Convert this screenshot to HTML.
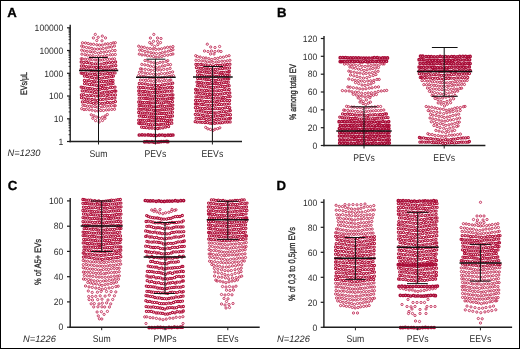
<!DOCTYPE html>
<html><head><meta charset="utf-8"><style>
html,body{margin:0;padding:0;background:#fff;}
svg{display:block;}
text{font-family:"Liberation Sans",sans-serif;fill:#2b2b2b;-webkit-font-smoothing:antialiased;text-rendering:geometricPrecision;}
svg{will-change:transform;}
circle{r:1.12px;fill:none;stroke:#b3103c;stroke-width:1.0px;}
circle.l0{stroke:#c2345e;stroke-width:0.95px;}
circle.l1{stroke:#be264f;stroke-width:0.92px;}
circle.l2{stroke:#b0103a;stroke-width:1.05px;}
circle.l3{stroke:#a80c37;stroke-width:1.4px;r:1.15px;}
</style></head><body>
<svg width="520" height="349" viewBox="0 0 520 349">
<rect x="0.5" y="0.5" width="519" height="348" fill="#fff" stroke="#000" stroke-width="1"/>
<g><circle cx="95.3" cy="34.4" r="1.1" class="l0"/><circle cx="93.4" cy="37.9" r="1.1" class="l0"/><circle cx="98.2" cy="37.3" r="1.1" class="l0"/><circle cx="102.3" cy="36.1" r="1.1" class="l0"/><circle cx="105.5" cy="37.9" r="1.1" class="l0"/><circle cx="96.8" cy="40.5" r="1.1" class="l0"/><circle cx="102.0" cy="40.8" r="1.1" class="l0"/><circle cx="99.5" cy="45.1" r="1.1" class="l1"/><circle cx="102.3" cy="45.1" r="1.1" class="l1"/><circle cx="96.8" cy="44.8" r="1.1" class="l1"/><circle cx="105.2" cy="44.1" r="1.1" class="l1"/><circle cx="93.6" cy="44.3" r="1.1" class="l1"/><circle cx="107.7" cy="43.8" r="1.1" class="l1"/><circle cx="90.8" cy="44.2" r="1.1" class="l1"/><circle cx="110.7" cy="43.6" r="1.1" class="l1"/><circle cx="88.2" cy="43.5" r="1.1" class="l1"/><circle cx="113.2" cy="42.9" r="1.1" class="l1"/><circle cx="85.5" cy="43.0" r="1.1" class="l1"/><circle cx="115.3" cy="42.7" r="1.1" class="l1"/><circle cx="82.5" cy="42.8" r="1.1" class="l1"/><circle cx="97.6" cy="49.1" r="1.1" class="l1"/><circle cx="100.4" cy="49.0" r="1.1" class="l1"/><circle cx="94.6" cy="49.1" r="1.1" class="l1"/><circle cx="103.2" cy="48.5" r="1.1" class="l1"/><circle cx="91.9" cy="48.4" r="1.1" class="l1"/><circle cx="106.2" cy="48.1" r="1.1" class="l1"/><circle cx="89.2" cy="47.8" r="1.1" class="l1"/><circle cx="108.9" cy="47.1" r="1.1" class="l1"/><circle cx="86.5" cy="47.4" r="1.1" class="l1"/><circle cx="111.5" cy="47.0" r="1.1" class="l1"/><circle cx="83.6" cy="46.8" r="1.1" class="l1"/><circle cx="114.4" cy="46.1" r="1.1" class="l1"/><circle cx="81.7" cy="46.1" r="1.1" class="l1"/><circle cx="98.5" cy="53.3" r="1.1" class="l1"/><circle cx="100.9" cy="52.4" r="1.1" class="l1"/><circle cx="95.3" cy="52.5" r="1.1" class="l1"/><circle cx="103.9" cy="52.2" r="1.1" class="l1"/><circle cx="92.4" cy="52.0" r="1.1" class="l1"/><circle cx="106.6" cy="51.7" r="1.1" class="l1"/><circle cx="90.1" cy="51.7" r="1.1" class="l1"/><circle cx="109.5" cy="51.3" r="1.1" class="l1"/><circle cx="87.1" cy="51.3" r="1.1" class="l1"/><circle cx="112.5" cy="50.5" r="1.1" class="l1"/><circle cx="84.4" cy="50.9" r="1.1" class="l1"/><circle cx="115.1" cy="50.5" r="1.1" class="l1"/><circle cx="81.7" cy="50.2" r="1.1" class="l1"/><circle cx="98.7" cy="56.7" r="1.1" class="l1"/><circle cx="101.4" cy="56.3" r="1.1" class="l1"/><circle cx="96.3" cy="56.6" r="1.1" class="l1"/><circle cx="104.4" cy="55.9" r="1.1" class="l1"/><circle cx="93.0" cy="55.7" r="1.1" class="l1"/><circle cx="107.1" cy="55.5" r="1.1" class="l1"/><circle cx="90.2" cy="55.7" r="1.1" class="l1"/><circle cx="110.3" cy="54.8" r="1.1" class="l1"/><circle cx="87.4" cy="55.1" r="1.1" class="l1"/><circle cx="112.6" cy="54.7" r="1.1" class="l1"/><circle cx="85.0" cy="54.7" r="1.1" class="l1"/><circle cx="115.3" cy="54.5" r="1.1" class="l1"/><circle cx="81.9" cy="54.2" r="1.1" class="l1"/><circle cx="97.2" cy="60.1" r="1.1" class="l1"/><circle cx="100.0" cy="60.1" r="1.1" class="l1"/><circle cx="95.1" cy="59.9" r="1.1" class="l1"/><circle cx="102.5" cy="60.0" r="1.1" class="l1"/><circle cx="92.3" cy="59.7" r="1.1" class="l1"/><circle cx="104.6" cy="59.3" r="1.1" class="l1"/><circle cx="90.0" cy="59.3" r="1.1" class="l1"/><circle cx="107.4" cy="59.5" r="1.1" class="l1"/><circle cx="87.5" cy="59.3" r="1.1" class="l1"/><circle cx="109.5" cy="59.2" r="1.1" class="l1"/><circle cx="85.2" cy="59.2" r="1.1" class="l1"/><circle cx="112.3" cy="59.0" r="1.1" class="l1"/><circle cx="82.4" cy="58.8" r="1.1" class="l1"/><circle cx="114.5" cy="58.8" r="1.1" class="l1"/><circle cx="81.2" cy="58.8" r="1.1" class="l1"/><circle cx="97.8" cy="63.9" r="1.1" class="l2"/><circle cx="101.0" cy="64.1" r="1.1" class="l2"/><circle cx="95.4" cy="63.8" r="1.1" class="l2"/><circle cx="104.0" cy="63.4" r="1.1" class="l2"/><circle cx="92.1" cy="63.7" r="1.1" class="l2"/><circle cx="106.6" cy="63.0" r="1.1" class="l2"/><circle cx="89.4" cy="62.9" r="1.1" class="l2"/><circle cx="109.6" cy="62.6" r="1.1" class="l2"/><circle cx="86.7" cy="62.5" r="1.1" class="l2"/><circle cx="112.5" cy="62.3" r="1.1" class="l2"/><circle cx="83.8" cy="62.4" r="1.1" class="l2"/><circle cx="115.6" cy="62.0" r="1.1" class="l2"/><circle cx="81.2" cy="62.0" r="1.1" class="l2"/><circle cx="98.8" cy="67.5" r="1.1" class="l2"/><circle cx="101.2" cy="67.4" r="1.1" class="l2"/><circle cx="96.4" cy="67.5" r="1.1" class="l2"/><circle cx="103.7" cy="67.1" r="1.1" class="l2"/><circle cx="93.7" cy="67.1" r="1.1" class="l2"/><circle cx="106.1" cy="66.9" r="1.1" class="l2"/><circle cx="91.2" cy="66.8" r="1.1" class="l2"/><circle cx="108.7" cy="66.8" r="1.1" class="l2"/><circle cx="89.0" cy="66.8" r="1.1" class="l2"/><circle cx="111.1" cy="66.2" r="1.1" class="l2"/><circle cx="86.4" cy="66.6" r="1.1" class="l2"/><circle cx="113.3" cy="65.8" r="1.1" class="l2"/><circle cx="83.6" cy="66.0" r="1.1" class="l2"/><circle cx="115.8" cy="65.6" r="1.1" class="l2"/><circle cx="81.4" cy="65.9" r="1.1" class="l2"/><circle cx="98.4" cy="71.1" r="1.1" class="l2"/><circle cx="100.8" cy="71.1" r="1.1" class="l2"/><circle cx="96.0" cy="71.0" r="1.1" class="l2"/><circle cx="103.4" cy="70.4" r="1.1" class="l2"/><circle cx="93.6" cy="70.8" r="1.1" class="l2"/><circle cx="106.2" cy="70.2" r="1.1" class="l2"/><circle cx="91.3" cy="70.6" r="1.1" class="l2"/><circle cx="108.3" cy="69.9" r="1.1" class="l2"/><circle cx="88.8" cy="69.9" r="1.1" class="l2"/><circle cx="110.7" cy="69.8" r="1.1" class="l2"/><circle cx="86.4" cy="69.8" r="1.1" class="l2"/><circle cx="113.3" cy="69.8" r="1.1" class="l2"/><circle cx="83.9" cy="69.4" r="1.1" class="l2"/><circle cx="115.8" cy="69.4" r="1.1" class="l2"/><circle cx="81.2" cy="69.1" r="1.1" class="l2"/><circle cx="97.4" cy="74.8" r="1.1" class="l2"/><circle cx="99.8" cy="74.4" r="1.1" class="l2"/><circle cx="95.0" cy="74.5" r="1.1" class="l2"/><circle cx="102.7" cy="74.2" r="1.1" class="l2"/><circle cx="92.6" cy="74.2" r="1.1" class="l2"/><circle cx="104.9" cy="73.9" r="1.1" class="l2"/><circle cx="90.0" cy="73.8" r="1.1" class="l2"/><circle cx="107.6" cy="73.5" r="1.1" class="l2"/><circle cx="87.5" cy="73.8" r="1.1" class="l2"/><circle cx="110.2" cy="73.4" r="1.1" class="l2"/><circle cx="85.3" cy="73.2" r="1.1" class="l2"/><circle cx="112.4" cy="73.1" r="1.1" class="l2"/><circle cx="82.7" cy="73.3" r="1.1" class="l2"/><circle cx="115.0" cy="72.9" r="1.1" class="l2"/><circle cx="81.2" cy="73.1" r="1.1" class="l2"/><circle cx="99.3" cy="78.5" r="1.1" class="l2"/><circle cx="101.9" cy="78.1" r="1.1" class="l2"/><circle cx="97.0" cy="78.0" r="1.1" class="l2"/><circle cx="104.6" cy="77.7" r="1.1" class="l2"/><circle cx="94.5" cy="78.2" r="1.1" class="l2"/><circle cx="107.1" cy="77.3" r="1.1" class="l2"/><circle cx="92.0" cy="77.4" r="1.1" class="l2"/><circle cx="109.3" cy="76.8" r="1.1" class="l2"/><circle cx="89.6" cy="77.1" r="1.1" class="l2"/><circle cx="111.8" cy="76.6" r="1.1" class="l2"/><circle cx="87.0" cy="76.5" r="1.1" class="l2"/><circle cx="113.4" cy="76.1" r="1.1" class="l2"/><circle cx="84.4" cy="76.1" r="1.1" class="l2"/><circle cx="99.1" cy="82.1" r="1.1" class="l2"/><circle cx="101.4" cy="81.7" r="1.1" class="l2"/><circle cx="96.3" cy="81.8" r="1.1" class="l2"/><circle cx="103.7" cy="81.4" r="1.1" class="l2"/><circle cx="94.2" cy="81.6" r="1.1" class="l2"/><circle cx="106.2" cy="81.3" r="1.1" class="l2"/><circle cx="91.7" cy="81.3" r="1.1" class="l2"/><circle cx="108.4" cy="80.9" r="1.1" class="l2"/><circle cx="89.0" cy="80.6" r="1.1" class="l2"/><circle cx="110.8" cy="80.5" r="1.1" class="l2"/><circle cx="86.8" cy="80.8" r="1.1" class="l2"/><circle cx="113.0" cy="80.4" r="1.1" class="l2"/><circle cx="84.4" cy="80.4" r="1.1" class="l2"/><circle cx="99.1" cy="86.0" r="1.1" class="l2"/><circle cx="101.6" cy="85.5" r="1.1" class="l2"/><circle cx="96.8" cy="85.7" r="1.1" class="l2"/><circle cx="103.8" cy="85.2" r="1.1" class="l2"/><circle cx="94.2" cy="84.9" r="1.1" class="l2"/><circle cx="106.3" cy="84.8" r="1.1" class="l2"/><circle cx="91.6" cy="84.7" r="1.1" class="l2"/><circle cx="108.7" cy="84.0" r="1.1" class="l2"/><circle cx="89.6" cy="84.4" r="1.1" class="l2"/><circle cx="111.1" cy="83.9" r="1.1" class="l2"/><circle cx="87.0" cy="83.9" r="1.1" class="l2"/><circle cx="113.0" cy="83.4" r="1.1" class="l2"/><circle cx="84.5" cy="83.6" r="1.1" class="l2"/><circle cx="97.8" cy="89.5" r="1.1" class="l2"/><circle cx="100.0" cy="89.3" r="1.1" class="l2"/><circle cx="95.1" cy="89.4" r="1.1" class="l2"/><circle cx="102.4" cy="88.5" r="1.1" class="l2"/><circle cx="92.6" cy="88.8" r="1.1" class="l2"/><circle cx="104.9" cy="88.4" r="1.1" class="l2"/><circle cx="90.1" cy="88.4" r="1.1" class="l2"/><circle cx="107.3" cy="88.3" r="1.1" class="l2"/><circle cx="87.9" cy="88.3" r="1.1" class="l2"/><circle cx="110.3" cy="87.6" r="1.1" class="l2"/><circle cx="85.4" cy="87.9" r="1.1" class="l2"/><circle cx="112.5" cy="87.3" r="1.1" class="l2"/><circle cx="83.0" cy="87.4" r="1.1" class="l2"/><circle cx="115.0" cy="87.1" r="1.1" class="l2"/><circle cx="81.2" cy="87.1" r="1.1" class="l2"/><circle cx="99.4" cy="93.1" r="1.1" class="l2"/><circle cx="102.1" cy="92.8" r="1.1" class="l2"/><circle cx="97.2" cy="92.8" r="1.1" class="l2"/><circle cx="104.3" cy="92.2" r="1.1" class="l2"/><circle cx="94.5" cy="92.6" r="1.1" class="l2"/><circle cx="106.9" cy="92.0" r="1.1" class="l2"/><circle cx="92.3" cy="91.9" r="1.1" class="l2"/><circle cx="109.4" cy="92.0" r="1.1" class="l2"/><circle cx="89.7" cy="91.8" r="1.1" class="l2"/><circle cx="111.9" cy="91.5" r="1.1" class="l2"/><circle cx="87.1" cy="91.2" r="1.1" class="l2"/><circle cx="114.6" cy="91.0" r="1.1" class="l2"/><circle cx="84.7" cy="91.1" r="1.1" class="l2"/><circle cx="115.8" cy="91.1" r="1.1" class="l2"/><circle cx="82.2" cy="90.8" r="1.1" class="l2"/><circle cx="98.3" cy="96.2" r="1.1" class="l2"/><circle cx="100.9" cy="95.8" r="1.1" class="l2"/><circle cx="95.4" cy="96.1" r="1.1" class="l2"/><circle cx="103.7" cy="95.6" r="1.1" class="l2"/><circle cx="92.3" cy="95.6" r="1.1" class="l2"/><circle cx="106.9" cy="95.5" r="1.1" class="l2"/><circle cx="89.7" cy="95.7" r="1.1" class="l2"/><circle cx="109.3" cy="94.9" r="1.1" class="l2"/><circle cx="86.8" cy="95.4" r="1.1" class="l2"/><circle cx="112.4" cy="94.9" r="1.1" class="l2"/><circle cx="83.7" cy="94.7" r="1.1" class="l2"/><circle cx="115.4" cy="94.9" r="1.1" class="l2"/><circle cx="81.4" cy="94.9" r="1.1" class="l2"/><circle cx="97.7" cy="100.4" r="1.1" class="l2"/><circle cx="100.5" cy="99.7" r="1.1" class="l2"/><circle cx="95.0" cy="100.0" r="1.1" class="l2"/><circle cx="103.2" cy="99.3" r="1.1" class="l2"/><circle cx="92.1" cy="99.5" r="1.1" class="l2"/><circle cx="106.1" cy="99.0" r="1.1" class="l2"/><circle cx="89.0" cy="99.2" r="1.1" class="l2"/><circle cx="109.1" cy="98.6" r="1.1" class="l2"/><circle cx="86.5" cy="99.0" r="1.1" class="l2"/><circle cx="111.9" cy="98.5" r="1.1" class="l2"/><circle cx="83.4" cy="98.1" r="1.1" class="l2"/><circle cx="114.9" cy="98.1" r="1.1" class="l2"/><circle cx="81.5" cy="97.7" r="1.1" class="l2"/><circle cx="99.4" cy="103.6" r="1.1" class="l2"/><circle cx="102.2" cy="103.3" r="1.1" class="l2"/><circle cx="96.2" cy="103.2" r="1.1" class="l2"/><circle cx="104.7" cy="103.2" r="1.1" class="l2"/><circle cx="93.5" cy="103.3" r="1.1" class="l2"/><circle cx="107.5" cy="102.5" r="1.1" class="l2"/><circle cx="90.8" cy="102.7" r="1.1" class="l2"/><circle cx="110.3" cy="102.6" r="1.1" class="l2"/><circle cx="87.8" cy="102.3" r="1.1" class="l2"/><circle cx="113.1" cy="102.3" r="1.1" class="l2"/><circle cx="84.9" cy="101.7" r="1.1" class="l2"/><circle cx="115.4" cy="101.6" r="1.1" class="l2"/><circle cx="82.4" cy="101.9" r="1.1" class="l2"/><circle cx="99.5" cy="107.4" r="1.1" class="l1"/><circle cx="102.2" cy="106.8" r="1.1" class="l1"/><circle cx="97.2" cy="107.1" r="1.1" class="l1"/><circle cx="104.4" cy="106.4" r="1.1" class="l1"/><circle cx="95.0" cy="106.6" r="1.1" class="l1"/><circle cx="106.8" cy="106.2" r="1.1" class="l1"/><circle cx="92.1" cy="106.7" r="1.1" class="l1"/><circle cx="109.4" cy="106.1" r="1.1" class="l1"/><circle cx="89.7" cy="106.3" r="1.1" class="l1"/><circle cx="111.4" cy="105.7" r="1.1" class="l1"/><circle cx="87.4" cy="106.2" r="1.1" class="l1"/><circle cx="114.2" cy="105.8" r="1.1" class="l1"/><circle cx="85.0" cy="105.6" r="1.1" class="l1"/><circle cx="115.3" cy="105.7" r="1.1" class="l1"/><circle cx="82.9" cy="105.3" r="1.1" class="l1"/><circle cx="98.0" cy="111.0" r="1.1" class="l1"/><circle cx="100.8" cy="110.5" r="1.1" class="l1"/><circle cx="95.2" cy="110.8" r="1.1" class="l1"/><circle cx="103.5" cy="110.5" r="1.1" class="l1"/><circle cx="92.1" cy="110.2" r="1.1" class="l1"/><circle cx="106.4" cy="109.9" r="1.1" class="l1"/><circle cx="89.2" cy="109.7" r="1.1" class="l1"/><circle cx="108.9" cy="109.8" r="1.1" class="l1"/><circle cx="86.3" cy="109.4" r="1.1" class="l1"/><circle cx="111.8" cy="109.4" r="1.1" class="l1"/><circle cx="84.0" cy="109.6" r="1.1" class="l1"/><circle cx="114.5" cy="109.3" r="1.1" class="l1"/><circle cx="81.7" cy="108.7" r="1.1" class="l1"/><circle cx="99.5" cy="118.4" r="1.1" class="l1"/><circle cx="102.4" cy="117.3" r="1.1" class="l1"/><circle cx="96.8" cy="117.1" r="1.1" class="l1"/><circle cx="105.1" cy="116.0" r="1.1" class="l1"/><circle cx="94.0" cy="115.8" r="1.1" class="l1"/><circle cx="107.3" cy="114.5" r="1.1" class="l1"/><circle cx="91.3" cy="114.8" r="1.1" class="l1"/><circle cx="99.1" cy="122.0" r="1.1" class="l1"/><circle cx="102.5" cy="120.5" r="1.1" class="l1"/><circle cx="95.6" cy="120.6" r="1.1" class="l1"/><circle cx="105.0" cy="118.3" r="1.1" class="l1"/><circle cx="92.8" cy="118.3" r="1.1" class="l1"/><circle cx="153.8" cy="34.4" r="1.1" class="l0"/><circle cx="150.4" cy="38.0" r="1.1" class="l0"/><circle cx="157.5" cy="38.0" r="1.1" class="l0"/><circle cx="161.0" cy="38.5" r="1.1" class="l0"/><circle cx="153.5" cy="41.3" r="1.1" class="l0"/><circle cx="157.5" cy="41.3" r="1.1" class="l0"/><circle cx="154.6" cy="46.5" r="1.1" class="l1"/><circle cx="157.8" cy="44.6" r="1.1" class="l1"/><circle cx="151.8" cy="44.3" r="1.1" class="l1"/><circle cx="160.5" cy="42.6" r="1.1" class="l1"/><circle cx="149.7" cy="42.6" r="1.1" class="l1"/><circle cx="155.8" cy="49.4" r="1.1" class="l1"/><circle cx="158.8" cy="49.2" r="1.1" class="l1"/><circle cx="153.0" cy="49.0" r="1.1" class="l1"/><circle cx="161.6" cy="48.8" r="1.1" class="l1"/><circle cx="150.2" cy="48.6" r="1.1" class="l1"/><circle cx="164.7" cy="47.9" r="1.1" class="l1"/><circle cx="147.3" cy="48.3" r="1.1" class="l1"/><circle cx="167.5" cy="47.3" r="1.1" class="l1"/><circle cx="144.3" cy="47.3" r="1.1" class="l1"/><circle cx="170.2" cy="47.2" r="1.1" class="l1"/><circle cx="141.6" cy="47.1" r="1.1" class="l1"/><circle cx="172.9" cy="46.6" r="1.1" class="l1"/><circle cx="138.7" cy="46.2" r="1.1" class="l1"/><circle cx="156.5" cy="53.5" r="1.1" class="l1"/><circle cx="159.8" cy="53.4" r="1.1" class="l1"/><circle cx="153.6" cy="53.1" r="1.1" class="l1"/><circle cx="162.3" cy="52.7" r="1.1" class="l1"/><circle cx="151.0" cy="52.7" r="1.1" class="l1"/><circle cx="165.1" cy="52.0" r="1.1" class="l1"/><circle cx="148.0" cy="52.0" r="1.1" class="l1"/><circle cx="168.3" cy="51.2" r="1.1" class="l1"/><circle cx="145.1" cy="51.4" r="1.1" class="l1"/><circle cx="170.9" cy="50.4" r="1.1" class="l1"/><circle cx="142.3" cy="50.6" r="1.1" class="l1"/><circle cx="172.9" cy="49.7" r="1.1" class="l1"/><circle cx="139.7" cy="50.1" r="1.1" class="l1"/><circle cx="156.0" cy="57.1" r="1.1" class="l1"/><circle cx="159.1" cy="56.8" r="1.1" class="l1"/><circle cx="153.5" cy="56.5" r="1.1" class="l1"/><circle cx="161.9" cy="56.4" r="1.1" class="l1"/><circle cx="150.5" cy="56.0" r="1.1" class="l1"/><circle cx="164.6" cy="55.5" r="1.1" class="l1"/><circle cx="147.5" cy="55.7" r="1.1" class="l1"/><circle cx="167.7" cy="55.2" r="1.1" class="l1"/><circle cx="144.9" cy="54.9" r="1.1" class="l1"/><circle cx="170.7" cy="54.5" r="1.1" class="l1"/><circle cx="142.0" cy="54.9" r="1.1" class="l1"/><circle cx="172.9" cy="54.0" r="1.1" class="l1"/><circle cx="139.3" cy="54.1" r="1.1" class="l1"/><circle cx="157.3" cy="63.4" r="1.1" class="l1"/><circle cx="160.0" cy="62.4" r="1.1" class="l1"/><circle cx="153.9" cy="62.8" r="1.1" class="l1"/><circle cx="162.9" cy="62.2" r="1.1" class="l1"/><circle cx="151.0" cy="62.2" r="1.1" class="l1"/><circle cx="166.2" cy="61.4" r="1.1" class="l1"/><circle cx="148.0" cy="61.2" r="1.1" class="l1"/><circle cx="167.8" cy="60.7" r="1.1" class="l1"/><circle cx="145.0" cy="60.5" r="1.1" class="l1"/><circle cx="156.1" cy="67.7" r="1.1" class="l1"/><circle cx="159.2" cy="67.1" r="1.1" class="l1"/><circle cx="153.6" cy="66.7" r="1.1" class="l1"/><circle cx="162.3" cy="66.0" r="1.1" class="l1"/><circle cx="150.5" cy="66.2" r="1.1" class="l1"/><circle cx="164.9" cy="65.7" r="1.1" class="l1"/><circle cx="147.8" cy="65.3" r="1.1" class="l1"/><circle cx="168.0" cy="64.6" r="1.1" class="l1"/><circle cx="144.8" cy="64.8" r="1.1" class="l1"/><circle cx="170.5" cy="64.6" r="1.1" class="l1"/><circle cx="141.8" cy="64.4" r="1.1" class="l1"/><circle cx="154.4" cy="70.4" r="1.1" class="l1"/><circle cx="157.7" cy="70.1" r="1.1" class="l1"/><circle cx="151.2" cy="70.3" r="1.1" class="l1"/><circle cx="160.7" cy="70.0" r="1.1" class="l1"/><circle cx="148.5" cy="69.7" r="1.1" class="l1"/><circle cx="163.7" cy="69.4" r="1.1" class="l1"/><circle cx="145.2" cy="69.3" r="1.1" class="l1"/><circle cx="167.1" cy="69.3" r="1.1" class="l1"/><circle cx="141.9" cy="69.1" r="1.1" class="l1"/><circle cx="170.1" cy="68.4" r="1.1" class="l1"/><circle cx="140.5" cy="68.8" r="1.1" class="l1"/><circle cx="155.9" cy="74.5" r="1.1" class="l1"/><circle cx="158.9" cy="74.3" r="1.1" class="l1"/><circle cx="153.5" cy="74.3" r="1.1" class="l1"/><circle cx="161.5" cy="73.6" r="1.1" class="l1"/><circle cx="150.3" cy="73.7" r="1.1" class="l1"/><circle cx="164.6" cy="73.6" r="1.1" class="l1"/><circle cx="147.5" cy="73.5" r="1.1" class="l1"/><circle cx="167.3" cy="73.2" r="1.1" class="l1"/><circle cx="145.1" cy="73.0" r="1.1" class="l1"/><circle cx="169.8" cy="72.5" r="1.1" class="l1"/><circle cx="142.1" cy="72.3" r="1.1" class="l1"/><circle cx="172.6" cy="71.9" r="1.1" class="l1"/><circle cx="139.5" cy="72.3" r="1.1" class="l1"/><circle cx="156.3" cy="78.5" r="1.1" class="l1"/><circle cx="158.9" cy="78.2" r="1.1" class="l1"/><circle cx="154.1" cy="77.9" r="1.1" class="l1"/><circle cx="161.6" cy="77.7" r="1.1" class="l1"/><circle cx="151.6" cy="77.7" r="1.1" class="l1"/><circle cx="164.2" cy="77.3" r="1.1" class="l1"/><circle cx="149.1" cy="77.4" r="1.1" class="l1"/><circle cx="166.6" cy="76.9" r="1.1" class="l1"/><circle cx="146.3" cy="77.0" r="1.1" class="l1"/><circle cx="169.1" cy="76.4" r="1.1" class="l1"/><circle cx="144.1" cy="76.3" r="1.1" class="l1"/><circle cx="171.3" cy="76.0" r="1.1" class="l1"/><circle cx="141.5" cy="76.0" r="1.1" class="l1"/><circle cx="173.4" cy="75.7" r="1.1" class="l1"/><circle cx="138.6" cy="75.5" r="1.1" class="l1"/><circle cx="156.1" cy="81.5" r="1.1" class="l1"/><circle cx="159.1" cy="81.1" r="1.1" class="l1"/><circle cx="153.7" cy="81.5" r="1.1" class="l1"/><circle cx="161.6" cy="81.3" r="1.1" class="l1"/><circle cx="150.9" cy="81.0" r="1.1" class="l1"/><circle cx="164.2" cy="80.6" r="1.1" class="l1"/><circle cx="148.4" cy="80.6" r="1.1" class="l1"/><circle cx="166.5" cy="80.5" r="1.1" class="l1"/><circle cx="145.8" cy="80.4" r="1.1" class="l1"/><circle cx="169.3" cy="80.4" r="1.1" class="l1"/><circle cx="143.5" cy="80.1" r="1.1" class="l1"/><circle cx="170.8" cy="80.0" r="1.1" class="l1"/><circle cx="140.4" cy="80.0" r="1.1" class="l1"/><circle cx="156.5" cy="85.5" r="1.1" class="l2"/><circle cx="159.4" cy="85.4" r="1.1" class="l2"/><circle cx="153.6" cy="85.2" r="1.1" class="l2"/><circle cx="162.3" cy="84.8" r="1.1" class="l2"/><circle cx="151.0" cy="84.8" r="1.1" class="l2"/><circle cx="164.8" cy="84.4" r="1.1" class="l2"/><circle cx="148.0" cy="84.6" r="1.1" class="l2"/><circle cx="167.8" cy="83.8" r="1.1" class="l2"/><circle cx="145.3" cy="83.8" r="1.1" class="l2"/><circle cx="170.7" cy="83.8" r="1.1" class="l2"/><circle cx="142.2" cy="83.7" r="1.1" class="l2"/><circle cx="172.7" cy="83.2" r="1.1" class="l2"/><circle cx="139.3" cy="83.4" r="1.1" class="l2"/><circle cx="155.5" cy="89.2" r="1.1" class="l2"/><circle cx="157.7" cy="88.9" r="1.1" class="l2"/><circle cx="153.1" cy="88.7" r="1.1" class="l2"/><circle cx="160.1" cy="88.5" r="1.1" class="l2"/><circle cx="150.7" cy="88.4" r="1.1" class="l2"/><circle cx="162.6" cy="88.1" r="1.1" class="l2"/><circle cx="148.1" cy="88.1" r="1.1" class="l2"/><circle cx="165.0" cy="88.2" r="1.1" class="l2"/><circle cx="145.4" cy="87.8" r="1.1" class="l2"/><circle cx="167.6" cy="87.6" r="1.1" class="l2"/><circle cx="143.0" cy="87.5" r="1.1" class="l2"/><circle cx="170.3" cy="87.3" r="1.1" class="l2"/><circle cx="140.5" cy="87.6" r="1.1" class="l2"/><circle cx="172.3" cy="87.5" r="1.1" class="l2"/><circle cx="138.7" cy="87.2" r="1.1" class="l2"/><circle cx="155.0" cy="92.4" r="1.1" class="l2"/><circle cx="157.3" cy="92.5" r="1.1" class="l2"/><circle cx="152.6" cy="92.3" r="1.1" class="l2"/><circle cx="159.7" cy="92.0" r="1.1" class="l2"/><circle cx="150.2" cy="92.2" r="1.1" class="l2"/><circle cx="162.4" cy="92.0" r="1.1" class="l2"/><circle cx="147.7" cy="92.0" r="1.1" class="l2"/><circle cx="164.7" cy="91.7" r="1.1" class="l2"/><circle cx="145.2" cy="91.5" r="1.1" class="l2"/><circle cx="167.1" cy="91.1" r="1.1" class="l2"/><circle cx="142.8" cy="91.5" r="1.1" class="l2"/><circle cx="169.5" cy="91.2" r="1.1" class="l2"/><circle cx="140.2" cy="91.1" r="1.1" class="l2"/><circle cx="172.0" cy="91.0" r="1.1" class="l2"/><circle cx="138.7" cy="91.0" r="1.1" class="l2"/><circle cx="156.5" cy="96.1" r="1.1" class="l2"/><circle cx="158.7" cy="95.8" r="1.1" class="l2"/><circle cx="153.7" cy="96.1" r="1.1" class="l2"/><circle cx="161.2" cy="95.7" r="1.1" class="l2"/><circle cx="151.2" cy="95.8" r="1.1" class="l2"/><circle cx="163.6" cy="95.7" r="1.1" class="l2"/><circle cx="148.9" cy="95.1" r="1.1" class="l2"/><circle cx="165.9" cy="95.1" r="1.1" class="l2"/><circle cx="146.5" cy="95.1" r="1.1" class="l2"/><circle cx="168.5" cy="95.1" r="1.1" class="l2"/><circle cx="143.9" cy="94.8" r="1.1" class="l2"/><circle cx="171.3" cy="94.9" r="1.1" class="l2"/><circle cx="141.5" cy="94.8" r="1.1" class="l2"/><circle cx="172.9" cy="94.8" r="1.1" class="l2"/><circle cx="139.0" cy="94.4" r="1.1" class="l2"/><circle cx="156.4" cy="99.5" r="1.1" class="l2"/><circle cx="158.5" cy="99.3" r="1.1" class="l2"/><circle cx="154.5" cy="99.1" r="1.1" class="l2"/><circle cx="160.7" cy="99.1" r="1.1" class="l2"/><circle cx="152.2" cy="99.1" r="1.1" class="l2"/><circle cx="163.0" cy="99.0" r="1.1" class="l2"/><circle cx="150.0" cy="99.2" r="1.1" class="l2"/><circle cx="165.3" cy="99.2" r="1.1" class="l2"/><circle cx="148.1" cy="98.6" r="1.1" class="l2"/><circle cx="167.4" cy="99.0" r="1.1" class="l2"/><circle cx="146.0" cy="98.5" r="1.1" class="l2"/><circle cx="169.2" cy="98.7" r="1.1" class="l2"/><circle cx="143.9" cy="98.3" r="1.1" class="l2"/><circle cx="171.4" cy="98.5" r="1.1" class="l2"/><circle cx="141.4" cy="98.2" r="1.1" class="l2"/><circle cx="172.9" cy="98.1" r="1.1" class="l2"/><circle cx="139.2" cy="98.2" r="1.1" class="l2"/><circle cx="155.2" cy="102.9" r="1.1" class="l2"/><circle cx="157.4" cy="102.7" r="1.1" class="l2"/><circle cx="153.1" cy="102.8" r="1.1" class="l2"/><circle cx="159.5" cy="102.8" r="1.1" class="l2"/><circle cx="150.7" cy="103.0" r="1.1" class="l2"/><circle cx="161.6" cy="102.9" r="1.1" class="l2"/><circle cx="148.9" cy="102.7" r="1.1" class="l2"/><circle cx="163.7" cy="102.7" r="1.1" class="l2"/><circle cx="146.9" cy="102.5" r="1.1" class="l2"/><circle cx="166.0" cy="102.1" r="1.1" class="l2"/><circle cx="144.3" cy="102.4" r="1.1" class="l2"/><circle cx="168.2" cy="102.3" r="1.1" class="l2"/><circle cx="142.3" cy="102.4" r="1.1" class="l2"/><circle cx="170.2" cy="102.3" r="1.1" class="l2"/><circle cx="140.5" cy="102.0" r="1.1" class="l2"/><circle cx="172.5" cy="101.6" r="1.1" class="l2"/><circle cx="138.7" cy="102.0" r="1.1" class="l2"/><circle cx="155.9" cy="106.8" r="1.1" class="l2"/><circle cx="158.2" cy="106.6" r="1.1" class="l2"/><circle cx="154.0" cy="106.8" r="1.1" class="l2"/><circle cx="160.4" cy="106.2" r="1.1" class="l2"/><circle cx="151.8" cy="106.7" r="1.1" class="l2"/><circle cx="162.3" cy="106.0" r="1.1" class="l2"/><circle cx="149.5" cy="106.0" r="1.1" class="l2"/><circle cx="164.6" cy="106.4" r="1.1" class="l2"/><circle cx="147.7" cy="106.2" r="1.1" class="l2"/><circle cx="166.8" cy="106.1" r="1.1" class="l2"/><circle cx="145.4" cy="106.0" r="1.1" class="l2"/><circle cx="168.9" cy="105.8" r="1.1" class="l2"/><circle cx="143.1" cy="105.8" r="1.1" class="l2"/><circle cx="170.9" cy="105.6" r="1.1" class="l2"/><circle cx="140.9" cy="105.6" r="1.1" class="l2"/><circle cx="172.8" cy="105.1" r="1.1" class="l2"/><circle cx="139.2" cy="105.4" r="1.1" class="l2"/><circle cx="155.6" cy="110.5" r="1.1" class="l2"/><circle cx="158.0" cy="110.3" r="1.1" class="l2"/><circle cx="153.9" cy="110.6" r="1.1" class="l2"/><circle cx="160.0" cy="110.1" r="1.1" class="l2"/><circle cx="151.6" cy="109.9" r="1.1" class="l2"/><circle cx="162.0" cy="109.7" r="1.1" class="l2"/><circle cx="149.2" cy="109.6" r="1.1" class="l2"/><circle cx="164.2" cy="109.8" r="1.1" class="l2"/><circle cx="147.1" cy="110.0" r="1.1" class="l2"/><circle cx="166.3" cy="109.7" r="1.1" class="l2"/><circle cx="145.3" cy="109.2" r="1.1" class="l2"/><circle cx="168.7" cy="109.1" r="1.1" class="l2"/><circle cx="142.8" cy="109.1" r="1.1" class="l2"/><circle cx="170.8" cy="109.2" r="1.1" class="l2"/><circle cx="141.1" cy="109.3" r="1.1" class="l2"/><circle cx="172.7" cy="108.6" r="1.1" class="l2"/><circle cx="138.8" cy="109.0" r="1.1" class="l2"/><circle cx="155.6" cy="113.9" r="1.1" class="l2"/><circle cx="157.7" cy="113.8" r="1.1" class="l2"/><circle cx="153.3" cy="114.0" r="1.1" class="l2"/><circle cx="159.9" cy="113.6" r="1.1" class="l2"/><circle cx="151.4" cy="114.0" r="1.1" class="l2"/><circle cx="161.8" cy="113.5" r="1.1" class="l2"/><circle cx="149.4" cy="113.2" r="1.1" class="l2"/><circle cx="164.2" cy="113.4" r="1.1" class="l2"/><circle cx="147.1" cy="113.2" r="1.1" class="l2"/><circle cx="166.3" cy="113.4" r="1.1" class="l2"/><circle cx="144.8" cy="113.2" r="1.1" class="l2"/><circle cx="168.4" cy="112.9" r="1.1" class="l2"/><circle cx="142.9" cy="112.8" r="1.1" class="l2"/><circle cx="170.6" cy="112.8" r="1.1" class="l2"/><circle cx="140.5" cy="112.9" r="1.1" class="l2"/><circle cx="172.4" cy="112.2" r="1.1" class="l2"/><circle cx="138.7" cy="112.5" r="1.1" class="l2"/><circle cx="156.2" cy="117.6" r="1.1" class="l2"/><circle cx="158.2" cy="117.7" r="1.1" class="l2"/><circle cx="153.9" cy="117.4" r="1.1" class="l2"/><circle cx="160.5" cy="117.5" r="1.1" class="l2"/><circle cx="151.7" cy="117.3" r="1.1" class="l2"/><circle cx="162.6" cy="117.3" r="1.1" class="l2"/><circle cx="149.8" cy="117.0" r="1.1" class="l2"/><circle cx="164.8" cy="117.1" r="1.1" class="l2"/><circle cx="147.6" cy="116.9" r="1.1" class="l2"/><circle cx="166.6" cy="116.7" r="1.1" class="l2"/><circle cx="145.4" cy="116.5" r="1.1" class="l2"/><circle cx="168.8" cy="116.6" r="1.1" class="l2"/><circle cx="143.4" cy="116.5" r="1.1" class="l2"/><circle cx="170.8" cy="116.3" r="1.1" class="l2"/><circle cx="141.5" cy="116.0" r="1.1" class="l2"/><circle cx="172.5" cy="115.9" r="1.1" class="l2"/><circle cx="139.3" cy="116.1" r="1.1" class="l2"/><circle cx="154.9" cy="120.9" r="1.1" class="l2"/><circle cx="156.9" cy="120.7" r="1.1" class="l2"/><circle cx="153.1" cy="120.9" r="1.1" class="l2"/><circle cx="159.5" cy="120.8" r="1.1" class="l2"/><circle cx="150.6" cy="121.0" r="1.1" class="l2"/><circle cx="161.3" cy="120.7" r="1.1" class="l2"/><circle cx="148.9" cy="120.4" r="1.1" class="l2"/><circle cx="163.5" cy="120.4" r="1.1" class="l2"/><circle cx="146.8" cy="120.6" r="1.1" class="l2"/><circle cx="165.5" cy="120.5" r="1.1" class="l2"/><circle cx="144.3" cy="120.3" r="1.1" class="l2"/><circle cx="168.0" cy="120.5" r="1.1" class="l2"/><circle cx="142.1" cy="120.1" r="1.1" class="l2"/><circle cx="169.7" cy="119.9" r="1.1" class="l2"/><circle cx="140.4" cy="120.3" r="1.1" class="l2"/><circle cx="171.7" cy="120.1" r="1.1" class="l2"/><circle cx="138.7" cy="120.1" r="1.1" class="l2"/><circle cx="154.9" cy="124.6" r="1.1" class="l2"/><circle cx="156.6" cy="124.5" r="1.1" class="l2"/><circle cx="152.5" cy="124.9" r="1.1" class="l2"/><circle cx="159.2" cy="124.8" r="1.1" class="l2"/><circle cx="150.4" cy="124.7" r="1.1" class="l2"/><circle cx="160.9" cy="124.3" r="1.1" class="l2"/><circle cx="148.6" cy="124.6" r="1.1" class="l2"/><circle cx="163.2" cy="124.2" r="1.1" class="l2"/><circle cx="146.5" cy="124.0" r="1.1" class="l2"/><circle cx="165.4" cy="123.9" r="1.1" class="l2"/><circle cx="144.1" cy="123.7" r="1.1" class="l2"/><circle cx="167.5" cy="123.4" r="1.1" class="l2"/><circle cx="141.9" cy="123.7" r="1.1" class="l2"/><circle cx="169.4" cy="123.7" r="1.1" class="l2"/><circle cx="139.8" cy="123.5" r="1.1" class="l2"/><circle cx="171.8" cy="123.2" r="1.1" class="l2"/><circle cx="138.7" cy="123.2" r="1.1" class="l2"/><circle cx="155.1" cy="128.5" r="1.1" class="l2"/><circle cx="157.8" cy="128.5" r="1.1" class="l2"/><circle cx="152.0" cy="128.0" r="1.1" class="l2"/><circle cx="160.1" cy="128.1" r="1.1" class="l2"/><circle cx="149.2" cy="128.0" r="1.1" class="l2"/><circle cx="162.9" cy="127.8" r="1.1" class="l2"/><circle cx="146.4" cy="127.7" r="1.1" class="l2"/><circle cx="165.7" cy="127.0" r="1.1" class="l2"/><circle cx="143.8" cy="127.4" r="1.1" class="l2"/><circle cx="168.6" cy="126.6" r="1.1" class="l2"/><circle cx="141.6" cy="127.1" r="1.1" class="l2"/><circle cx="156.3" cy="135.5" r="1.1" class="l3"/><circle cx="159.4" cy="135.1" r="1.1" class="l3"/><circle cx="153.7" cy="135.3" r="1.1" class="l3"/><circle cx="162.3" cy="135.0" r="1.1" class="l3"/><circle cx="150.9" cy="135.2" r="1.1" class="l3"/><circle cx="165.0" cy="135.4" r="1.1" class="l3"/><circle cx="148.1" cy="134.9" r="1.1" class="l3"/><circle cx="168.0" cy="135.1" r="1.1" class="l3"/><circle cx="144.9" cy="135.0" r="1.1" class="l3"/><circle cx="170.6" cy="135.2" r="1.1" class="l3"/><circle cx="142.1" cy="134.8" r="1.1" class="l3"/><circle cx="172.9" cy="135.0" r="1.1" class="l3"/><circle cx="139.3" cy="135.0" r="1.1" class="l3"/><circle cx="156.7" cy="142.0" r="1.1" class="l3"/><circle cx="158.9" cy="141.9" r="1.1" class="l3"/><circle cx="154.1" cy="142.2" r="1.1" class="l3"/><circle cx="161.3" cy="141.6" r="1.1" class="l3"/><circle cx="151.9" cy="141.7" r="1.1" class="l3"/><circle cx="163.8" cy="141.5" r="1.1" class="l3"/><circle cx="149.2" cy="141.9" r="1.1" class="l3"/><circle cx="166.5" cy="141.4" r="1.1" class="l3"/><circle cx="146.9" cy="141.7" r="1.1" class="l3"/><circle cx="167.8" cy="141.7" r="1.1" class="l3"/><circle cx="144.6" cy="141.8" r="1.1" class="l3"/><circle cx="207.3" cy="44.2" r="1.1" class="l0"/><circle cx="210.7" cy="47.0" r="1.1" class="l0"/><circle cx="215.0" cy="47.5" r="1.1" class="l0"/><circle cx="219.6" cy="46.5" r="1.1" class="l0"/><circle cx="204.5" cy="51.0" r="1.1" class="l0"/><circle cx="208.0" cy="51.5" r="1.1" class="l0"/><circle cx="211.5" cy="51.0" r="1.1" class="l0"/><circle cx="215.0" cy="51.5" r="1.1" class="l0"/><circle cx="218.5" cy="51.0" r="1.1" class="l0"/><circle cx="221.0" cy="51.5" r="1.1" class="l0"/><circle cx="210.5" cy="54.0" r="1.1" class="l0"/><circle cx="214.0" cy="54.0" r="1.1" class="l0"/><circle cx="211.8" cy="59.5" r="1.1" class="l1"/><circle cx="214.9" cy="58.6" r="1.1" class="l1"/><circle cx="208.9" cy="58.7" r="1.1" class="l1"/><circle cx="217.7" cy="58.4" r="1.1" class="l1"/><circle cx="206.0" cy="58.0" r="1.1" class="l1"/><circle cx="220.4" cy="57.4" r="1.1" class="l1"/><circle cx="203.4" cy="57.8" r="1.1" class="l1"/><circle cx="223.4" cy="57.2" r="1.1" class="l1"/><circle cx="200.2" cy="57.1" r="1.1" class="l1"/><circle cx="226.4" cy="56.3" r="1.1" class="l1"/><circle cx="197.4" cy="56.6" r="1.1" class="l1"/><circle cx="229.1" cy="55.7" r="1.1" class="l1"/><circle cx="195.7" cy="55.7" r="1.1" class="l1"/><circle cx="213.1" cy="62.4" r="1.1" class="l1"/><circle cx="216.3" cy="62.0" r="1.1" class="l1"/><circle cx="210.2" cy="62.0" r="1.1" class="l1"/><circle cx="218.9" cy="61.7" r="1.1" class="l1"/><circle cx="207.4" cy="61.9" r="1.1" class="l1"/><circle cx="221.9" cy="61.2" r="1.1" class="l1"/><circle cx="204.7" cy="61.1" r="1.1" class="l1"/><circle cx="224.6" cy="61.3" r="1.1" class="l1"/><circle cx="201.8" cy="60.9" r="1.1" class="l1"/><circle cx="227.3" cy="60.8" r="1.1" class="l1"/><circle cx="198.7" cy="60.5" r="1.1" class="l1"/><circle cx="229.9" cy="60.3" r="1.1" class="l1"/><circle cx="195.9" cy="60.3" r="1.1" class="l1"/><circle cx="212.6" cy="66.1" r="1.1" class="l2"/><circle cx="215.5" cy="65.7" r="1.1" class="l2"/><circle cx="210.4" cy="65.6" r="1.1" class="l2"/><circle cx="217.6" cy="65.5" r="1.1" class="l2"/><circle cx="207.9" cy="65.8" r="1.1" class="l2"/><circle cx="220.0" cy="65.4" r="1.1" class="l2"/><circle cx="205.7" cy="64.9" r="1.1" class="l2"/><circle cx="222.4" cy="64.9" r="1.1" class="l2"/><circle cx="203.1" cy="64.8" r="1.1" class="l2"/><circle cx="224.8" cy="64.8" r="1.1" class="l2"/><circle cx="200.9" cy="64.5" r="1.1" class="l2"/><circle cx="227.3" cy="64.5" r="1.1" class="l2"/><circle cx="198.1" cy="64.3" r="1.1" class="l2"/><circle cx="229.9" cy="64.2" r="1.1" class="l2"/><circle cx="195.9" cy="64.3" r="1.1" class="l2"/><circle cx="213.2" cy="69.8" r="1.1" class="l2"/><circle cx="215.3" cy="69.4" r="1.1" class="l2"/><circle cx="210.6" cy="69.3" r="1.1" class="l2"/><circle cx="217.7" cy="69.2" r="1.1" class="l2"/><circle cx="208.2" cy="69.0" r="1.1" class="l2"/><circle cx="220.1" cy="68.7" r="1.1" class="l2"/><circle cx="206.0" cy="69.0" r="1.1" class="l2"/><circle cx="222.6" cy="68.5" r="1.1" class="l2"/><circle cx="203.3" cy="68.3" r="1.1" class="l2"/><circle cx="225.0" cy="68.0" r="1.1" class="l2"/><circle cx="200.8" cy="68.3" r="1.1" class="l2"/><circle cx="227.3" cy="68.2" r="1.1" class="l2"/><circle cx="198.8" cy="68.1" r="1.1" class="l2"/><circle cx="229.6" cy="67.9" r="1.1" class="l2"/><circle cx="196.4" cy="67.6" r="1.1" class="l2"/><circle cx="213.7" cy="73.0" r="1.1" class="l2"/><circle cx="216.2" cy="72.7" r="1.1" class="l2"/><circle cx="211.6" cy="72.8" r="1.1" class="l2"/><circle cx="218.8" cy="72.8" r="1.1" class="l2"/><circle cx="209.1" cy="72.6" r="1.1" class="l2"/><circle cx="221.2" cy="72.4" r="1.1" class="l2"/><circle cx="206.8" cy="72.3" r="1.1" class="l2"/><circle cx="223.1" cy="72.3" r="1.1" class="l2"/><circle cx="204.7" cy="72.0" r="1.1" class="l2"/><circle cx="225.7" cy="72.1" r="1.1" class="l2"/><circle cx="202.3" cy="71.7" r="1.1" class="l2"/><circle cx="228.2" cy="71.8" r="1.1" class="l2"/><circle cx="199.9" cy="72.0" r="1.1" class="l2"/><circle cx="229.3" cy="71.4" r="1.1" class="l2"/><circle cx="197.4" cy="71.3" r="1.1" class="l2"/><circle cx="213.5" cy="76.7" r="1.1" class="l2"/><circle cx="216.0" cy="76.4" r="1.1" class="l2"/><circle cx="211.4" cy="76.2" r="1.1" class="l2"/><circle cx="218.5" cy="76.2" r="1.1" class="l2"/><circle cx="209.0" cy="76.2" r="1.1" class="l2"/><circle cx="220.4" cy="75.7" r="1.1" class="l2"/><circle cx="206.5" cy="76.1" r="1.1" class="l2"/><circle cx="222.7" cy="75.5" r="1.1" class="l2"/><circle cx="204.5" cy="75.8" r="1.1" class="l2"/><circle cx="225.4" cy="75.6" r="1.1" class="l2"/><circle cx="201.8" cy="75.3" r="1.1" class="l2"/><circle cx="227.4" cy="75.5" r="1.1" class="l2"/><circle cx="199.7" cy="75.4" r="1.1" class="l2"/><circle cx="229.1" cy="74.9" r="1.1" class="l2"/><circle cx="197.6" cy="74.9" r="1.1" class="l2"/><circle cx="213.8" cy="80.2" r="1.1" class="l2"/><circle cx="216.0" cy="80.3" r="1.1" class="l2"/><circle cx="211.4" cy="80.3" r="1.1" class="l2"/><circle cx="218.4" cy="79.7" r="1.1" class="l2"/><circle cx="209.1" cy="79.6" r="1.1" class="l2"/><circle cx="220.6" cy="79.8" r="1.1" class="l2"/><circle cx="206.8" cy="79.7" r="1.1" class="l2"/><circle cx="222.8" cy="79.1" r="1.1" class="l2"/><circle cx="204.9" cy="79.1" r="1.1" class="l2"/><circle cx="225.2" cy="79.0" r="1.1" class="l2"/><circle cx="202.4" cy="78.9" r="1.1" class="l2"/><circle cx="227.4" cy="78.8" r="1.1" class="l2"/><circle cx="199.9" cy="78.6" r="1.1" class="l2"/><circle cx="228.8" cy="78.8" r="1.1" class="l2"/><circle cx="197.7" cy="78.5" r="1.1" class="l2"/><circle cx="212.7" cy="83.8" r="1.1" class="l2"/><circle cx="215.0" cy="83.4" r="1.1" class="l2"/><circle cx="210.1" cy="83.6" r="1.1" class="l2"/><circle cx="216.9" cy="83.4" r="1.1" class="l2"/><circle cx="207.9" cy="83.5" r="1.1" class="l2"/><circle cx="219.4" cy="83.4" r="1.1" class="l2"/><circle cx="205.6" cy="83.1" r="1.1" class="l2"/><circle cx="221.5" cy="83.0" r="1.1" class="l2"/><circle cx="203.2" cy="83.2" r="1.1" class="l2"/><circle cx="223.9" cy="82.7" r="1.1" class="l2"/><circle cx="201.3" cy="82.6" r="1.1" class="l2"/><circle cx="226.2" cy="82.4" r="1.1" class="l2"/><circle cx="198.8" cy="82.5" r="1.1" class="l2"/><circle cx="228.2" cy="82.2" r="1.1" class="l2"/><circle cx="197.0" cy="82.1" r="1.1" class="l2"/><circle cx="213.3" cy="87.7" r="1.1" class="l2"/><circle cx="215.6" cy="87.1" r="1.1" class="l2"/><circle cx="211.2" cy="87.4" r="1.1" class="l2"/><circle cx="218.1" cy="86.9" r="1.1" class="l2"/><circle cx="208.9" cy="87.1" r="1.1" class="l2"/><circle cx="220.6" cy="86.6" r="1.1" class="l2"/><circle cx="206.5" cy="86.7" r="1.1" class="l2"/><circle cx="222.6" cy="86.3" r="1.1" class="l2"/><circle cx="204.3" cy="86.8" r="1.1" class="l2"/><circle cx="224.9" cy="86.4" r="1.1" class="l2"/><circle cx="201.7" cy="86.0" r="1.1" class="l2"/><circle cx="227.4" cy="85.9" r="1.1" class="l2"/><circle cx="199.3" cy="86.0" r="1.1" class="l2"/><circle cx="229.1" cy="85.7" r="1.1" class="l2"/><circle cx="197.3" cy="85.6" r="1.1" class="l2"/><circle cx="212.1" cy="90.9" r="1.1" class="l2"/><circle cx="214.1" cy="91.0" r="1.1" class="l2"/><circle cx="209.3" cy="91.0" r="1.1" class="l2"/><circle cx="216.9" cy="90.8" r="1.1" class="l2"/><circle cx="206.7" cy="90.5" r="1.1" class="l2"/><circle cx="219.2" cy="90.6" r="1.1" class="l2"/><circle cx="204.6" cy="90.6" r="1.1" class="l2"/><circle cx="221.8" cy="90.3" r="1.1" class="l2"/><circle cx="202.0" cy="90.2" r="1.1" class="l2"/><circle cx="224.2" cy="89.6" r="1.1" class="l2"/><circle cx="199.6" cy="89.9" r="1.1" class="l2"/><circle cx="226.4" cy="89.9" r="1.1" class="l2"/><circle cx="196.9" cy="89.8" r="1.1" class="l2"/><circle cx="229.2" cy="89.5" r="1.1" class="l2"/><circle cx="195.6" cy="89.3" r="1.1" class="l2"/><circle cx="212.6" cy="94.6" r="1.1" class="l2"/><circle cx="214.9" cy="94.7" r="1.1" class="l2"/><circle cx="210.1" cy="94.5" r="1.1" class="l2"/><circle cx="217.6" cy="94.4" r="1.1" class="l2"/><circle cx="207.6" cy="94.4" r="1.1" class="l2"/><circle cx="220.1" cy="94.1" r="1.1" class="l2"/><circle cx="205.4" cy="94.0" r="1.1" class="l2"/><circle cx="222.3" cy="93.9" r="1.1" class="l2"/><circle cx="202.8" cy="93.6" r="1.1" class="l2"/><circle cx="224.7" cy="93.3" r="1.1" class="l2"/><circle cx="200.2" cy="93.3" r="1.1" class="l2"/><circle cx="227.4" cy="93.3" r="1.1" class="l2"/><circle cx="197.8" cy="93.0" r="1.1" class="l2"/><circle cx="229.8" cy="93.0" r="1.1" class="l2"/><circle cx="195.6" cy="92.8" r="1.1" class="l2"/><circle cx="213.0" cy="98.4" r="1.1" class="l2"/><circle cx="215.4" cy="97.9" r="1.1" class="l2"/><circle cx="210.8" cy="97.8" r="1.1" class="l2"/><circle cx="218.0" cy="98.0" r="1.1" class="l2"/><circle cx="208.3" cy="97.6" r="1.1" class="l2"/><circle cx="220.7" cy="97.8" r="1.1" class="l2"/><circle cx="205.9" cy="97.4" r="1.1" class="l2"/><circle cx="223.1" cy="97.5" r="1.1" class="l2"/><circle cx="203.1" cy="97.2" r="1.1" class="l2"/><circle cx="225.4" cy="97.3" r="1.1" class="l2"/><circle cx="200.8" cy="97.0" r="1.1" class="l2"/><circle cx="228.1" cy="96.7" r="1.1" class="l2"/><circle cx="198.1" cy="96.7" r="1.1" class="l2"/><circle cx="230.1" cy="96.6" r="1.1" class="l2"/><circle cx="196.0" cy="96.8" r="1.1" class="l2"/><circle cx="212.2" cy="101.6" r="1.1" class="l2"/><circle cx="214.7" cy="101.8" r="1.1" class="l2"/><circle cx="209.5" cy="101.6" r="1.1" class="l2"/><circle cx="217.0" cy="101.5" r="1.1" class="l2"/><circle cx="207.0" cy="101.3" r="1.1" class="l2"/><circle cx="219.6" cy="101.1" r="1.1" class="l2"/><circle cx="204.8" cy="101.4" r="1.1" class="l2"/><circle cx="221.8" cy="100.7" r="1.1" class="l2"/><circle cx="202.2" cy="100.9" r="1.1" class="l2"/><circle cx="224.3" cy="100.6" r="1.1" class="l2"/><circle cx="199.6" cy="100.5" r="1.1" class="l2"/><circle cx="227.1" cy="100.5" r="1.1" class="l2"/><circle cx="197.4" cy="100.7" r="1.1" class="l2"/><circle cx="229.6" cy="100.5" r="1.1" class="l2"/><circle cx="195.5" cy="100.3" r="1.1" class="l2"/><circle cx="211.8" cy="105.4" r="1.1" class="l2"/><circle cx="214.3" cy="105.2" r="1.1" class="l2"/><circle cx="209.3" cy="105.2" r="1.1" class="l2"/><circle cx="216.6" cy="104.8" r="1.1" class="l2"/><circle cx="206.9" cy="105.2" r="1.1" class="l2"/><circle cx="219.4" cy="104.5" r="1.1" class="l2"/><circle cx="204.1" cy="104.6" r="1.1" class="l2"/><circle cx="221.6" cy="104.6" r="1.1" class="l2"/><circle cx="201.9" cy="104.5" r="1.1" class="l2"/><circle cx="224.2" cy="104.2" r="1.1" class="l2"/><circle cx="199.4" cy="104.1" r="1.1" class="l2"/><circle cx="226.5" cy="104.1" r="1.1" class="l2"/><circle cx="196.7" cy="104.0" r="1.1" class="l2"/><circle cx="229.3" cy="103.8" r="1.1" class="l2"/><circle cx="195.4" cy="103.9" r="1.1" class="l2"/><circle cx="212.4" cy="109.1" r="1.1" class="l2"/><circle cx="215.1" cy="108.7" r="1.1" class="l2"/><circle cx="210.2" cy="108.8" r="1.1" class="l2"/><circle cx="217.7" cy="108.7" r="1.1" class="l2"/><circle cx="207.7" cy="108.6" r="1.1" class="l2"/><circle cx="219.8" cy="108.6" r="1.1" class="l2"/><circle cx="205.0" cy="108.5" r="1.1" class="l2"/><circle cx="222.6" cy="108.3" r="1.1" class="l2"/><circle cx="202.4" cy="108.3" r="1.1" class="l2"/><circle cx="225.1" cy="107.8" r="1.1" class="l2"/><circle cx="200.2" cy="108.2" r="1.1" class="l2"/><circle cx="227.5" cy="107.4" r="1.1" class="l2"/><circle cx="197.6" cy="107.4" r="1.1" class="l2"/><circle cx="229.7" cy="107.6" r="1.1" class="l2"/><circle cx="195.4" cy="107.7" r="1.1" class="l2"/><circle cx="213.9" cy="113.0" r="1.1" class="l2"/><circle cx="216.0" cy="112.9" r="1.1" class="l2"/><circle cx="211.1" cy="112.5" r="1.1" class="l2"/><circle cx="218.9" cy="112.3" r="1.1" class="l2"/><circle cx="208.5" cy="112.5" r="1.1" class="l2"/><circle cx="221.4" cy="111.8" r="1.1" class="l2"/><circle cx="206.2" cy="112.1" r="1.1" class="l2"/><circle cx="223.6" cy="111.7" r="1.1" class="l2"/><circle cx="203.7" cy="111.9" r="1.1" class="l2"/><circle cx="226.3" cy="111.6" r="1.1" class="l2"/><circle cx="201.2" cy="111.1" r="1.1" class="l2"/><circle cx="229.0" cy="110.9" r="1.1" class="l2"/><circle cx="198.6" cy="111.1" r="1.1" class="l2"/><circle cx="230.3" cy="110.6" r="1.1" class="l2"/><circle cx="196.3" cy="110.8" r="1.1" class="l2"/><circle cx="213.3" cy="116.8" r="1.1" class="l2"/><circle cx="215.5" cy="115.9" r="1.1" class="l2"/><circle cx="210.7" cy="116.4" r="1.1" class="l2"/><circle cx="218.1" cy="116.1" r="1.1" class="l2"/><circle cx="207.9" cy="116.0" r="1.1" class="l2"/><circle cx="220.7" cy="115.5" r="1.1" class="l2"/><circle cx="205.7" cy="115.8" r="1.1" class="l2"/><circle cx="222.9" cy="115.4" r="1.1" class="l2"/><circle cx="203.1" cy="115.5" r="1.1" class="l2"/><circle cx="225.6" cy="115.0" r="1.1" class="l2"/><circle cx="200.5" cy="114.9" r="1.1" class="l2"/><circle cx="227.8" cy="114.6" r="1.1" class="l2"/><circle cx="197.9" cy="114.6" r="1.1" class="l2"/><circle cx="230.4" cy="114.7" r="1.1" class="l2"/><circle cx="195.3" cy="114.3" r="1.1" class="l2"/><circle cx="214.0" cy="120.3" r="1.1" class="l2"/><circle cx="216.3" cy="119.5" r="1.1" class="l2"/><circle cx="211.7" cy="119.8" r="1.1" class="l2"/><circle cx="219.1" cy="119.4" r="1.1" class="l2"/><circle cx="209.1" cy="119.4" r="1.1" class="l2"/><circle cx="221.5" cy="118.9" r="1.1" class="l2"/><circle cx="206.3" cy="119.4" r="1.1" class="l2"/><circle cx="223.8" cy="118.8" r="1.1" class="l2"/><circle cx="203.8" cy="118.7" r="1.1" class="l2"/><circle cx="226.4" cy="118.8" r="1.1" class="l2"/><circle cx="201.2" cy="118.6" r="1.1" class="l2"/><circle cx="229.2" cy="118.4" r="1.1" class="l2"/><circle cx="198.7" cy="118.5" r="1.1" class="l2"/><circle cx="230.4" cy="118.2" r="1.1" class="l2"/><circle cx="196.1" cy="118.2" r="1.1" class="l2"/><circle cx="212.2" cy="123.4" r="1.1" class="l2"/><circle cx="214.9" cy="123.3" r="1.1" class="l2"/><circle cx="210.0" cy="123.2" r="1.1" class="l2"/><circle cx="217.5" cy="122.9" r="1.1" class="l2"/><circle cx="207.6" cy="122.7" r="1.1" class="l2"/><circle cx="220.2" cy="122.8" r="1.1" class="l2"/><circle cx="204.9" cy="122.5" r="1.1" class="l2"/><circle cx="222.4" cy="122.7" r="1.1" class="l2"/><circle cx="202.2" cy="122.3" r="1.1" class="l2"/><circle cx="225.2" cy="122.1" r="1.1" class="l2"/><circle cx="200.0" cy="122.1" r="1.1" class="l2"/><circle cx="227.6" cy="122.0" r="1.1" class="l2"/><circle cx="197.3" cy="122.1" r="1.1" class="l2"/><circle cx="230.1" cy="121.9" r="1.1" class="l2"/><circle cx="195.2" cy="121.7" r="1.1" class="l2"/><circle cx="213.0" cy="130.4" r="1.1" class="l1"/><circle cx="215.0" cy="129.2" r="1.1" class="l1"/><circle cx="210.4" cy="129.4" r="1.1" class="l1"/><circle cx="217.6" cy="128.7" r="1.1" class="l1"/><circle cx="207.8" cy="128.8" r="1.1" class="l1"/><circle cx="219.8" cy="127.8" r="1.1" class="l1"/><circle cx="205.7" cy="127.4" r="1.1" class="l1"/><circle cx="363.7" cy="58.2" r="1.1" class="l3"/><circle cx="366.3" cy="58.1" r="1.1" class="l3"/><circle cx="361.2" cy="58.0" r="1.1" class="l3"/><circle cx="369.0" cy="58.1" r="1.1" class="l3"/><circle cx="358.6" cy="57.9" r="1.1" class="l3"/><circle cx="372.0" cy="58.1" r="1.1" class="l3"/><circle cx="355.8" cy="57.9" r="1.1" class="l3"/><circle cx="374.3" cy="57.7" r="1.1" class="l3"/><circle cx="353.2" cy="57.8" r="1.1" class="l3"/><circle cx="377.2" cy="57.6" r="1.1" class="l3"/><circle cx="350.6" cy="57.9" r="1.1" class="l3"/><circle cx="379.6" cy="58.0" r="1.1" class="l3"/><circle cx="347.9" cy="57.8" r="1.1" class="l3"/><circle cx="382.6" cy="57.9" r="1.1" class="l3"/><circle cx="345.5" cy="57.6" r="1.1" class="l3"/><circle cx="384.9" cy="57.9" r="1.1" class="l3"/><circle cx="342.8" cy="57.6" r="1.1" class="l3"/><circle cx="387.5" cy="57.9" r="1.1" class="l3"/><circle cx="340.2" cy="57.7" r="1.1" class="l3"/><circle cx="362.5" cy="61.8" r="1.1" class="l3"/><circle cx="365.6" cy="61.5" r="1.1" class="l3"/><circle cx="360.3" cy="61.8" r="1.1" class="l3"/><circle cx="367.7" cy="61.9" r="1.1" class="l3"/><circle cx="357.7" cy="61.4" r="1.1" class="l3"/><circle cx="370.4" cy="61.7" r="1.1" class="l3"/><circle cx="354.8" cy="61.6" r="1.1" class="l3"/><circle cx="373.0" cy="61.5" r="1.1" class="l3"/><circle cx="352.5" cy="61.2" r="1.1" class="l3"/><circle cx="376.0" cy="61.4" r="1.1" class="l3"/><circle cx="349.7" cy="61.3" r="1.1" class="l3"/><circle cx="378.4" cy="61.2" r="1.1" class="l3"/><circle cx="347.1" cy="61.3" r="1.1" class="l3"/><circle cx="381.2" cy="61.2" r="1.1" class="l3"/><circle cx="344.2" cy="61.4" r="1.1" class="l3"/><circle cx="383.7" cy="61.3" r="1.1" class="l3"/><circle cx="341.7" cy="61.6" r="1.1" class="l3"/><circle cx="386.5" cy="61.2" r="1.1" class="l3"/><circle cx="340.2" cy="61.6" r="1.1" class="l3"/><circle cx="365.1" cy="66.5" r="1.1" class="l1"/><circle cx="368.0" cy="65.9" r="1.1" class="l1"/><circle cx="362.2" cy="66.3" r="1.1" class="l1"/><circle cx="370.9" cy="65.6" r="1.1" class="l1"/><circle cx="359.5" cy="65.4" r="1.1" class="l1"/><circle cx="373.9" cy="65.0" r="1.1" class="l1"/><circle cx="356.3" cy="65.5" r="1.1" class="l1"/><circle cx="376.7" cy="65.0" r="1.1" class="l1"/><circle cx="353.3" cy="64.8" r="1.1" class="l1"/><circle cx="379.9" cy="64.3" r="1.1" class="l1"/><circle cx="350.8" cy="64.7" r="1.1" class="l1"/><circle cx="382.7" cy="63.9" r="1.1" class="l1"/><circle cx="347.7" cy="64.1" r="1.1" class="l1"/><circle cx="384.1" cy="63.9" r="1.1" class="l1"/><circle cx="344.5" cy="64.1" r="1.1" class="l1"/><circle cx="364.1" cy="70.5" r="1.1" class="l1"/><circle cx="367.1" cy="69.8" r="1.1" class="l1"/><circle cx="361.4" cy="69.6" r="1.1" class="l1"/><circle cx="370.2" cy="69.0" r="1.1" class="l1"/><circle cx="358.5" cy="69.1" r="1.1" class="l1"/><circle cx="372.9" cy="68.5" r="1.1" class="l1"/><circle cx="355.4" cy="68.3" r="1.1" class="l1"/><circle cx="375.8" cy="68.1" r="1.1" class="l1"/><circle cx="352.7" cy="67.9" r="1.1" class="l1"/><circle cx="378.5" cy="67.4" r="1.1" class="l1"/><circle cx="349.9" cy="67.0" r="1.1" class="l1"/><circle cx="363.3" cy="73.8" r="1.1" class="l1"/><circle cx="366.1" cy="73.4" r="1.1" class="l1"/><circle cx="360.0" cy="73.1" r="1.1" class="l1"/><circle cx="369.2" cy="73.2" r="1.1" class="l1"/><circle cx="357.1" cy="72.9" r="1.1" class="l1"/><circle cx="372.3" cy="72.6" r="1.1" class="l1"/><circle cx="354.2" cy="72.2" r="1.1" class="l1"/><circle cx="375.2" cy="71.8" r="1.1" class="l1"/><circle cx="351.0" cy="71.8" r="1.1" class="l1"/><circle cx="378.1" cy="71.3" r="1.1" class="l1"/><circle cx="348.8" cy="71.1" r="1.1" class="l1"/><circle cx="363.5" cy="78.1" r="1.1" class="l1"/><circle cx="366.8" cy="77.6" r="1.1" class="l1"/><circle cx="360.1" cy="77.3" r="1.1" class="l1"/><circle cx="369.8" cy="76.5" r="1.1" class="l1"/><circle cx="357.0" cy="76.6" r="1.1" class="l1"/><circle cx="373.2" cy="75.5" r="1.1" class="l1"/><circle cx="353.8" cy="75.8" r="1.1" class="l1"/><circle cx="375.9" cy="74.6" r="1.1" class="l1"/><circle cx="350.5" cy="75.0" r="1.1" class="l1"/><circle cx="364.5" cy="81.6" r="1.1" class="l1"/><circle cx="367.8" cy="81.0" r="1.1" class="l1"/><circle cx="361.4" cy="81.0" r="1.1" class="l1"/><circle cx="370.7" cy="80.8" r="1.1" class="l1"/><circle cx="358.3" cy="80.6" r="1.1" class="l1"/><circle cx="373.9" cy="80.3" r="1.1" class="l1"/><circle cx="355.2" cy="80.3" r="1.1" class="l1"/><circle cx="377.0" cy="79.4" r="1.1" class="l1"/><circle cx="352.3" cy="79.7" r="1.1" class="l1"/><circle cx="379.2" cy="79.4" r="1.1" class="l1"/><circle cx="348.8" cy="79.0" r="1.1" class="l1"/><circle cx="365.0" cy="85.4" r="1.1" class="l1"/><circle cx="368.1" cy="84.7" r="1.1" class="l1"/><circle cx="362.0" cy="85.0" r="1.1" class="l1"/><circle cx="371.0" cy="83.9" r="1.1" class="l1"/><circle cx="358.7" cy="83.6" r="1.1" class="l1"/><circle cx="373.6" cy="82.4" r="1.1" class="l1"/><circle cx="355.5" cy="82.6" r="1.1" class="l1"/><circle cx="362.9" cy="89.1" r="1.1" class="l1"/><circle cx="366.0" cy="88.8" r="1.1" class="l1"/><circle cx="359.8" cy="88.8" r="1.1" class="l1"/><circle cx="369.3" cy="88.2" r="1.1" class="l1"/><circle cx="356.8" cy="88.1" r="1.1" class="l1"/><circle cx="372.1" cy="87.8" r="1.1" class="l1"/><circle cx="353.4" cy="87.7" r="1.1" class="l1"/><circle cx="375.4" cy="87.2" r="1.1" class="l1"/><circle cx="350.2" cy="87.2" r="1.1" class="l1"/><circle cx="378.5" cy="86.9" r="1.1" class="l1"/><circle cx="347.9" cy="86.9" r="1.1" class="l1"/><circle cx="365.2" cy="93.5" r="1.1" class="l1"/><circle cx="368.2" cy="92.9" r="1.1" class="l1"/><circle cx="361.7" cy="93.2" r="1.1" class="l1"/><circle cx="371.4" cy="92.8" r="1.1" class="l1"/><circle cx="358.4" cy="92.3" r="1.1" class="l1"/><circle cx="375.0" cy="92.3" r="1.1" class="l1"/><circle cx="355.5" cy="92.1" r="1.1" class="l1"/><circle cx="378.2" cy="91.5" r="1.1" class="l1"/><circle cx="352.0" cy="91.8" r="1.1" class="l1"/><circle cx="381.3" cy="91.0" r="1.1" class="l1"/><circle cx="349.1" cy="91.0" r="1.1" class="l1"/><circle cx="384.3" cy="90.7" r="1.1" class="l1"/><circle cx="345.7" cy="90.9" r="1.1" class="l1"/><circle cx="386.7" cy="90.4" r="1.1" class="l1"/><circle cx="342.4" cy="90.6" r="1.1" class="l1"/><circle cx="365.0" cy="96.9" r="1.1" class="l1"/><circle cx="367.9" cy="96.3" r="1.1" class="l1"/><circle cx="362.1" cy="96.1" r="1.1" class="l1"/><circle cx="370.9" cy="95.5" r="1.1" class="l1"/><circle cx="359.3" cy="96.0" r="1.1" class="l1"/><circle cx="373.5" cy="95.2" r="1.1" class="l1"/><circle cx="356.3" cy="95.1" r="1.1" class="l1"/><circle cx="376.4" cy="94.5" r="1.1" class="l1"/><circle cx="353.3" cy="94.3" r="1.1" class="l1"/><circle cx="363.4" cy="101.6" r="1.1" class="l1"/><circle cx="366.4" cy="99.9" r="1.1" class="l1"/><circle cx="360.8" cy="99.7" r="1.1" class="l1"/><circle cx="369.9" cy="97.7" r="1.1" class="l1"/><circle cx="358.2" cy="97.9" r="1.1" class="l1"/><circle cx="365.7" cy="104.6" r="1.1" class="l1"/><circle cx="368.4" cy="103.2" r="1.1" class="l1"/><circle cx="363.0" cy="103.6" r="1.1" class="l1"/><circle cx="370.4" cy="102.1" r="1.1" class="l1"/><circle cx="360.0" cy="102.1" r="1.1" class="l1"/><circle cx="362.9" cy="108.4" r="1.1" class="l1"/><circle cx="366.0" cy="107.9" r="1.1" class="l1"/><circle cx="360.1" cy="107.6" r="1.1" class="l1"/><circle cx="368.9" cy="107.4" r="1.1" class="l1"/><circle cx="357.2" cy="107.6" r="1.1" class="l1"/><circle cx="371.7" cy="107.1" r="1.1" class="l1"/><circle cx="354.1" cy="107.1" r="1.1" class="l1"/><circle cx="374.9" cy="106.9" r="1.1" class="l1"/><circle cx="351.6" cy="107.0" r="1.1" class="l1"/><circle cx="377.8" cy="106.5" r="1.1" class="l1"/><circle cx="348.6" cy="106.7" r="1.1" class="l1"/><circle cx="380.6" cy="106.5" r="1.1" class="l1"/><circle cx="346.6" cy="106.3" r="1.1" class="l1"/><circle cx="363.2" cy="112.2" r="1.1" class="l1"/><circle cx="365.8" cy="111.7" r="1.1" class="l1"/><circle cx="360.7" cy="111.8" r="1.1" class="l1"/><circle cx="368.4" cy="111.3" r="1.1" class="l1"/><circle cx="357.9" cy="111.5" r="1.1" class="l1"/><circle cx="370.7" cy="111.0" r="1.1" class="l1"/><circle cx="355.4" cy="111.4" r="1.1" class="l1"/><circle cx="373.3" cy="110.8" r="1.1" class="l1"/><circle cx="352.6" cy="110.8" r="1.1" class="l1"/><circle cx="375.9" cy="110.6" r="1.1" class="l1"/><circle cx="350.4" cy="111.0" r="1.1" class="l1"/><circle cx="378.5" cy="110.6" r="1.1" class="l1"/><circle cx="347.8" cy="110.4" r="1.1" class="l1"/><circle cx="381.2" cy="110.4" r="1.1" class="l1"/><circle cx="344.9" cy="110.3" r="1.1" class="l1"/><circle cx="383.8" cy="110.0" r="1.1" class="l1"/><circle cx="343.7" cy="110.1" r="1.1" class="l1"/><circle cx="364.9" cy="115.7" r="1.1" class="l2"/><circle cx="367.8" cy="115.5" r="1.1" class="l2"/><circle cx="362.8" cy="115.1" r="1.1" class="l2"/><circle cx="370.0" cy="114.9" r="1.1" class="l2"/><circle cx="360.0" cy="115.1" r="1.1" class="l2"/><circle cx="372.8" cy="114.9" r="1.1" class="l2"/><circle cx="357.8" cy="115.1" r="1.1" class="l2"/><circle cx="375.2" cy="114.7" r="1.1" class="l2"/><circle cx="355.2" cy="115.0" r="1.1" class="l2"/><circle cx="377.7" cy="114.9" r="1.1" class="l2"/><circle cx="352.5" cy="114.6" r="1.1" class="l2"/><circle cx="380.2" cy="114.5" r="1.1" class="l2"/><circle cx="350.2" cy="114.4" r="1.1" class="l2"/><circle cx="382.7" cy="114.5" r="1.1" class="l2"/><circle cx="347.7" cy="114.0" r="1.1" class="l2"/><circle cx="384.9" cy="113.8" r="1.1" class="l2"/><circle cx="345.2" cy="114.3" r="1.1" class="l2"/><circle cx="386.4" cy="114.0" r="1.1" class="l2"/><circle cx="342.6" cy="113.9" r="1.1" class="l2"/><circle cx="364.1" cy="119.2" r="1.1" class="l2"/><circle cx="366.2" cy="118.8" r="1.1" class="l2"/><circle cx="361.7" cy="118.8" r="1.1" class="l2"/><circle cx="368.1" cy="118.6" r="1.1" class="l2"/><circle cx="359.5" cy="119.1" r="1.1" class="l2"/><circle cx="370.3" cy="118.9" r="1.1" class="l2"/><circle cx="357.1" cy="118.6" r="1.1" class="l2"/><circle cx="372.8" cy="118.6" r="1.1" class="l2"/><circle cx="355.1" cy="118.5" r="1.1" class="l2"/><circle cx="375.0" cy="118.6" r="1.1" class="l2"/><circle cx="352.7" cy="118.5" r="1.1" class="l2"/><circle cx="377.0" cy="118.3" r="1.1" class="l2"/><circle cx="350.7" cy="118.5" r="1.1" class="l2"/><circle cx="379.3" cy="118.2" r="1.1" class="l2"/><circle cx="348.6" cy="118.0" r="1.1" class="l2"/><circle cx="381.6" cy="118.0" r="1.1" class="l2"/><circle cx="346.3" cy="117.9" r="1.1" class="l2"/><circle cx="383.4" cy="118.0" r="1.1" class="l2"/><circle cx="344.2" cy="117.9" r="1.1" class="l2"/><circle cx="385.8" cy="117.6" r="1.1" class="l2"/><circle cx="342.2" cy="117.7" r="1.1" class="l2"/><circle cx="388.0" cy="117.6" r="1.1" class="l2"/><circle cx="339.8" cy="117.1" r="1.1" class="l2"/><circle cx="363.8" cy="122.3" r="1.1" class="l3"/><circle cx="366.3" cy="122.0" r="1.1" class="l3"/><circle cx="361.1" cy="122.1" r="1.1" class="l3"/><circle cx="369.1" cy="122.2" r="1.1" class="l3"/><circle cx="358.2" cy="121.8" r="1.1" class="l3"/><circle cx="371.8" cy="122.2" r="1.1" class="l3"/><circle cx="355.2" cy="122.1" r="1.1" class="l3"/><circle cx="374.5" cy="121.8" r="1.1" class="l3"/><circle cx="352.6" cy="121.8" r="1.1" class="l3"/><circle cx="377.7" cy="122.2" r="1.1" class="l3"/><circle cx="349.8" cy="121.7" r="1.1" class="l3"/><circle cx="380.1" cy="122.1" r="1.1" class="l3"/><circle cx="347.1" cy="121.7" r="1.1" class="l3"/><circle cx="382.9" cy="121.5" r="1.1" class="l3"/><circle cx="344.3" cy="121.7" r="1.1" class="l3"/><circle cx="385.6" cy="122.0" r="1.1" class="l3"/><circle cx="341.8" cy="121.5" r="1.1" class="l3"/><circle cx="388.7" cy="121.6" r="1.1" class="l3"/><circle cx="339.1" cy="121.7" r="1.1" class="l3"/><circle cx="365.0" cy="125.5" r="1.1" class="l3"/><circle cx="368.1" cy="125.7" r="1.1" class="l3"/><circle cx="362.4" cy="125.7" r="1.1" class="l3"/><circle cx="370.5" cy="125.8" r="1.1" class="l3"/><circle cx="359.8" cy="125.5" r="1.1" class="l3"/><circle cx="373.6" cy="125.8" r="1.1" class="l3"/><circle cx="357.1" cy="125.7" r="1.1" class="l3"/><circle cx="376.5" cy="125.5" r="1.1" class="l3"/><circle cx="354.1" cy="125.7" r="1.1" class="l3"/><circle cx="379.2" cy="125.4" r="1.1" class="l3"/><circle cx="351.3" cy="125.4" r="1.1" class="l3"/><circle cx="381.8" cy="125.7" r="1.1" class="l3"/><circle cx="348.7" cy="125.5" r="1.1" class="l3"/><circle cx="384.4" cy="125.6" r="1.1" class="l3"/><circle cx="345.7" cy="125.3" r="1.1" class="l3"/><circle cx="387.3" cy="125.3" r="1.1" class="l3"/><circle cx="343.2" cy="125.6" r="1.1" class="l3"/><circle cx="388.9" cy="125.4" r="1.1" class="l3"/><circle cx="340.3" cy="125.4" r="1.1" class="l3"/><circle cx="364.2" cy="129.2" r="1.1" class="l3"/><circle cx="366.9" cy="129.1" r="1.1" class="l3"/><circle cx="361.8" cy="129.4" r="1.1" class="l3"/><circle cx="369.8" cy="129.4" r="1.1" class="l3"/><circle cx="358.6" cy="129.3" r="1.1" class="l3"/><circle cx="372.5" cy="129.4" r="1.1" class="l3"/><circle cx="356.1" cy="128.9" r="1.1" class="l3"/><circle cx="375.2" cy="128.9" r="1.1" class="l3"/><circle cx="353.2" cy="128.9" r="1.1" class="l3"/><circle cx="378.3" cy="129.1" r="1.1" class="l3"/><circle cx="350.7" cy="128.8" r="1.1" class="l3"/><circle cx="380.7" cy="128.8" r="1.1" class="l3"/><circle cx="347.6" cy="129.1" r="1.1" class="l3"/><circle cx="383.7" cy="128.9" r="1.1" class="l3"/><circle cx="345.1" cy="128.8" r="1.1" class="l3"/><circle cx="386.6" cy="128.7" r="1.1" class="l3"/><circle cx="342.2" cy="129.1" r="1.1" class="l3"/><circle cx="388.9" cy="128.6" r="1.1" class="l3"/><circle cx="339.4" cy="128.6" r="1.1" class="l3"/><circle cx="364.5" cy="132.9" r="1.1" class="l3"/><circle cx="367.3" cy="132.7" r="1.1" class="l3"/><circle cx="361.7" cy="132.7" r="1.1" class="l3"/><circle cx="370.1" cy="133.0" r="1.1" class="l3"/><circle cx="358.9" cy="132.8" r="1.1" class="l3"/><circle cx="372.7" cy="132.9" r="1.1" class="l3"/><circle cx="356.3" cy="132.6" r="1.1" class="l3"/><circle cx="375.9" cy="132.8" r="1.1" class="l3"/><circle cx="353.7" cy="132.9" r="1.1" class="l3"/><circle cx="378.5" cy="132.9" r="1.1" class="l3"/><circle cx="350.5" cy="132.8" r="1.1" class="l3"/><circle cx="380.9" cy="132.4" r="1.1" class="l3"/><circle cx="348.1" cy="132.8" r="1.1" class="l3"/><circle cx="383.8" cy="132.7" r="1.1" class="l3"/><circle cx="345.0" cy="132.5" r="1.1" class="l3"/><circle cx="387.0" cy="132.6" r="1.1" class="l3"/><circle cx="342.2" cy="132.4" r="1.1" class="l3"/><circle cx="389.0" cy="132.3" r="1.1" class="l3"/><circle cx="339.8" cy="132.7" r="1.1" class="l3"/><circle cx="364.7" cy="136.8" r="1.1" class="l3"/><circle cx="367.4" cy="136.6" r="1.1" class="l3"/><circle cx="362.1" cy="136.7" r="1.1" class="l3"/><circle cx="370.0" cy="136.2" r="1.1" class="l3"/><circle cx="359.2" cy="136.3" r="1.1" class="l3"/><circle cx="372.8" cy="136.3" r="1.1" class="l3"/><circle cx="356.5" cy="136.6" r="1.1" class="l3"/><circle cx="375.6" cy="136.3" r="1.1" class="l3"/><circle cx="353.6" cy="136.6" r="1.1" class="l3"/><circle cx="378.5" cy="136.0" r="1.1" class="l3"/><circle cx="351.0" cy="136.3" r="1.1" class="l3"/><circle cx="381.4" cy="136.2" r="1.1" class="l3"/><circle cx="347.9" cy="136.0" r="1.1" class="l3"/><circle cx="384.1" cy="136.4" r="1.1" class="l3"/><circle cx="345.3" cy="135.9" r="1.1" class="l3"/><circle cx="386.7" cy="135.9" r="1.1" class="l3"/><circle cx="342.6" cy="136.1" r="1.1" class="l3"/><circle cx="389.1" cy="136.1" r="1.1" class="l3"/><circle cx="339.5" cy="136.0" r="1.1" class="l3"/><circle cx="364.8" cy="140.3" r="1.1" class="l3"/><circle cx="368.1" cy="139.8" r="1.1" class="l3"/><circle cx="362.1" cy="140.2" r="1.1" class="l3"/><circle cx="370.5" cy="139.7" r="1.1" class="l3"/><circle cx="359.4" cy="140.3" r="1.1" class="l3"/><circle cx="373.6" cy="140.1" r="1.1" class="l3"/><circle cx="356.9" cy="140.1" r="1.1" class="l3"/><circle cx="376.0" cy="139.8" r="1.1" class="l3"/><circle cx="354.1" cy="139.6" r="1.1" class="l3"/><circle cx="379.2" cy="139.6" r="1.1" class="l3"/><circle cx="351.0" cy="140.0" r="1.1" class="l3"/><circle cx="381.6" cy="140.0" r="1.1" class="l3"/><circle cx="348.2" cy="139.8" r="1.1" class="l3"/><circle cx="384.7" cy="140.0" r="1.1" class="l3"/><circle cx="345.4" cy="140.0" r="1.1" class="l3"/><circle cx="387.3" cy="139.9" r="1.1" class="l3"/><circle cx="342.8" cy="139.9" r="1.1" class="l3"/><circle cx="389.2" cy="139.8" r="1.1" class="l3"/><circle cx="339.8" cy="139.9" r="1.1" class="l3"/><circle cx="364.7" cy="143.9" r="1.1" class="l3"/><circle cx="367.6" cy="143.6" r="1.1" class="l3"/><circle cx="361.9" cy="143.8" r="1.1" class="l3"/><circle cx="370.7" cy="143.7" r="1.1" class="l3"/><circle cx="359.0" cy="143.8" r="1.1" class="l3"/><circle cx="373.0" cy="143.3" r="1.1" class="l3"/><circle cx="356.6" cy="143.7" r="1.1" class="l3"/><circle cx="376.0" cy="143.5" r="1.1" class="l3"/><circle cx="353.8" cy="143.5" r="1.1" class="l3"/><circle cx="379.0" cy="143.6" r="1.1" class="l3"/><circle cx="351.1" cy="143.6" r="1.1" class="l3"/><circle cx="381.7" cy="143.7" r="1.1" class="l3"/><circle cx="347.9" cy="143.6" r="1.1" class="l3"/><circle cx="384.5" cy="143.5" r="1.1" class="l3"/><circle cx="345.6" cy="143.3" r="1.1" class="l3"/><circle cx="387.4" cy="143.1" r="1.1" class="l3"/><circle cx="342.7" cy="143.3" r="1.1" class="l3"/><circle cx="389.3" cy="143.1" r="1.1" class="l3"/><circle cx="339.7" cy="143.2" r="1.1" class="l3"/><circle cx="445.5" cy="56.7" r="1.1" class="l3"/><circle cx="448.4" cy="56.9" r="1.1" class="l3"/><circle cx="442.8" cy="56.8" r="1.1" class="l3"/><circle cx="451.6" cy="56.6" r="1.1" class="l3"/><circle cx="440.1" cy="56.4" r="1.1" class="l3"/><circle cx="454.2" cy="56.7" r="1.1" class="l3"/><circle cx="437.2" cy="56.8" r="1.1" class="l3"/><circle cx="457.1" cy="56.8" r="1.1" class="l3"/><circle cx="434.2" cy="56.8" r="1.1" class="l3"/><circle cx="459.7" cy="56.3" r="1.1" class="l3"/><circle cx="431.3" cy="56.7" r="1.1" class="l3"/><circle cx="462.8" cy="56.3" r="1.1" class="l3"/><circle cx="428.6" cy="56.7" r="1.1" class="l3"/><circle cx="465.6" cy="56.3" r="1.1" class="l3"/><circle cx="426.0" cy="56.5" r="1.1" class="l3"/><circle cx="468.2" cy="56.5" r="1.1" class="l3"/><circle cx="422.8" cy="56.2" r="1.1" class="l3"/><circle cx="470.1" cy="56.4" r="1.1" class="l3"/><circle cx="420.5" cy="56.1" r="1.1" class="l3"/><circle cx="444.0" cy="60.4" r="1.1" class="l3"/><circle cx="446.7" cy="60.4" r="1.1" class="l3"/><circle cx="441.1" cy="60.5" r="1.1" class="l3"/><circle cx="449.5" cy="60.4" r="1.1" class="l3"/><circle cx="438.3" cy="60.4" r="1.1" class="l3"/><circle cx="452.7" cy="60.4" r="1.1" class="l3"/><circle cx="435.4" cy="60.3" r="1.1" class="l3"/><circle cx="455.2" cy="59.8" r="1.1" class="l3"/><circle cx="432.6" cy="60.4" r="1.1" class="l3"/><circle cx="458.2" cy="60.2" r="1.1" class="l3"/><circle cx="429.7" cy="60.2" r="1.1" class="l3"/><circle cx="460.8" cy="59.8" r="1.1" class="l3"/><circle cx="427.0" cy="60.3" r="1.1" class="l3"/><circle cx="463.9" cy="60.1" r="1.1" class="l3"/><circle cx="424.0" cy="59.8" r="1.1" class="l3"/><circle cx="466.8" cy="59.7" r="1.1" class="l3"/><circle cx="421.7" cy="59.7" r="1.1" class="l3"/><circle cx="469.6" cy="59.8" r="1.1" class="l3"/><circle cx="419.1" cy="59.7" r="1.1" class="l3"/><circle cx="445.5" cy="63.6" r="1.1" class="l3"/><circle cx="448.4" cy="63.6" r="1.1" class="l3"/><circle cx="442.5" cy="64.0" r="1.1" class="l3"/><circle cx="451.2" cy="63.6" r="1.1" class="l3"/><circle cx="439.8" cy="63.6" r="1.1" class="l3"/><circle cx="453.8" cy="63.7" r="1.1" class="l3"/><circle cx="437.0" cy="63.5" r="1.1" class="l3"/><circle cx="457.1" cy="63.7" r="1.1" class="l3"/><circle cx="434.0" cy="63.8" r="1.1" class="l3"/><circle cx="459.8" cy="63.5" r="1.1" class="l3"/><circle cx="431.6" cy="63.7" r="1.1" class="l3"/><circle cx="462.7" cy="63.9" r="1.1" class="l3"/><circle cx="428.8" cy="63.4" r="1.1" class="l3"/><circle cx="465.2" cy="63.6" r="1.1" class="l3"/><circle cx="425.9" cy="63.4" r="1.1" class="l3"/><circle cx="468.0" cy="63.4" r="1.1" class="l3"/><circle cx="423.1" cy="63.4" r="1.1" class="l3"/><circle cx="470.1" cy="63.5" r="1.1" class="l3"/><circle cx="420.1" cy="63.3" r="1.1" class="l3"/><circle cx="443.7" cy="67.8" r="1.1" class="l3"/><circle cx="446.4" cy="67.7" r="1.1" class="l3"/><circle cx="440.6" cy="67.7" r="1.1" class="l3"/><circle cx="449.3" cy="67.3" r="1.1" class="l3"/><circle cx="437.7" cy="67.7" r="1.1" class="l3"/><circle cx="451.8" cy="67.2" r="1.1" class="l3"/><circle cx="434.9" cy="67.3" r="1.1" class="l3"/><circle cx="455.0" cy="67.1" r="1.1" class="l3"/><circle cx="432.5" cy="67.4" r="1.1" class="l3"/><circle cx="457.8" cy="67.2" r="1.1" class="l3"/><circle cx="429.7" cy="67.0" r="1.1" class="l3"/><circle cx="460.6" cy="67.1" r="1.1" class="l3"/><circle cx="426.9" cy="67.2" r="1.1" class="l3"/><circle cx="463.6" cy="67.2" r="1.1" class="l3"/><circle cx="423.7" cy="67.2" r="1.1" class="l3"/><circle cx="466.1" cy="67.3" r="1.1" class="l3"/><circle cx="421.0" cy="67.4" r="1.1" class="l3"/><circle cx="469.3" cy="66.9" r="1.1" class="l3"/><circle cx="419.1" cy="67.0" r="1.1" class="l3"/><circle cx="444.7" cy="70.9" r="1.1" class="l3"/><circle cx="447.7" cy="70.9" r="1.1" class="l3"/><circle cx="442.0" cy="71.1" r="1.1" class="l3"/><circle cx="450.6" cy="71.3" r="1.1" class="l3"/><circle cx="439.4" cy="71.2" r="1.1" class="l3"/><circle cx="453.5" cy="70.8" r="1.1" class="l3"/><circle cx="436.1" cy="70.9" r="1.1" class="l3"/><circle cx="455.9" cy="71.2" r="1.1" class="l3"/><circle cx="433.4" cy="70.6" r="1.1" class="l3"/><circle cx="459.2" cy="70.7" r="1.1" class="l3"/><circle cx="430.7" cy="71.1" r="1.1" class="l3"/><circle cx="462.0" cy="70.8" r="1.1" class="l3"/><circle cx="427.9" cy="71.0" r="1.1" class="l3"/><circle cx="464.4" cy="70.8" r="1.1" class="l3"/><circle cx="425.1" cy="70.6" r="1.1" class="l3"/><circle cx="467.6" cy="70.8" r="1.1" class="l3"/><circle cx="422.4" cy="71.0" r="1.1" class="l3"/><circle cx="470.1" cy="70.5" r="1.1" class="l3"/><circle cx="419.4" cy="70.9" r="1.1" class="l3"/><circle cx="443.8" cy="75.5" r="1.1" class="l2"/><circle cx="446.7" cy="75.0" r="1.1" class="l2"/><circle cx="441.3" cy="75.3" r="1.1" class="l2"/><circle cx="448.9" cy="75.1" r="1.1" class="l2"/><circle cx="439.0" cy="75.0" r="1.1" class="l2"/><circle cx="451.4" cy="74.6" r="1.1" class="l2"/><circle cx="436.2" cy="74.6" r="1.1" class="l2"/><circle cx="453.9" cy="74.4" r="1.1" class="l2"/><circle cx="433.8" cy="74.6" r="1.1" class="l2"/><circle cx="456.6" cy="74.2" r="1.1" class="l2"/><circle cx="431.3" cy="74.8" r="1.1" class="l2"/><circle cx="459.2" cy="74.3" r="1.1" class="l2"/><circle cx="428.6" cy="74.3" r="1.1" class="l2"/><circle cx="461.4" cy="74.2" r="1.1" class="l2"/><circle cx="426.0" cy="74.3" r="1.1" class="l2"/><circle cx="464.4" cy="74.0" r="1.1" class="l2"/><circle cx="423.8" cy="74.2" r="1.1" class="l2"/><circle cx="466.8" cy="74.0" r="1.1" class="l2"/><circle cx="421.4" cy="74.1" r="1.1" class="l2"/><circle cx="469.4" cy="73.6" r="1.1" class="l2"/><circle cx="419.3" cy="73.7" r="1.1" class="l2"/><circle cx="443.5" cy="79.2" r="1.1" class="l2"/><circle cx="445.9" cy="78.5" r="1.1" class="l2"/><circle cx="440.5" cy="78.8" r="1.1" class="l2"/><circle cx="448.7" cy="78.5" r="1.1" class="l2"/><circle cx="437.7" cy="78.4" r="1.1" class="l2"/><circle cx="451.2" cy="78.1" r="1.1" class="l2"/><circle cx="435.3" cy="78.1" r="1.1" class="l2"/><circle cx="454.0" cy="78.3" r="1.1" class="l2"/><circle cx="432.6" cy="78.4" r="1.1" class="l2"/><circle cx="456.8" cy="77.9" r="1.1" class="l2"/><circle cx="430.0" cy="77.8" r="1.1" class="l2"/><circle cx="459.3" cy="77.9" r="1.1" class="l2"/><circle cx="427.2" cy="77.6" r="1.1" class="l2"/><circle cx="462.3" cy="77.6" r="1.1" class="l2"/><circle cx="424.6" cy="77.5" r="1.1" class="l2"/><circle cx="464.7" cy="77.6" r="1.1" class="l2"/><circle cx="421.6" cy="77.5" r="1.1" class="l2"/><circle cx="467.7" cy="77.4" r="1.1" class="l2"/><circle cx="420.3" cy="77.4" r="1.1" class="l2"/><circle cx="444.7" cy="82.8" r="1.1" class="l1"/><circle cx="447.2" cy="82.8" r="1.1" class="l1"/><circle cx="442.2" cy="82.5" r="1.1" class="l1"/><circle cx="450.0" cy="82.6" r="1.1" class="l1"/><circle cx="440.0" cy="82.5" r="1.1" class="l1"/><circle cx="452.3" cy="82.3" r="1.1" class="l1"/><circle cx="437.4" cy="82.0" r="1.1" class="l1"/><circle cx="455.0" cy="81.6" r="1.1" class="l1"/><circle cx="434.5" cy="81.6" r="1.1" class="l1"/><circle cx="457.3" cy="81.6" r="1.1" class="l1"/><circle cx="432.4" cy="81.8" r="1.1" class="l1"/><circle cx="459.8" cy="81.3" r="1.1" class="l1"/><circle cx="429.7" cy="81.1" r="1.1" class="l1"/><circle cx="462.4" cy="81.0" r="1.1" class="l1"/><circle cx="427.2" cy="81.1" r="1.1" class="l1"/><circle cx="464.8" cy="80.9" r="1.1" class="l1"/><circle cx="424.6" cy="80.5" r="1.1" class="l1"/><circle cx="467.2" cy="80.4" r="1.1" class="l1"/><circle cx="422.0" cy="80.6" r="1.1" class="l1"/><circle cx="443.9" cy="86.4" r="1.1" class="l1"/><circle cx="446.8" cy="86.4" r="1.1" class="l1"/><circle cx="441.4" cy="86.2" r="1.1" class="l1"/><circle cx="449.0" cy="85.9" r="1.1" class="l1"/><circle cx="438.8" cy="86.2" r="1.1" class="l1"/><circle cx="451.9" cy="85.5" r="1.1" class="l1"/><circle cx="436.3" cy="85.5" r="1.1" class="l1"/><circle cx="454.1" cy="85.1" r="1.1" class="l1"/><circle cx="434.1" cy="85.4" r="1.1" class="l1"/><circle cx="456.7" cy="84.9" r="1.1" class="l1"/><circle cx="431.4" cy="85.3" r="1.1" class="l1"/><circle cx="459.2" cy="84.8" r="1.1" class="l1"/><circle cx="429.1" cy="84.7" r="1.1" class="l1"/><circle cx="461.8" cy="84.3" r="1.1" class="l1"/><circle cx="426.5" cy="84.7" r="1.1" class="l1"/><circle cx="464.4" cy="84.5" r="1.1" class="l1"/><circle cx="423.8" cy="84.6" r="1.1" class="l1"/><circle cx="445.1" cy="90.2" r="1.1" class="l1"/><circle cx="448.3" cy="89.5" r="1.1" class="l1"/><circle cx="442.0" cy="89.6" r="1.1" class="l1"/><circle cx="451.3" cy="89.3" r="1.1" class="l1"/><circle cx="439.2" cy="89.6" r="1.1" class="l1"/><circle cx="454.2" cy="88.8" r="1.1" class="l1"/><circle cx="436.4" cy="89.2" r="1.1" class="l1"/><circle cx="457.0" cy="89.1" r="1.1" class="l1"/><circle cx="433.4" cy="89.0" r="1.1" class="l1"/><circle cx="460.0" cy="88.4" r="1.1" class="l1"/><circle cx="430.2" cy="88.5" r="1.1" class="l1"/><circle cx="461.6" cy="88.2" r="1.1" class="l1"/><circle cx="427.5" cy="88.1" r="1.1" class="l1"/><circle cx="443.4" cy="94.4" r="1.1" class="l1"/><circle cx="446.2" cy="93.6" r="1.1" class="l1"/><circle cx="440.5" cy="93.7" r="1.1" class="l1"/><circle cx="449.2" cy="93.0" r="1.1" class="l1"/><circle cx="437.6" cy="93.3" r="1.1" class="l1"/><circle cx="452.2" cy="92.3" r="1.1" class="l1"/><circle cx="434.6" cy="92.6" r="1.1" class="l1"/><circle cx="454.7" cy="91.9" r="1.1" class="l1"/><circle cx="431.6" cy="92.0" r="1.1" class="l1"/><circle cx="457.7" cy="91.1" r="1.1" class="l1"/><circle cx="429.4" cy="91.3" r="1.1" class="l1"/><circle cx="442.8" cy="98.0" r="1.1" class="l1"/><circle cx="446.0" cy="97.2" r="1.1" class="l1"/><circle cx="440.2" cy="97.4" r="1.1" class="l1"/><circle cx="449.2" cy="96.5" r="1.1" class="l1"/><circle cx="436.9" cy="96.9" r="1.1" class="l1"/><circle cx="452.3" cy="96.3" r="1.1" class="l1"/><circle cx="434.0" cy="95.9" r="1.1" class="l1"/><circle cx="455.0" cy="95.5" r="1.1" class="l1"/><circle cx="432.1" cy="95.5" r="1.1" class="l1"/><circle cx="443.9" cy="102.5" r="1.1" class="l1"/><circle cx="447.0" cy="101.4" r="1.1" class="l1"/><circle cx="440.9" cy="101.2" r="1.1" class="l1"/><circle cx="450.3" cy="100.0" r="1.1" class="l1"/><circle cx="437.9" cy="99.6" r="1.1" class="l1"/><circle cx="453.6" cy="98.8" r="1.1" class="l1"/><circle cx="435.1" cy="98.5" r="1.1" class="l1"/><circle cx="444.5" cy="105.9" r="1.1" class="l1"/><circle cx="447.3" cy="104.2" r="1.1" class="l1"/><circle cx="441.3" cy="104.2" r="1.1" class="l1"/><circle cx="450.6" cy="102.7" r="1.1" class="l1"/><circle cx="438.2" cy="102.9" r="1.1" class="l1"/><circle cx="446.1" cy="110.3" r="1.1" class="l1"/><circle cx="449.0" cy="109.8" r="1.1" class="l1"/><circle cx="443.3" cy="109.3" r="1.1" class="l1"/><circle cx="451.8" cy="109.2" r="1.1" class="l1"/><circle cx="440.3" cy="109.0" r="1.1" class="l1"/><circle cx="454.7" cy="108.3" r="1.1" class="l1"/><circle cx="437.5" cy="108.5" r="1.1" class="l1"/><circle cx="457.3" cy="107.7" r="1.1" class="l1"/><circle cx="434.8" cy="107.8" r="1.1" class="l1"/><circle cx="460.3" cy="107.6" r="1.1" class="l1"/><circle cx="431.8" cy="107.3" r="1.1" class="l1"/><circle cx="463.4" cy="106.7" r="1.1" class="l1"/><circle cx="428.8" cy="107.1" r="1.1" class="l1"/><circle cx="465.0" cy="106.4" r="1.1" class="l1"/><circle cx="426.2" cy="106.5" r="1.1" class="l1"/><circle cx="443.7" cy="113.6" r="1.1" class="l1"/><circle cx="446.9" cy="112.8" r="1.1" class="l1"/><circle cx="440.0" cy="112.8" r="1.1" class="l1"/><circle cx="450.0" cy="112.1" r="1.1" class="l1"/><circle cx="436.8" cy="112.4" r="1.1" class="l1"/><circle cx="453.2" cy="111.5" r="1.1" class="l1"/><circle cx="433.4" cy="111.5" r="1.1" class="l1"/><circle cx="456.7" cy="111.0" r="1.1" class="l1"/><circle cx="430.3" cy="111.0" r="1.1" class="l1"/><circle cx="460.2" cy="110.5" r="1.1" class="l1"/><circle cx="428.2" cy="110.6" r="1.1" class="l1"/><circle cx="444.2" cy="117.5" r="1.1" class="l1"/><circle cx="447.2" cy="117.1" r="1.1" class="l1"/><circle cx="441.7" cy="116.6" r="1.1" class="l1"/><circle cx="449.9" cy="116.4" r="1.1" class="l1"/><circle cx="438.9" cy="116.3" r="1.1" class="l1"/><circle cx="452.8" cy="115.5" r="1.1" class="l1"/><circle cx="435.9" cy="115.4" r="1.1" class="l1"/><circle cx="455.8" cy="115.0" r="1.1" class="l1"/><circle cx="432.8" cy="115.2" r="1.1" class="l1"/><circle cx="458.7" cy="114.2" r="1.1" class="l1"/><circle cx="430.6" cy="114.4" r="1.1" class="l1"/><circle cx="445.0" cy="121.2" r="1.1" class="l1"/><circle cx="447.7" cy="120.6" r="1.1" class="l1"/><circle cx="441.9" cy="120.9" r="1.1" class="l1"/><circle cx="450.6" cy="120.0" r="1.1" class="l1"/><circle cx="438.9" cy="120.0" r="1.1" class="l1"/><circle cx="453.5" cy="119.6" r="1.1" class="l1"/><circle cx="435.8" cy="119.4" r="1.1" class="l1"/><circle cx="456.8" cy="118.8" r="1.1" class="l1"/><circle cx="432.8" cy="118.9" r="1.1" class="l1"/><circle cx="459.6" cy="118.1" r="1.1" class="l1"/><circle cx="430.0" cy="118.0" r="1.1" class="l1"/><circle cx="445.8" cy="125.4" r="1.1" class="l1"/><circle cx="448.9" cy="124.8" r="1.1" class="l1"/><circle cx="443.2" cy="124.4" r="1.1" class="l1"/><circle cx="451.8" cy="124.1" r="1.1" class="l1"/><circle cx="440.4" cy="123.7" r="1.1" class="l1"/><circle cx="454.8" cy="123.4" r="1.1" class="l1"/><circle cx="437.1" cy="123.6" r="1.1" class="l1"/><circle cx="457.5" cy="122.4" r="1.1" class="l1"/><circle cx="434.5" cy="122.4" r="1.1" class="l1"/><circle cx="459.3" cy="122.1" r="1.1" class="l1"/><circle cx="431.3" cy="121.8" r="1.1" class="l1"/><circle cx="446.6" cy="129.5" r="1.1" class="l1"/><circle cx="449.8" cy="128.2" r="1.1" class="l1"/><circle cx="443.7" cy="128.3" r="1.1" class="l1"/><circle cx="453.2" cy="127.2" r="1.1" class="l1"/><circle cx="440.1" cy="127.6" r="1.1" class="l1"/><circle cx="456.6" cy="126.5" r="1.1" class="l1"/><circle cx="437.1" cy="126.5" r="1.1" class="l1"/><circle cx="458.1" cy="125.8" r="1.1" class="l1"/><circle cx="433.9" cy="125.5" r="1.1" class="l1"/><circle cx="445.7" cy="132.6" r="1.1" class="l1"/><circle cx="448.5" cy="131.7" r="1.1" class="l1"/><circle cx="442.3" cy="131.9" r="1.1" class="l1"/><circle cx="452.0" cy="131.0" r="1.1" class="l1"/><circle cx="439.0" cy="131.1" r="1.1" class="l1"/><circle cx="454.6" cy="130.4" r="1.1" class="l1"/><circle cx="435.9" cy="130.4" r="1.1" class="l1"/><circle cx="443.4" cy="136.4" r="1.1" class="l1"/><circle cx="446.1" cy="136.2" r="1.1" class="l1"/><circle cx="440.9" cy="136.2" r="1.1" class="l1"/><circle cx="449.3" cy="135.3" r="1.1" class="l1"/><circle cx="438.2" cy="135.6" r="1.1" class="l1"/><circle cx="451.9" cy="135.2" r="1.1" class="l1"/><circle cx="435.0" cy="135.4" r="1.1" class="l1"/><circle cx="454.5" cy="134.9" r="1.1" class="l1"/><circle cx="432.2" cy="134.6" r="1.1" class="l1"/><circle cx="457.5" cy="134.6" r="1.1" class="l1"/><circle cx="429.5" cy="134.5" r="1.1" class="l1"/><circle cx="460.4" cy="134.1" r="1.1" class="l1"/><circle cx="427.8" cy="133.7" r="1.1" class="l1"/><circle cx="443.3" cy="140.2" r="1.1" class="l2"/><circle cx="445.7" cy="139.7" r="1.1" class="l2"/><circle cx="440.5" cy="139.8" r="1.1" class="l2"/><circle cx="447.9" cy="139.8" r="1.1" class="l2"/><circle cx="438.0" cy="139.6" r="1.1" class="l2"/><circle cx="450.8" cy="139.6" r="1.1" class="l2"/><circle cx="435.7" cy="139.1" r="1.1" class="l2"/><circle cx="453.2" cy="139.1" r="1.1" class="l2"/><circle cx="433.1" cy="139.2" r="1.1" class="l2"/><circle cx="455.4" cy="139.1" r="1.1" class="l2"/><circle cx="430.9" cy="138.6" r="1.1" class="l2"/><circle cx="457.9" cy="138.4" r="1.1" class="l2"/><circle cx="428.2" cy="138.6" r="1.1" class="l2"/><circle cx="460.8" cy="138.1" r="1.1" class="l2"/><circle cx="425.9" cy="138.3" r="1.1" class="l2"/><circle cx="463.2" cy="137.9" r="1.1" class="l2"/><circle cx="423.5" cy="137.9" r="1.1" class="l2"/><circle cx="465.7" cy="137.9" r="1.1" class="l2"/><circle cx="420.9" cy="138.0" r="1.1" class="l2"/><circle cx="468.2" cy="137.6" r="1.1" class="l2"/><circle cx="419.4" cy="137.5" r="1.1" class="l2"/><circle cx="445.4" cy="143.4" r="1.1" class="l2"/><circle cx="447.5" cy="142.8" r="1.1" class="l2"/><circle cx="442.8" cy="143.3" r="1.1" class="l2"/><circle cx="449.6" cy="142.9" r="1.1" class="l2"/><circle cx="440.4" cy="142.6" r="1.1" class="l2"/><circle cx="451.9" cy="142.5" r="1.1" class="l2"/><circle cx="438.3" cy="142.8" r="1.1" class="l2"/><circle cx="454.4" cy="142.9" r="1.1" class="l2"/><circle cx="436.2" cy="142.6" r="1.1" class="l2"/><circle cx="456.6" cy="142.6" r="1.1" class="l2"/><circle cx="433.8" cy="142.7" r="1.1" class="l2"/><circle cx="458.9" cy="142.3" r="1.1" class="l2"/><circle cx="431.7" cy="142.3" r="1.1" class="l2"/><circle cx="461.3" cy="142.1" r="1.1" class="l2"/><circle cx="428.9" cy="142.0" r="1.1" class="l2"/><circle cx="463.2" cy="142.2" r="1.1" class="l2"/><circle cx="426.7" cy="142.1" r="1.1" class="l2"/><circle cx="465.8" cy="142.2" r="1.1" class="l2"/><circle cx="424.8" cy="142.1" r="1.1" class="l2"/><circle cx="468.0" cy="142.2" r="1.1" class="l2"/><circle cx="422.1" cy="142.0" r="1.1" class="l2"/><circle cx="469.4" cy="141.5" r="1.1" class="l2"/><circle cx="419.9" cy="142.1" r="1.1" class="l2"/><circle cx="100.8" cy="201.6" r="1.1" class="l2"/><circle cx="103.0" cy="201.3" r="1.1" class="l2"/><circle cx="98.8" cy="200.9" r="1.1" class="l2"/><circle cx="105.5" cy="201.1" r="1.1" class="l2"/><circle cx="97.0" cy="201.3" r="1.1" class="l2"/><circle cx="107.5" cy="200.9" r="1.1" class="l2"/><circle cx="94.8" cy="200.6" r="1.1" class="l2"/><circle cx="109.5" cy="200.6" r="1.1" class="l2"/><circle cx="92.4" cy="200.8" r="1.1" class="l2"/><circle cx="111.5" cy="200.2" r="1.1" class="l2"/><circle cx="90.5" cy="200.2" r="1.1" class="l2"/><circle cx="113.6" cy="200.4" r="1.1" class="l2"/><circle cx="88.3" cy="200.2" r="1.1" class="l2"/><circle cx="115.8" cy="200.1" r="1.1" class="l2"/><circle cx="85.9" cy="200.1" r="1.1" class="l2"/><circle cx="118.0" cy="199.6" r="1.1" class="l2"/><circle cx="84.2" cy="199.7" r="1.1" class="l2"/><circle cx="120.3" cy="199.5" r="1.1" class="l2"/><circle cx="82.9" cy="199.5" r="1.1" class="l2"/><circle cx="101.8" cy="204.8" r="1.1" class="l2"/><circle cx="104.0" cy="204.7" r="1.1" class="l2"/><circle cx="100.0" cy="205.0" r="1.1" class="l2"/><circle cx="106.1" cy="204.5" r="1.1" class="l2"/><circle cx="97.6" cy="204.3" r="1.1" class="l2"/><circle cx="108.4" cy="204.6" r="1.1" class="l2"/><circle cx="95.7" cy="204.2" r="1.1" class="l2"/><circle cx="110.5" cy="203.9" r="1.1" class="l2"/><circle cx="93.3" cy="204.1" r="1.1" class="l2"/><circle cx="112.7" cy="204.1" r="1.1" class="l2"/><circle cx="91.2" cy="204.0" r="1.1" class="l2"/><circle cx="114.7" cy="203.9" r="1.1" class="l2"/><circle cx="89.1" cy="203.9" r="1.1" class="l2"/><circle cx="116.6" cy="203.9" r="1.1" class="l2"/><circle cx="87.1" cy="203.4" r="1.1" class="l2"/><circle cx="118.7" cy="203.2" r="1.1" class="l2"/><circle cx="85.3" cy="203.5" r="1.1" class="l2"/><circle cx="120.9" cy="203.1" r="1.1" class="l2"/><circle cx="82.9" cy="203.3" r="1.1" class="l2"/><circle cx="102.7" cy="208.2" r="1.1" class="l2"/><circle cx="105.2" cy="208.0" r="1.1" class="l2"/><circle cx="100.4" cy="208.4" r="1.1" class="l2"/><circle cx="107.2" cy="208.3" r="1.1" class="l2"/><circle cx="98.1" cy="208.2" r="1.1" class="l2"/><circle cx="109.8" cy="207.6" r="1.1" class="l2"/><circle cx="95.6" cy="207.6" r="1.1" class="l2"/><circle cx="112.2" cy="207.8" r="1.1" class="l2"/><circle cx="93.1" cy="207.8" r="1.1" class="l2"/><circle cx="114.5" cy="207.6" r="1.1" class="l2"/><circle cx="90.8" cy="207.8" r="1.1" class="l2"/><circle cx="116.8" cy="207.0" r="1.1" class="l2"/><circle cx="88.6" cy="207.5" r="1.1" class="l2"/><circle cx="119.2" cy="207.2" r="1.1" class="l2"/><circle cx="86.1" cy="207.4" r="1.1" class="l2"/><circle cx="121.0" cy="206.8" r="1.1" class="l2"/><circle cx="83.4" cy="207.1" r="1.1" class="l2"/><circle cx="101.5" cy="212.1" r="1.1" class="l2"/><circle cx="104.0" cy="211.7" r="1.1" class="l2"/><circle cx="99.2" cy="211.8" r="1.1" class="l2"/><circle cx="106.3" cy="211.8" r="1.1" class="l2"/><circle cx="96.8" cy="211.7" r="1.1" class="l2"/><circle cx="108.9" cy="211.6" r="1.1" class="l2"/><circle cx="94.5" cy="211.6" r="1.1" class="l2"/><circle cx="111.4" cy="211.1" r="1.1" class="l2"/><circle cx="92.1" cy="211.3" r="1.1" class="l2"/><circle cx="113.5" cy="211.0" r="1.1" class="l2"/><circle cx="89.9" cy="211.2" r="1.1" class="l2"/><circle cx="116.1" cy="210.9" r="1.1" class="l2"/><circle cx="87.4" cy="210.8" r="1.1" class="l2"/><circle cx="118.2" cy="210.7" r="1.1" class="l2"/><circle cx="85.1" cy="210.7" r="1.1" class="l2"/><circle cx="120.5" cy="210.7" r="1.1" class="l2"/><circle cx="82.9" cy="210.4" r="1.1" class="l2"/><circle cx="102.4" cy="215.5" r="1.1" class="l2"/><circle cx="105.0" cy="215.4" r="1.1" class="l2"/><circle cx="100.3" cy="215.7" r="1.1" class="l2"/><circle cx="107.3" cy="215.5" r="1.1" class="l2"/><circle cx="97.7" cy="215.2" r="1.1" class="l2"/><circle cx="109.5" cy="215.4" r="1.1" class="l2"/><circle cx="95.3" cy="214.9" r="1.1" class="l2"/><circle cx="112.2" cy="215.2" r="1.1" class="l2"/><circle cx="93.2" cy="214.8" r="1.1" class="l2"/><circle cx="114.4" cy="215.0" r="1.1" class="l2"/><circle cx="90.8" cy="214.5" r="1.1" class="l2"/><circle cx="116.6" cy="214.5" r="1.1" class="l2"/><circle cx="88.2" cy="214.8" r="1.1" class="l2"/><circle cx="119.2" cy="214.3" r="1.1" class="l2"/><circle cx="85.7" cy="214.2" r="1.1" class="l2"/><circle cx="121.0" cy="214.1" r="1.1" class="l2"/><circle cx="83.5" cy="213.9" r="1.1" class="l2"/><circle cx="101.6" cy="219.3" r="1.1" class="l2"/><circle cx="103.8" cy="218.9" r="1.1" class="l2"/><circle cx="99.1" cy="219.0" r="1.1" class="l2"/><circle cx="106.5" cy="218.8" r="1.1" class="l2"/><circle cx="97.1" cy="218.7" r="1.1" class="l2"/><circle cx="108.9" cy="218.5" r="1.1" class="l2"/><circle cx="94.5" cy="218.5" r="1.1" class="l2"/><circle cx="110.8" cy="218.4" r="1.1" class="l2"/><circle cx="92.2" cy="218.7" r="1.1" class="l2"/><circle cx="113.6" cy="218.2" r="1.1" class="l2"/><circle cx="89.9" cy="218.3" r="1.1" class="l2"/><circle cx="115.7" cy="217.8" r="1.1" class="l2"/><circle cx="87.4" cy="218.0" r="1.1" class="l2"/><circle cx="118.3" cy="218.1" r="1.1" class="l2"/><circle cx="84.9" cy="218.0" r="1.1" class="l2"/><circle cx="120.3" cy="217.9" r="1.1" class="l2"/><circle cx="83.0" cy="217.6" r="1.1" class="l2"/><circle cx="101.8" cy="223.0" r="1.1" class="l2"/><circle cx="104.3" cy="222.8" r="1.1" class="l2"/><circle cx="99.6" cy="222.5" r="1.1" class="l2"/><circle cx="106.6" cy="222.5" r="1.1" class="l2"/><circle cx="97.4" cy="222.2" r="1.1" class="l2"/><circle cx="108.9" cy="222.2" r="1.1" class="l2"/><circle cx="94.9" cy="222.4" r="1.1" class="l2"/><circle cx="111.4" cy="222.0" r="1.1" class="l2"/><circle cx="92.4" cy="222.3" r="1.1" class="l2"/><circle cx="114.0" cy="221.9" r="1.1" class="l2"/><circle cx="90.1" cy="221.8" r="1.1" class="l2"/><circle cx="116.3" cy="221.6" r="1.1" class="l2"/><circle cx="87.7" cy="221.9" r="1.1" class="l2"/><circle cx="118.4" cy="221.5" r="1.1" class="l2"/><circle cx="85.3" cy="221.8" r="1.1" class="l2"/><circle cx="120.9" cy="221.6" r="1.1" class="l2"/><circle cx="83.0" cy="221.6" r="1.1" class="l2"/><circle cx="102.2" cy="226.3" r="1.1" class="l2"/><circle cx="104.4" cy="225.9" r="1.1" class="l2"/><circle cx="99.8" cy="226.2" r="1.1" class="l2"/><circle cx="107.0" cy="226.1" r="1.1" class="l2"/><circle cx="97.2" cy="226.0" r="1.1" class="l2"/><circle cx="109.4" cy="225.8" r="1.1" class="l2"/><circle cx="95.1" cy="225.9" r="1.1" class="l2"/><circle cx="111.5" cy="225.6" r="1.1" class="l2"/><circle cx="92.8" cy="226.0" r="1.1" class="l2"/><circle cx="113.7" cy="225.6" r="1.1" class="l2"/><circle cx="90.0" cy="225.6" r="1.1" class="l2"/><circle cx="116.5" cy="225.7" r="1.1" class="l2"/><circle cx="87.8" cy="225.5" r="1.1" class="l2"/><circle cx="118.5" cy="225.5" r="1.1" class="l2"/><circle cx="85.5" cy="225.5" r="1.1" class="l2"/><circle cx="120.9" cy="224.8" r="1.1" class="l2"/><circle cx="83.3" cy="225.1" r="1.1" class="l2"/><circle cx="103.0" cy="230.2" r="1.1" class="l2"/><circle cx="105.4" cy="229.8" r="1.1" class="l2"/><circle cx="100.6" cy="230.2" r="1.1" class="l2"/><circle cx="107.4" cy="229.6" r="1.1" class="l2"/><circle cx="98.2" cy="230.0" r="1.1" class="l2"/><circle cx="110.1" cy="229.6" r="1.1" class="l2"/><circle cx="95.9" cy="229.3" r="1.1" class="l2"/><circle cx="112.5" cy="229.3" r="1.1" class="l2"/><circle cx="93.3" cy="229.3" r="1.1" class="l2"/><circle cx="114.6" cy="229.3" r="1.1" class="l2"/><circle cx="91.2" cy="229.2" r="1.1" class="l2"/><circle cx="117.1" cy="228.7" r="1.1" class="l2"/><circle cx="88.5" cy="228.8" r="1.1" class="l2"/><circle cx="119.6" cy="228.5" r="1.1" class="l2"/><circle cx="86.3" cy="228.5" r="1.1" class="l2"/><circle cx="120.9" cy="228.4" r="1.1" class="l2"/><circle cx="84.1" cy="228.6" r="1.1" class="l2"/><circle cx="101.0" cy="233.6" r="1.1" class="l2"/><circle cx="103.4" cy="233.3" r="1.1" class="l2"/><circle cx="98.6" cy="233.2" r="1.1" class="l2"/><circle cx="105.9" cy="232.9" r="1.1" class="l2"/><circle cx="96.5" cy="233.1" r="1.1" class="l2"/><circle cx="108.2" cy="233.1" r="1.1" class="l2"/><circle cx="93.8" cy="233.1" r="1.1" class="l2"/><circle cx="110.4" cy="233.1" r="1.1" class="l2"/><circle cx="91.7" cy="233.1" r="1.1" class="l2"/><circle cx="113.0" cy="232.8" r="1.1" class="l2"/><circle cx="89.3" cy="232.7" r="1.1" class="l2"/><circle cx="115.0" cy="232.9" r="1.1" class="l2"/><circle cx="86.8" cy="232.3" r="1.1" class="l2"/><circle cx="117.4" cy="232.4" r="1.1" class="l2"/><circle cx="84.7" cy="232.3" r="1.1" class="l2"/><circle cx="119.8" cy="232.2" r="1.1" class="l2"/><circle cx="83.1" cy="232.1" r="1.1" class="l2"/><circle cx="101.3" cy="237.3" r="1.1" class="l2"/><circle cx="103.5" cy="237.0" r="1.1" class="l2"/><circle cx="99.1" cy="237.1" r="1.1" class="l2"/><circle cx="106.1" cy="236.7" r="1.1" class="l2"/><circle cx="96.4" cy="237.0" r="1.1" class="l2"/><circle cx="108.6" cy="236.9" r="1.1" class="l2"/><circle cx="94.2" cy="236.4" r="1.1" class="l2"/><circle cx="110.7" cy="236.3" r="1.1" class="l2"/><circle cx="91.9" cy="236.3" r="1.1" class="l2"/><circle cx="113.0" cy="236.2" r="1.1" class="l2"/><circle cx="89.5" cy="236.3" r="1.1" class="l2"/><circle cx="115.6" cy="236.3" r="1.1" class="l2"/><circle cx="87.1" cy="235.9" r="1.1" class="l2"/><circle cx="117.8" cy="235.6" r="1.1" class="l2"/><circle cx="84.9" cy="235.7" r="1.1" class="l2"/><circle cx="120.5" cy="235.9" r="1.1" class="l2"/><circle cx="83.1" cy="235.6" r="1.1" class="l2"/><circle cx="102.4" cy="240.8" r="1.1" class="l2"/><circle cx="104.8" cy="240.5" r="1.1" class="l2"/><circle cx="99.8" cy="240.9" r="1.1" class="l2"/><circle cx="107.3" cy="240.4" r="1.1" class="l2"/><circle cx="97.4" cy="240.8" r="1.1" class="l2"/><circle cx="109.5" cy="240.4" r="1.1" class="l2"/><circle cx="95.3" cy="240.5" r="1.1" class="l2"/><circle cx="111.7" cy="239.9" r="1.1" class="l2"/><circle cx="93.1" cy="240.2" r="1.1" class="l2"/><circle cx="114.2" cy="239.7" r="1.1" class="l2"/><circle cx="90.7" cy="240.0" r="1.1" class="l2"/><circle cx="116.5" cy="239.4" r="1.1" class="l2"/><circle cx="88.3" cy="239.6" r="1.1" class="l2"/><circle cx="118.7" cy="239.4" r="1.1" class="l2"/><circle cx="85.8" cy="239.6" r="1.1" class="l2"/><circle cx="120.8" cy="239.5" r="1.1" class="l2"/><circle cx="83.7" cy="239.4" r="1.1" class="l2"/><circle cx="101.4" cy="244.5" r="1.1" class="l2"/><circle cx="103.7" cy="244.6" r="1.1" class="l2"/><circle cx="98.9" cy="244.5" r="1.1" class="l2"/><circle cx="105.8" cy="243.9" r="1.1" class="l2"/><circle cx="96.8" cy="244.1" r="1.1" class="l2"/><circle cx="108.4" cy="243.7" r="1.1" class="l2"/><circle cx="94.2" cy="244.1" r="1.1" class="l2"/><circle cx="110.8" cy="243.5" r="1.1" class="l2"/><circle cx="92.2" cy="243.7" r="1.1" class="l2"/><circle cx="113.0" cy="243.7" r="1.1" class="l2"/><circle cx="89.5" cy="243.5" r="1.1" class="l2"/><circle cx="115.5" cy="243.0" r="1.1" class="l2"/><circle cx="87.1" cy="243.5" r="1.1" class="l2"/><circle cx="118.0" cy="243.1" r="1.1" class="l2"/><circle cx="85.1" cy="242.8" r="1.1" class="l2"/><circle cx="120.1" cy="242.6" r="1.1" class="l2"/><circle cx="83.2" cy="242.9" r="1.1" class="l2"/><circle cx="102.5" cy="248.1" r="1.1" class="l2"/><circle cx="105.1" cy="247.8" r="1.1" class="l2"/><circle cx="100.0" cy="247.5" r="1.1" class="l2"/><circle cx="107.3" cy="247.7" r="1.1" class="l2"/><circle cx="97.7" cy="247.7" r="1.1" class="l2"/><circle cx="109.5" cy="247.4" r="1.1" class="l2"/><circle cx="95.4" cy="247.4" r="1.1" class="l2"/><circle cx="111.9" cy="247.4" r="1.1" class="l2"/><circle cx="93.2" cy="247.2" r="1.1" class="l2"/><circle cx="114.5" cy="246.9" r="1.1" class="l2"/><circle cx="90.7" cy="247.2" r="1.1" class="l2"/><circle cx="116.7" cy="246.8" r="1.1" class="l2"/><circle cx="88.5" cy="247.0" r="1.1" class="l2"/><circle cx="119.0" cy="246.8" r="1.1" class="l2"/><circle cx="86.0" cy="247.1" r="1.1" class="l2"/><circle cx="120.8" cy="247.0" r="1.1" class="l2"/><circle cx="83.9" cy="247.0" r="1.1" class="l2"/><circle cx="102.4" cy="251.8" r="1.1" class="l2"/><circle cx="105.3" cy="251.5" r="1.1" class="l2"/><circle cx="99.7" cy="251.6" r="1.1" class="l2"/><circle cx="108.2" cy="251.1" r="1.1" class="l2"/><circle cx="97.2" cy="251.2" r="1.1" class="l2"/><circle cx="110.8" cy="250.9" r="1.1" class="l2"/><circle cx="94.6" cy="251.2" r="1.1" class="l2"/><circle cx="113.4" cy="250.7" r="1.1" class="l2"/><circle cx="91.6" cy="250.8" r="1.1" class="l2"/><circle cx="116.3" cy="250.8" r="1.1" class="l2"/><circle cx="89.4" cy="250.7" r="1.1" class="l2"/><circle cx="118.9" cy="250.3" r="1.1" class="l2"/><circle cx="86.5" cy="250.2" r="1.1" class="l2"/><circle cx="120.8" cy="250.2" r="1.1" class="l2"/><circle cx="83.9" cy="250.3" r="1.1" class="l2"/><circle cx="101.2" cy="255.5" r="1.1" class="l2"/><circle cx="103.9" cy="255.2" r="1.1" class="l2"/><circle cx="98.3" cy="255.2" r="1.1" class="l2"/><circle cx="106.2" cy="254.9" r="1.1" class="l2"/><circle cx="95.6" cy="255.0" r="1.1" class="l2"/><circle cx="109.3" cy="254.4" r="1.1" class="l2"/><circle cx="92.7" cy="254.6" r="1.1" class="l2"/><circle cx="111.7" cy="254.6" r="1.1" class="l2"/><circle cx="90.1" cy="254.2" r="1.1" class="l2"/><circle cx="114.6" cy="253.8" r="1.1" class="l2"/><circle cx="87.6" cy="254.1" r="1.1" class="l2"/><circle cx="117.1" cy="253.5" r="1.1" class="l2"/><circle cx="84.8" cy="254.0" r="1.1" class="l2"/><circle cx="120.1" cy="253.6" r="1.1" class="l2"/><circle cx="83.2" cy="253.1" r="1.1" class="l2"/><circle cx="102.3" cy="259.5" r="1.1" class="l2"/><circle cx="105.2" cy="258.9" r="1.1" class="l2"/><circle cx="99.4" cy="258.9" r="1.1" class="l2"/><circle cx="107.8" cy="258.5" r="1.1" class="l2"/><circle cx="97.0" cy="258.9" r="1.1" class="l2"/><circle cx="110.6" cy="258.4" r="1.1" class="l2"/><circle cx="94.2" cy="258.4" r="1.1" class="l2"/><circle cx="113.2" cy="257.9" r="1.1" class="l2"/><circle cx="91.3" cy="257.8" r="1.1" class="l2"/><circle cx="115.9" cy="257.6" r="1.1" class="l2"/><circle cx="88.9" cy="257.4" r="1.1" class="l2"/><circle cx="118.2" cy="257.4" r="1.1" class="l2"/><circle cx="86.1" cy="257.0" r="1.1" class="l2"/><circle cx="120.8" cy="256.7" r="1.1" class="l2"/><circle cx="83.4" cy="257.1" r="1.1" class="l2"/><circle cx="101.2" cy="262.6" r="1.1" class="l1"/><circle cx="104.0" cy="262.5" r="1.1" class="l1"/><circle cx="98.7" cy="262.3" r="1.1" class="l1"/><circle cx="106.5" cy="262.4" r="1.1" class="l1"/><circle cx="95.7" cy="262.0" r="1.1" class="l1"/><circle cx="109.2" cy="261.6" r="1.1" class="l1"/><circle cx="93.4" cy="261.8" r="1.1" class="l1"/><circle cx="112.3" cy="261.7" r="1.1" class="l1"/><circle cx="90.6" cy="261.8" r="1.1" class="l1"/><circle cx="114.5" cy="261.3" r="1.1" class="l1"/><circle cx="87.7" cy="261.2" r="1.1" class="l1"/><circle cx="117.2" cy="261.1" r="1.1" class="l1"/><circle cx="85.1" cy="261.1" r="1.1" class="l1"/><circle cx="120.1" cy="260.8" r="1.1" class="l1"/><circle cx="83.2" cy="260.5" r="1.1" class="l1"/><circle cx="102.3" cy="266.3" r="1.1" class="l1"/><circle cx="104.7" cy="266.2" r="1.1" class="l1"/><circle cx="99.7" cy="266.1" r="1.1" class="l1"/><circle cx="107.7" cy="265.9" r="1.1" class="l1"/><circle cx="97.0" cy="265.9" r="1.1" class="l1"/><circle cx="110.1" cy="265.3" r="1.1" class="l1"/><circle cx="94.2" cy="265.6" r="1.1" class="l1"/><circle cx="112.9" cy="265.5" r="1.1" class="l1"/><circle cx="91.5" cy="265.2" r="1.1" class="l1"/><circle cx="115.6" cy="265.0" r="1.1" class="l1"/><circle cx="88.5" cy="265.2" r="1.1" class="l1"/><circle cx="118.4" cy="264.6" r="1.1" class="l1"/><circle cx="86.2" cy="264.4" r="1.1" class="l1"/><circle cx="120.7" cy="264.1" r="1.1" class="l1"/><circle cx="83.3" cy="264.6" r="1.1" class="l1"/><circle cx="101.1" cy="270.3" r="1.1" class="l1"/><circle cx="103.4" cy="269.6" r="1.1" class="l1"/><circle cx="98.5" cy="269.9" r="1.1" class="l1"/><circle cx="106.3" cy="269.4" r="1.1" class="l1"/><circle cx="95.6" cy="269.5" r="1.1" class="l1"/><circle cx="108.6" cy="269.5" r="1.1" class="l1"/><circle cx="92.8" cy="269.2" r="1.1" class="l1"/><circle cx="111.3" cy="268.7" r="1.1" class="l1"/><circle cx="90.4" cy="269.1" r="1.1" class="l1"/><circle cx="114.2" cy="268.4" r="1.1" class="l1"/><circle cx="87.5" cy="268.6" r="1.1" class="l1"/><circle cx="116.9" cy="268.5" r="1.1" class="l1"/><circle cx="85.3" cy="268.2" r="1.1" class="l1"/><circle cx="119.2" cy="268.2" r="1.1" class="l1"/><circle cx="83.3" cy="267.7" r="1.1" class="l1"/><circle cx="100.8" cy="273.7" r="1.1" class="l1"/><circle cx="103.8" cy="273.7" r="1.1" class="l1"/><circle cx="98.5" cy="273.3" r="1.1" class="l1"/><circle cx="106.0" cy="273.3" r="1.1" class="l1"/><circle cx="95.9" cy="273.4" r="1.1" class="l1"/><circle cx="108.6" cy="272.8" r="1.1" class="l1"/><circle cx="93.3" cy="272.8" r="1.1" class="l1"/><circle cx="111.5" cy="272.6" r="1.1" class="l1"/><circle cx="90.4" cy="272.5" r="1.1" class="l1"/><circle cx="114.2" cy="272.3" r="1.1" class="l1"/><circle cx="87.8" cy="272.2" r="1.1" class="l1"/><circle cx="116.4" cy="272.3" r="1.1" class="l1"/><circle cx="85.2" cy="272.3" r="1.1" class="l1"/><circle cx="119.2" cy="271.7" r="1.1" class="l1"/><circle cx="83.4" cy="272.1" r="1.1" class="l1"/><circle cx="102.0" cy="277.3" r="1.1" class="l1"/><circle cx="105.2" cy="277.3" r="1.1" class="l1"/><circle cx="99.1" cy="277.1" r="1.1" class="l1"/><circle cx="108.3" cy="277.1" r="1.1" class="l1"/><circle cx="96.2" cy="276.8" r="1.1" class="l1"/><circle cx="111.0" cy="276.7" r="1.1" class="l1"/><circle cx="92.9" cy="276.4" r="1.1" class="l1"/><circle cx="114.2" cy="276.2" r="1.1" class="l1"/><circle cx="90.1" cy="276.0" r="1.1" class="l1"/><circle cx="117.1" cy="276.2" r="1.1" class="l1"/><circle cx="87.3" cy="275.8" r="1.1" class="l1"/><circle cx="119.3" cy="275.8" r="1.1" class="l1"/><circle cx="84.2" cy="275.4" r="1.1" class="l1"/><circle cx="100.5" cy="281.5" r="1.1" class="l1"/><circle cx="103.6" cy="281.0" r="1.1" class="l1"/><circle cx="97.5" cy="280.8" r="1.1" class="l1"/><circle cx="106.2" cy="280.8" r="1.1" class="l1"/><circle cx="94.2" cy="280.8" r="1.1" class="l1"/><circle cx="109.3" cy="280.4" r="1.1" class="l1"/><circle cx="91.2" cy="280.1" r="1.1" class="l1"/><circle cx="112.4" cy="280.0" r="1.1" class="l1"/><circle cx="88.6" cy="279.5" r="1.1" class="l1"/><circle cx="115.2" cy="279.2" r="1.1" class="l1"/><circle cx="85.4" cy="279.3" r="1.1" class="l1"/><circle cx="118.5" cy="279.2" r="1.1" class="l1"/><circle cx="83.5" cy="279.0" r="1.1" class="l1"/><circle cx="102.1" cy="285.4" r="1.1" class="l1"/><circle cx="105.1" cy="284.7" r="1.1" class="l1"/><circle cx="99.6" cy="284.8" r="1.1" class="l1"/><circle cx="107.9" cy="284.2" r="1.1" class="l1"/><circle cx="96.3" cy="283.9" r="1.1" class="l1"/><circle cx="111.1" cy="283.5" r="1.1" class="l1"/><circle cx="93.4" cy="283.8" r="1.1" class="l1"/><circle cx="113.8" cy="283.1" r="1.1" class="l1"/><circle cx="90.6" cy="283.0" r="1.1" class="l1"/><circle cx="116.5" cy="282.1" r="1.1" class="l1"/><circle cx="87.8" cy="282.4" r="1.1" class="l1"/><circle cx="102.3" cy="289.2" r="1.1" class="l1"/><circle cx="105.5" cy="288.6" r="1.1" class="l1"/><circle cx="99.1" cy="288.5" r="1.1" class="l1"/><circle cx="109.1" cy="288.0" r="1.1" class="l1"/><circle cx="95.8" cy="288.0" r="1.1" class="l1"/><circle cx="112.4" cy="287.5" r="1.1" class="l1"/><circle cx="92.3" cy="287.4" r="1.1" class="l1"/><circle cx="115.9" cy="286.6" r="1.1" class="l1"/><circle cx="89.0" cy="286.9" r="1.1" class="l1"/><circle cx="118.2" cy="286.2" r="1.1" class="l1"/><circle cx="85.5" cy="286.0" r="1.1" class="l1"/><circle cx="88.3" cy="291.0" r="1.1" class="l0"/><circle cx="92.2" cy="292.4" r="1.1" class="l0"/><circle cx="97.4" cy="292.2" r="1.1" class="l0"/><circle cx="101.1" cy="291.4" r="1.1" class="l0"/><circle cx="106.5" cy="291.5" r="1.1" class="l0"/><circle cx="111.1" cy="291.6" r="1.1" class="l0"/><circle cx="115.8" cy="291.9" r="1.1" class="l0"/><circle cx="88.7" cy="296.5" r="1.1" class="l0"/><circle cx="92.2" cy="296.5" r="1.1" class="l0"/><circle cx="95.8" cy="296.3" r="1.1" class="l0"/><circle cx="100.2" cy="295.8" r="1.1" class="l0"/><circle cx="105.1" cy="296.1" r="1.1" class="l0"/><circle cx="109.3" cy="295.2" r="1.1" class="l0"/><circle cx="114.4" cy="295.8" r="1.1" class="l0"/><circle cx="89.1" cy="299.6" r="1.1" class="l0"/><circle cx="92.5" cy="300.0" r="1.1" class="l0"/><circle cx="97.7" cy="299.6" r="1.1" class="l0"/><circle cx="102.0" cy="299.2" r="1.1" class="l0"/><circle cx="108.0" cy="300.0" r="1.1" class="l0"/><circle cx="112.7" cy="299.5" r="1.1" class="l0"/><circle cx="91.2" cy="303.8" r="1.1" class="l0"/><circle cx="94.3" cy="303.6" r="1.1" class="l0"/><circle cx="99.0" cy="303.9" r="1.1" class="l0"/><circle cx="102.3" cy="303.2" r="1.1" class="l0"/><circle cx="106.6" cy="302.9" r="1.1" class="l0"/><circle cx="110.7" cy="303.9" r="1.1" class="l0"/><circle cx="93.7" cy="306.9" r="1.1" class="l0"/><circle cx="97.9" cy="306.8" r="1.1" class="l0"/><circle cx="101.9" cy="306.8" r="1.1" class="l0"/><circle cx="104.7" cy="307.0" r="1.1" class="l0"/><circle cx="109.4" cy="307.0" r="1.1" class="l0"/><circle cx="97.1" cy="312.0" r="1.1" class="l0"/><circle cx="101.4" cy="311.7" r="1.1" class="l0"/><circle cx="107.4" cy="311.4" r="1.1" class="l0"/><circle cx="98.3" cy="315.9" r="1.1" class="l0"/><circle cx="104.1" cy="314.4" r="1.1" class="l0"/><circle cx="99.4" cy="318.8" r="1.1" class="l0"/><circle cx="101.8" cy="319.0" r="1.1" class="l0"/><circle cx="164.3" cy="201.4" r="1.1" class="l3"/><circle cx="167.1" cy="201.1" r="1.1" class="l3"/><circle cx="161.4" cy="201.3" r="1.1" class="l3"/><circle cx="169.6" cy="201.1" r="1.1" class="l3"/><circle cx="158.8" cy="200.9" r="1.1" class="l3"/><circle cx="172.3" cy="201.1" r="1.1" class="l3"/><circle cx="156.1" cy="201.3" r="1.1" class="l3"/><circle cx="175.3" cy="200.7" r="1.1" class="l3"/><circle cx="153.1" cy="200.8" r="1.1" class="l3"/><circle cx="177.9" cy="201.1" r="1.1" class="l3"/><circle cx="150.4" cy="200.9" r="1.1" class="l3"/><circle cx="180.8" cy="200.7" r="1.1" class="l3"/><circle cx="147.8" cy="200.8" r="1.1" class="l3"/><circle cx="183.6" cy="200.6" r="1.1" class="l3"/><circle cx="145.3" cy="200.5" r="1.1" class="l3"/><circle cx="155.0" cy="209.4" r="1.1" class="l0"/><circle cx="160.0" cy="209.6" r="1.1" class="l0"/><circle cx="172.0" cy="209.4" r="1.1" class="l0"/><circle cx="176.0" cy="209.8" r="1.1" class="l0"/><circle cx="162.9" cy="213.7" r="1.1" class="l1"/><circle cx="165.6" cy="212.8" r="1.1" class="l1"/><circle cx="159.6" cy="213.1" r="1.1" class="l1"/><circle cx="168.8" cy="212.3" r="1.1" class="l1"/><circle cx="156.8" cy="211.8" r="1.1" class="l1"/><circle cx="171.4" cy="211.4" r="1.1" class="l1"/><circle cx="153.9" cy="211.3" r="1.1" class="l1"/><circle cx="174.6" cy="210.4" r="1.1" class="l1"/><circle cx="151.7" cy="210.0" r="1.1" class="l1"/><circle cx="164.0" cy="219.1" r="1.1" class="l2"/><circle cx="166.6" cy="219.1" r="1.1" class="l2"/><circle cx="161.5" cy="219.0" r="1.1" class="l2"/><circle cx="168.7" cy="218.4" r="1.1" class="l2"/><circle cx="159.2" cy="218.3" r="1.1" class="l2"/><circle cx="170.9" cy="218.3" r="1.1" class="l2"/><circle cx="157.3" cy="218.0" r="1.1" class="l2"/><circle cx="173.0" cy="217.3" r="1.1" class="l2"/><circle cx="154.7" cy="217.9" r="1.1" class="l2"/><circle cx="175.3" cy="216.7" r="1.1" class="l2"/><circle cx="152.7" cy="217.6" r="1.1" class="l2"/><circle cx="177.6" cy="216.5" r="1.1" class="l2"/><circle cx="150.4" cy="217.2" r="1.1" class="l2"/><circle cx="179.9" cy="216.5" r="1.1" class="l2"/><circle cx="148.2" cy="216.3" r="1.1" class="l2"/><circle cx="182.3" cy="215.5" r="1.1" class="l2"/><circle cx="146.7" cy="215.6" r="1.1" class="l2"/><circle cx="164.9" cy="224.2" r="1.1" class="l2"/><circle cx="167.4" cy="223.5" r="1.1" class="l2"/><circle cx="162.2" cy="223.2" r="1.1" class="l2"/><circle cx="169.5" cy="223.0" r="1.1" class="l2"/><circle cx="160.1" cy="222.7" r="1.1" class="l2"/><circle cx="172.1" cy="222.3" r="1.1" class="l2"/><circle cx="158.0" cy="222.8" r="1.1" class="l2"/><circle cx="174.4" cy="222.7" r="1.1" class="l2"/><circle cx="155.3" cy="222.8" r="1.1" class="l2"/><circle cx="176.5" cy="222.4" r="1.1" class="l2"/><circle cx="153.1" cy="222.2" r="1.1" class="l2"/><circle cx="178.8" cy="222.1" r="1.1" class="l2"/><circle cx="150.9" cy="221.7" r="1.1" class="l2"/><circle cx="181.6" cy="221.9" r="1.1" class="l2"/><circle cx="148.2" cy="221.2" r="1.1" class="l2"/><circle cx="183.3" cy="220.8" r="1.1" class="l2"/><circle cx="146.1" cy="221.5" r="1.1" class="l2"/><circle cx="164.6" cy="229.1" r="1.1" class="l2"/><circle cx="167.2" cy="227.9" r="1.1" class="l2"/><circle cx="162.5" cy="228.3" r="1.1" class="l2"/><circle cx="169.3" cy="228.2" r="1.1" class="l2"/><circle cx="160.1" cy="227.8" r="1.1" class="l2"/><circle cx="171.9" cy="228.2" r="1.1" class="l2"/><circle cx="158.0" cy="227.6" r="1.1" class="l2"/><circle cx="173.7" cy="227.3" r="1.1" class="l2"/><circle cx="155.9" cy="227.9" r="1.1" class="l2"/><circle cx="176.1" cy="226.9" r="1.1" class="l2"/><circle cx="153.6" cy="227.4" r="1.1" class="l2"/><circle cx="178.4" cy="226.9" r="1.1" class="l2"/><circle cx="151.4" cy="226.7" r="1.1" class="l2"/><circle cx="180.9" cy="227.0" r="1.1" class="l2"/><circle cx="149.0" cy="226.2" r="1.1" class="l2"/><circle cx="183.1" cy="226.8" r="1.1" class="l2"/><circle cx="146.8" cy="226.3" r="1.1" class="l2"/><circle cx="164.6" cy="233.6" r="1.1" class="l2"/><circle cx="166.9" cy="233.8" r="1.1" class="l2"/><circle cx="162.1" cy="233.7" r="1.1" class="l2"/><circle cx="169.7" cy="233.6" r="1.1" class="l2"/><circle cx="159.8" cy="233.0" r="1.1" class="l2"/><circle cx="171.8" cy="232.4" r="1.1" class="l2"/><circle cx="157.4" cy="232.9" r="1.1" class="l2"/><circle cx="174.1" cy="232.3" r="1.1" class="l2"/><circle cx="155.0" cy="232.1" r="1.1" class="l2"/><circle cx="176.6" cy="231.8" r="1.1" class="l2"/><circle cx="152.7" cy="232.3" r="1.1" class="l2"/><circle cx="179.0" cy="231.9" r="1.1" class="l2"/><circle cx="150.0" cy="232.0" r="1.1" class="l2"/><circle cx="181.4" cy="231.8" r="1.1" class="l2"/><circle cx="147.7" cy="231.3" r="1.1" class="l2"/><circle cx="183.8" cy="231.6" r="1.1" class="l2"/><circle cx="145.7" cy="230.9" r="1.1" class="l2"/><circle cx="164.2" cy="238.8" r="1.1" class="l2"/><circle cx="166.5" cy="238.6" r="1.1" class="l2"/><circle cx="161.5" cy="238.3" r="1.1" class="l2"/><circle cx="169.0" cy="238.1" r="1.1" class="l2"/><circle cx="159.0" cy="238.3" r="1.1" class="l2"/><circle cx="171.3" cy="238.1" r="1.1" class="l2"/><circle cx="156.7" cy="237.4" r="1.1" class="l2"/><circle cx="174.0" cy="237.2" r="1.1" class="l2"/><circle cx="154.4" cy="237.6" r="1.1" class="l2"/><circle cx="176.1" cy="236.9" r="1.1" class="l2"/><circle cx="151.9" cy="236.9" r="1.1" class="l2"/><circle cx="178.8" cy="237.1" r="1.1" class="l2"/><circle cx="149.8" cy="237.0" r="1.1" class="l2"/><circle cx="180.9" cy="236.6" r="1.1" class="l2"/><circle cx="147.0" cy="235.9" r="1.1" class="l2"/><circle cx="183.5" cy="235.8" r="1.1" class="l2"/><circle cx="145.7" cy="236.4" r="1.1" class="l2"/><circle cx="166.0" cy="244.0" r="1.1" class="l2"/><circle cx="168.4" cy="243.3" r="1.1" class="l2"/><circle cx="163.5" cy="244.0" r="1.1" class="l2"/><circle cx="170.9" cy="243.3" r="1.1" class="l2"/><circle cx="161.3" cy="242.8" r="1.1" class="l2"/><circle cx="173.3" cy="243.3" r="1.1" class="l2"/><circle cx="159.0" cy="242.5" r="1.1" class="l2"/><circle cx="175.8" cy="242.7" r="1.1" class="l2"/><circle cx="156.7" cy="242.2" r="1.1" class="l2"/><circle cx="178.1" cy="241.8" r="1.1" class="l2"/><circle cx="154.1" cy="241.9" r="1.1" class="l2"/><circle cx="180.7" cy="241.8" r="1.1" class="l2"/><circle cx="151.8" cy="242.1" r="1.1" class="l2"/><circle cx="182.9" cy="241.5" r="1.1" class="l2"/><circle cx="149.0" cy="241.9" r="1.1" class="l2"/><circle cx="184.3" cy="241.0" r="1.1" class="l2"/><circle cx="146.9" cy="241.3" r="1.1" class="l2"/><circle cx="164.9" cy="249.0" r="1.1" class="l2"/><circle cx="167.8" cy="248.2" r="1.1" class="l2"/><circle cx="162.9" cy="248.7" r="1.1" class="l2"/><circle cx="170.0" cy="248.4" r="1.1" class="l2"/><circle cx="160.3" cy="248.4" r="1.1" class="l2"/><circle cx="172.3" cy="247.4" r="1.1" class="l2"/><circle cx="158.1" cy="247.4" r="1.1" class="l2"/><circle cx="174.8" cy="247.3" r="1.1" class="l2"/><circle cx="155.3" cy="247.5" r="1.1" class="l2"/><circle cx="177.4" cy="247.4" r="1.1" class="l2"/><circle cx="153.2" cy="247.5" r="1.1" class="l2"/><circle cx="179.5" cy="246.7" r="1.1" class="l2"/><circle cx="150.7" cy="247.2" r="1.1" class="l2"/><circle cx="182.0" cy="246.5" r="1.1" class="l2"/><circle cx="148.4" cy="246.3" r="1.1" class="l2"/><circle cx="184.3" cy="246.3" r="1.1" class="l2"/><circle cx="145.7" cy="246.2" r="1.1" class="l2"/><circle cx="163.9" cy="253.9" r="1.1" class="l2"/><circle cx="166.3" cy="253.6" r="1.1" class="l2"/><circle cx="161.3" cy="253.6" r="1.1" class="l2"/><circle cx="168.5" cy="253.6" r="1.1" class="l2"/><circle cx="159.1" cy="252.8" r="1.1" class="l2"/><circle cx="171.3" cy="253.0" r="1.1" class="l2"/><circle cx="156.8" cy="253.0" r="1.1" class="l2"/><circle cx="173.3" cy="252.0" r="1.1" class="l2"/><circle cx="154.3" cy="252.2" r="1.1" class="l2"/><circle cx="176.0" cy="251.8" r="1.1" class="l2"/><circle cx="151.6" cy="252.4" r="1.1" class="l2"/><circle cx="178.6" cy="251.8" r="1.1" class="l2"/><circle cx="149.3" cy="252.0" r="1.1" class="l2"/><circle cx="180.7" cy="251.4" r="1.1" class="l2"/><circle cx="147.1" cy="251.9" r="1.1" class="l2"/><circle cx="183.1" cy="251.3" r="1.1" class="l2"/><circle cx="145.7" cy="251.3" r="1.1" class="l2"/><circle cx="165.7" cy="259.2" r="1.1" class="l2"/><circle cx="167.8" cy="257.9" r="1.1" class="l2"/><circle cx="163.4" cy="257.9" r="1.1" class="l2"/><circle cx="170.2" cy="257.9" r="1.1" class="l2"/><circle cx="160.8" cy="258.0" r="1.1" class="l2"/><circle cx="172.7" cy="258.2" r="1.1" class="l2"/><circle cx="158.7" cy="257.8" r="1.1" class="l2"/><circle cx="174.9" cy="257.3" r="1.1" class="l2"/><circle cx="156.7" cy="257.3" r="1.1" class="l2"/><circle cx="177.3" cy="257.7" r="1.1" class="l2"/><circle cx="153.9" cy="257.5" r="1.1" class="l2"/><circle cx="179.4" cy="256.5" r="1.1" class="l2"/><circle cx="151.8" cy="256.5" r="1.1" class="l2"/><circle cx="182.0" cy="257.1" r="1.1" class="l2"/><circle cx="149.4" cy="257.1" r="1.1" class="l2"/><circle cx="183.3" cy="256.1" r="1.1" class="l2"/><circle cx="147.0" cy="256.1" r="1.1" class="l2"/><circle cx="164.6" cy="263.5" r="1.1" class="l2"/><circle cx="166.9" cy="263.8" r="1.1" class="l2"/><circle cx="162.1" cy="263.7" r="1.1" class="l2"/><circle cx="168.9" cy="262.6" r="1.1" class="l2"/><circle cx="160.0" cy="263.2" r="1.1" class="l2"/><circle cx="171.1" cy="262.1" r="1.1" class="l2"/><circle cx="157.4" cy="262.4" r="1.1" class="l2"/><circle cx="173.5" cy="262.2" r="1.1" class="l2"/><circle cx="155.1" cy="262.4" r="1.1" class="l2"/><circle cx="175.9" cy="262.1" r="1.1" class="l2"/><circle cx="152.7" cy="261.4" r="1.1" class="l2"/><circle cx="178.3" cy="261.7" r="1.1" class="l2"/><circle cx="150.7" cy="261.5" r="1.1" class="l2"/><circle cx="166.1" cy="268.7" r="1.1" class="l2"/><circle cx="168.1" cy="268.1" r="1.1" class="l2"/><circle cx="163.6" cy="269.0" r="1.1" class="l2"/><circle cx="170.5" cy="268.1" r="1.1" class="l2"/><circle cx="161.6" cy="268.0" r="1.1" class="l2"/><circle cx="172.5" cy="268.0" r="1.1" class="l2"/><circle cx="159.0" cy="268.3" r="1.1" class="l2"/><circle cx="174.8" cy="267.7" r="1.1" class="l2"/><circle cx="156.8" cy="267.1" r="1.1" class="l2"/><circle cx="177.3" cy="267.6" r="1.1" class="l2"/><circle cx="154.9" cy="267.1" r="1.1" class="l2"/><circle cx="179.6" cy="267.3" r="1.1" class="l2"/><circle cx="152.4" cy="266.8" r="1.1" class="l2"/><circle cx="181.9" cy="266.4" r="1.1" class="l2"/><circle cx="150.4" cy="266.6" r="1.1" class="l2"/><circle cx="182.8" cy="266.4" r="1.1" class="l2"/><circle cx="148.2" cy="266.1" r="1.1" class="l2"/><circle cx="165.5" cy="274.3" r="1.1" class="l2"/><circle cx="168.1" cy="273.1" r="1.1" class="l2"/><circle cx="163.3" cy="273.7" r="1.1" class="l2"/><circle cx="170.2" cy="272.7" r="1.1" class="l2"/><circle cx="161.1" cy="273.0" r="1.1" class="l2"/><circle cx="172.4" cy="273.4" r="1.1" class="l2"/><circle cx="158.9" cy="272.4" r="1.1" class="l2"/><circle cx="174.7" cy="272.1" r="1.1" class="l2"/><circle cx="156.7" cy="272.4" r="1.1" class="l2"/><circle cx="177.1" cy="272.0" r="1.1" class="l2"/><circle cx="154.0" cy="272.1" r="1.1" class="l2"/><circle cx="179.6" cy="271.7" r="1.1" class="l2"/><circle cx="152.0" cy="271.6" r="1.1" class="l2"/><circle cx="181.6" cy="271.1" r="1.1" class="l2"/><circle cx="149.5" cy="271.5" r="1.1" class="l2"/><circle cx="183.3" cy="271.5" r="1.1" class="l2"/><circle cx="147.3" cy="271.3" r="1.1" class="l2"/><circle cx="165.3" cy="278.6" r="1.1" class="l2"/><circle cx="167.5" cy="279.0" r="1.1" class="l2"/><circle cx="162.9" cy="279.0" r="1.1" class="l2"/><circle cx="170.0" cy="278.3" r="1.1" class="l2"/><circle cx="160.5" cy="277.9" r="1.1" class="l2"/><circle cx="171.9" cy="278.3" r="1.1" class="l2"/><circle cx="158.3" cy="277.6" r="1.1" class="l2"/><circle cx="174.5" cy="277.7" r="1.1" class="l2"/><circle cx="156.1" cy="277.9" r="1.1" class="l2"/><circle cx="176.5" cy="276.6" r="1.1" class="l2"/><circle cx="153.6" cy="276.7" r="1.1" class="l2"/><circle cx="179.1" cy="276.3" r="1.1" class="l2"/><circle cx="151.2" cy="277.0" r="1.1" class="l2"/><circle cx="181.3" cy="276.8" r="1.1" class="l2"/><circle cx="149.0" cy="276.9" r="1.1" class="l2"/><circle cx="183.3" cy="276.3" r="1.1" class="l2"/><circle cx="146.9" cy="275.9" r="1.1" class="l2"/><circle cx="165.6" cy="284.1" r="1.1" class="l2"/><circle cx="168.3" cy="283.1" r="1.1" class="l2"/><circle cx="163.6" cy="283.7" r="1.1" class="l2"/><circle cx="170.3" cy="283.0" r="1.1" class="l2"/><circle cx="161.2" cy="283.6" r="1.1" class="l2"/><circle cx="172.7" cy="282.4" r="1.1" class="l2"/><circle cx="158.7" cy="282.7" r="1.1" class="l2"/><circle cx="175.3" cy="283.0" r="1.1" class="l2"/><circle cx="156.3" cy="282.8" r="1.1" class="l2"/><circle cx="177.2" cy="282.1" r="1.1" class="l2"/><circle cx="154.4" cy="282.4" r="1.1" class="l2"/><circle cx="179.8" cy="282.1" r="1.1" class="l2"/><circle cx="151.7" cy="281.4" r="1.1" class="l2"/><circle cx="182.2" cy="281.1" r="1.1" class="l2"/><circle cx="149.6" cy="281.8" r="1.1" class="l2"/><circle cx="183.3" cy="280.9" r="1.1" class="l2"/><circle cx="147.2" cy="280.7" r="1.1" class="l2"/><circle cx="164.6" cy="289.0" r="1.1" class="l2"/><circle cx="167.0" cy="288.5" r="1.1" class="l2"/><circle cx="162.2" cy="288.5" r="1.1" class="l2"/><circle cx="169.4" cy="287.9" r="1.1" class="l2"/><circle cx="160.2" cy="288.2" r="1.1" class="l2"/><circle cx="171.8" cy="287.6" r="1.1" class="l2"/><circle cx="157.7" cy="288.0" r="1.1" class="l2"/><circle cx="174.0" cy="287.4" r="1.1" class="l2"/><circle cx="155.2" cy="287.1" r="1.1" class="l2"/><circle cx="176.1" cy="287.1" r="1.1" class="l2"/><circle cx="153.2" cy="286.8" r="1.1" class="l2"/><circle cx="178.6" cy="287.2" r="1.1" class="l2"/><circle cx="150.8" cy="286.7" r="1.1" class="l2"/><circle cx="180.9" cy="287.1" r="1.1" class="l2"/><circle cx="148.4" cy="286.5" r="1.1" class="l2"/><circle cx="183.1" cy="286.4" r="1.1" class="l2"/><circle cx="146.3" cy="286.1" r="1.1" class="l2"/><circle cx="165.3" cy="293.1" r="1.1" class="l2"/><circle cx="167.6" cy="293.4" r="1.1" class="l2"/><circle cx="163.1" cy="292.8" r="1.1" class="l2"/><circle cx="170.0" cy="292.5" r="1.1" class="l2"/><circle cx="160.6" cy="292.9" r="1.1" class="l2"/><circle cx="172.3" cy="292.2" r="1.1" class="l2"/><circle cx="158.4" cy="292.5" r="1.1" class="l2"/><circle cx="174.7" cy="292.4" r="1.1" class="l2"/><circle cx="155.9" cy="292.3" r="1.1" class="l2"/><circle cx="177.2" cy="292.6" r="1.1" class="l2"/><circle cx="153.5" cy="292.2" r="1.1" class="l2"/><circle cx="179.6" cy="291.7" r="1.1" class="l2"/><circle cx="151.3" cy="292.0" r="1.1" class="l2"/><circle cx="181.9" cy="292.1" r="1.1" class="l2"/><circle cx="149.1" cy="291.4" r="1.1" class="l2"/><circle cx="183.3" cy="291.6" r="1.1" class="l2"/><circle cx="146.9" cy="291.3" r="1.1" class="l2"/><circle cx="164.4" cy="298.7" r="1.1" class="l2"/><circle cx="166.6" cy="298.8" r="1.1" class="l2"/><circle cx="161.9" cy="298.5" r="1.1" class="l2"/><circle cx="168.9" cy="298.5" r="1.1" class="l2"/><circle cx="159.6" cy="297.9" r="1.1" class="l2"/><circle cx="171.5" cy="298.0" r="1.1" class="l2"/><circle cx="157.6" cy="297.9" r="1.1" class="l2"/><circle cx="173.6" cy="297.8" r="1.1" class="l2"/><circle cx="154.9" cy="297.5" r="1.1" class="l2"/><circle cx="175.9" cy="296.9" r="1.1" class="l2"/><circle cx="152.7" cy="296.7" r="1.1" class="l2"/><circle cx="178.5" cy="297.1" r="1.1" class="l2"/><circle cx="150.3" cy="296.3" r="1.1" class="l2"/><circle cx="180.8" cy="296.5" r="1.1" class="l2"/><circle cx="147.9" cy="295.9" r="1.1" class="l2"/><circle cx="183.1" cy="296.1" r="1.1" class="l2"/><circle cx="146.0" cy="295.6" r="1.1" class="l2"/><circle cx="163.8" cy="303.7" r="1.1" class="l2"/><circle cx="166.2" cy="303.7" r="1.1" class="l2"/><circle cx="161.6" cy="303.7" r="1.1" class="l2"/><circle cx="168.8" cy="303.1" r="1.1" class="l2"/><circle cx="159.5" cy="303.4" r="1.1" class="l2"/><circle cx="171.1" cy="303.3" r="1.1" class="l2"/><circle cx="157.0" cy="302.6" r="1.1" class="l2"/><circle cx="173.5" cy="302.5" r="1.1" class="l2"/><circle cx="154.5" cy="302.4" r="1.1" class="l2"/><circle cx="175.7" cy="301.7" r="1.1" class="l2"/><circle cx="152.2" cy="302.2" r="1.1" class="l2"/><circle cx="178.0" cy="301.5" r="1.1" class="l2"/><circle cx="149.8" cy="301.4" r="1.1" class="l2"/><circle cx="180.3" cy="301.5" r="1.1" class="l2"/><circle cx="147.6" cy="301.6" r="1.1" class="l2"/><circle cx="182.5" cy="301.1" r="1.1" class="l2"/><circle cx="145.9" cy="300.7" r="1.1" class="l2"/><circle cx="164.8" cy="309.1" r="1.1" class="l2"/><circle cx="167.5" cy="308.0" r="1.1" class="l2"/><circle cx="162.6" cy="308.5" r="1.1" class="l2"/><circle cx="169.7" cy="307.7" r="1.1" class="l2"/><circle cx="160.3" cy="308.0" r="1.1" class="l2"/><circle cx="172.2" cy="307.6" r="1.1" class="l2"/><circle cx="157.8" cy="307.7" r="1.1" class="l2"/><circle cx="174.2" cy="307.9" r="1.1" class="l2"/><circle cx="155.5" cy="307.3" r="1.1" class="l2"/><circle cx="176.5" cy="307.7" r="1.1" class="l2"/><circle cx="153.3" cy="306.9" r="1.1" class="l2"/><circle cx="178.9" cy="306.4" r="1.1" class="l2"/><circle cx="150.9" cy="307.1" r="1.1" class="l2"/><circle cx="181.1" cy="306.8" r="1.1" class="l2"/><circle cx="148.4" cy="306.9" r="1.1" class="l2"/><circle cx="183.3" cy="306.5" r="1.1" class="l2"/><circle cx="146.1" cy="306.6" r="1.1" class="l2"/><circle cx="165.2" cy="314.1" r="1.1" class="l2"/><circle cx="167.6" cy="314.0" r="1.1" class="l2"/><circle cx="162.8" cy="313.4" r="1.1" class="l2"/><circle cx="170.1" cy="313.3" r="1.1" class="l2"/><circle cx="160.7" cy="313.2" r="1.1" class="l2"/><circle cx="172.5" cy="312.5" r="1.1" class="l2"/><circle cx="158.2" cy="312.9" r="1.1" class="l2"/><circle cx="175.0" cy="312.8" r="1.1" class="l2"/><circle cx="156.2" cy="312.9" r="1.1" class="l2"/><circle cx="177.1" cy="311.7" r="1.1" class="l2"/><circle cx="153.5" cy="312.1" r="1.1" class="l2"/><circle cx="179.7" cy="312.0" r="1.1" class="l2"/><circle cx="151.3" cy="311.4" r="1.1" class="l2"/><circle cx="182.0" cy="311.9" r="1.1" class="l2"/><circle cx="148.7" cy="311.3" r="1.1" class="l2"/><circle cx="183.3" cy="311.0" r="1.1" class="l2"/><circle cx="146.4" cy="311.3" r="1.1" class="l2"/><circle cx="163.0" cy="319.7" r="1.1" class="l1"/><circle cx="166.2" cy="319.1" r="1.1" class="l1"/><circle cx="159.8" cy="319.0" r="1.1" class="l1"/><circle cx="169.8" cy="318.2" r="1.1" class="l1"/><circle cx="156.4" cy="318.4" r="1.1" class="l1"/><circle cx="173.1" cy="318.2" r="1.1" class="l1"/><circle cx="153.0" cy="317.8" r="1.1" class="l1"/><circle cx="176.2" cy="317.3" r="1.1" class="l1"/><circle cx="150.1" cy="317.6" r="1.1" class="l1"/><circle cx="179.8" cy="317.3" r="1.1" class="l1"/><circle cx="146.7" cy="316.8" r="1.1" class="l1"/><circle cx="182.9" cy="316.7" r="1.1" class="l1"/><circle cx="144.7" cy="316.9" r="1.1" class="l1"/><circle cx="146.0" cy="323.5" r="1.1" class="l0"/><circle cx="183.0" cy="323.5" r="1.1" class="l0"/><circle cx="166.1" cy="327.8" r="1.1" class="l3"/><circle cx="169.0" cy="327.4" r="1.1" class="l3"/><circle cx="163.4" cy="327.7" r="1.1" class="l3"/><circle cx="171.6" cy="327.6" r="1.1" class="l3"/><circle cx="160.5" cy="327.4" r="1.1" class="l3"/><circle cx="174.4" cy="327.2" r="1.1" class="l3"/><circle cx="157.7" cy="327.4" r="1.1" class="l3"/><circle cx="177.4" cy="327.4" r="1.1" class="l3"/><circle cx="154.7" cy="327.7" r="1.1" class="l3"/><circle cx="180.4" cy="327.2" r="1.1" class="l3"/><circle cx="151.8" cy="327.6" r="1.1" class="l3"/><circle cx="182.3" cy="327.2" r="1.1" class="l3"/><circle cx="149.1" cy="327.6" r="1.1" class="l3"/><circle cx="227.8" cy="201.3" r="1.1" class="l2"/><circle cx="230.0" cy="200.9" r="1.1" class="l2"/><circle cx="225.6" cy="201.1" r="1.1" class="l2"/><circle cx="232.4" cy="201.0" r="1.1" class="l2"/><circle cx="223.1" cy="200.5" r="1.1" class="l2"/><circle cx="235.0" cy="200.3" r="1.1" class="l2"/><circle cx="220.6" cy="200.7" r="1.1" class="l2"/><circle cx="237.3" cy="200.4" r="1.1" class="l2"/><circle cx="218.3" cy="200.2" r="1.1" class="l2"/><circle cx="239.7" cy="200.4" r="1.1" class="l2"/><circle cx="215.8" cy="200.3" r="1.1" class="l2"/><circle cx="241.8" cy="199.9" r="1.1" class="l2"/><circle cx="213.7" cy="199.8" r="1.1" class="l2"/><circle cx="244.2" cy="199.9" r="1.1" class="l2"/><circle cx="211.4" cy="199.9" r="1.1" class="l2"/><circle cx="227.7" cy="204.9" r="1.1" class="l2"/><circle cx="230.5" cy="204.7" r="1.1" class="l2"/><circle cx="225.3" cy="204.7" r="1.1" class="l2"/><circle cx="233.0" cy="204.3" r="1.1" class="l2"/><circle cx="222.9" cy="204.5" r="1.1" class="l2"/><circle cx="235.4" cy="204.4" r="1.1" class="l2"/><circle cx="220.7" cy="204.5" r="1.1" class="l2"/><circle cx="237.4" cy="204.3" r="1.1" class="l2"/><circle cx="218.4" cy="204.1" r="1.1" class="l2"/><circle cx="239.8" cy="203.8" r="1.1" class="l2"/><circle cx="215.9" cy="204.1" r="1.1" class="l2"/><circle cx="242.2" cy="203.4" r="1.1" class="l2"/><circle cx="213.7" cy="203.7" r="1.1" class="l2"/><circle cx="245.0" cy="203.6" r="1.1" class="l2"/><circle cx="211.0" cy="203.3" r="1.1" class="l2"/><circle cx="247.0" cy="203.1" r="1.1" class="l2"/><circle cx="208.6" cy="203.1" r="1.1" class="l2"/><circle cx="227.2" cy="208.6" r="1.1" class="l2"/><circle cx="229.6" cy="208.1" r="1.1" class="l2"/><circle cx="224.7" cy="208.4" r="1.1" class="l2"/><circle cx="232.1" cy="207.9" r="1.1" class="l2"/><circle cx="222.2" cy="208.2" r="1.1" class="l2"/><circle cx="234.7" cy="207.8" r="1.1" class="l2"/><circle cx="220.2" cy="207.8" r="1.1" class="l2"/><circle cx="236.7" cy="207.6" r="1.1" class="l2"/><circle cx="217.8" cy="207.7" r="1.1" class="l2"/><circle cx="239.1" cy="207.7" r="1.1" class="l2"/><circle cx="215.3" cy="207.6" r="1.1" class="l2"/><circle cx="241.8" cy="207.3" r="1.1" class="l2"/><circle cx="212.6" cy="207.3" r="1.1" class="l2"/><circle cx="243.9" cy="207.2" r="1.1" class="l2"/><circle cx="210.6" cy="207.0" r="1.1" class="l2"/><circle cx="246.5" cy="207.0" r="1.1" class="l2"/><circle cx="208.4" cy="207.0" r="1.1" class="l2"/><circle cx="227.6" cy="212.3" r="1.1" class="l2"/><circle cx="230.1" cy="211.9" r="1.1" class="l2"/><circle cx="225.5" cy="211.7" r="1.1" class="l2"/><circle cx="232.6" cy="211.8" r="1.1" class="l2"/><circle cx="223.1" cy="211.7" r="1.1" class="l2"/><circle cx="234.9" cy="211.2" r="1.1" class="l2"/><circle cx="220.6" cy="211.6" r="1.1" class="l2"/><circle cx="237.2" cy="211.3" r="1.1" class="l2"/><circle cx="218.2" cy="211.1" r="1.1" class="l2"/><circle cx="240.0" cy="211.0" r="1.1" class="l2"/><circle cx="216.0" cy="211.3" r="1.1" class="l2"/><circle cx="242.2" cy="210.8" r="1.1" class="l2"/><circle cx="213.3" cy="210.7" r="1.1" class="l2"/><circle cx="244.6" cy="210.4" r="1.1" class="l2"/><circle cx="211.1" cy="211.0" r="1.1" class="l2"/><circle cx="246.9" cy="210.4" r="1.1" class="l2"/><circle cx="208.4" cy="210.7" r="1.1" class="l2"/><circle cx="226.6" cy="215.7" r="1.1" class="l2"/><circle cx="228.9" cy="215.8" r="1.1" class="l2"/><circle cx="224.0" cy="215.6" r="1.1" class="l2"/><circle cx="231.5" cy="215.4" r="1.1" class="l2"/><circle cx="221.9" cy="215.1" r="1.1" class="l2"/><circle cx="234.0" cy="215.4" r="1.1" class="l2"/><circle cx="219.6" cy="215.3" r="1.1" class="l2"/><circle cx="236.2" cy="215.0" r="1.1" class="l2"/><circle cx="217.2" cy="215.1" r="1.1" class="l2"/><circle cx="238.7" cy="214.8" r="1.1" class="l2"/><circle cx="214.5" cy="214.5" r="1.1" class="l2"/><circle cx="241.2" cy="214.4" r="1.1" class="l2"/><circle cx="212.1" cy="214.6" r="1.1" class="l2"/><circle cx="243.2" cy="214.5" r="1.1" class="l2"/><circle cx="209.7" cy="214.0" r="1.1" class="l2"/><circle cx="246.0" cy="213.8" r="1.1" class="l2"/><circle cx="208.5" cy="214.0" r="1.1" class="l2"/><circle cx="228.4" cy="219.1" r="1.1" class="l2"/><circle cx="230.9" cy="218.8" r="1.1" class="l2"/><circle cx="226.1" cy="219.1" r="1.1" class="l2"/><circle cx="233.3" cy="218.7" r="1.1" class="l2"/><circle cx="223.6" cy="218.8" r="1.1" class="l2"/><circle cx="235.5" cy="218.9" r="1.1" class="l2"/><circle cx="221.4" cy="218.4" r="1.1" class="l2"/><circle cx="238.2" cy="218.4" r="1.1" class="l2"/><circle cx="219.1" cy="218.2" r="1.1" class="l2"/><circle cx="240.7" cy="218.3" r="1.1" class="l2"/><circle cx="216.5" cy="218.2" r="1.1" class="l2"/><circle cx="242.9" cy="218.1" r="1.1" class="l2"/><circle cx="214.3" cy="218.1" r="1.1" class="l2"/><circle cx="245.4" cy="218.0" r="1.1" class="l2"/><circle cx="211.8" cy="218.0" r="1.1" class="l2"/><circle cx="246.7" cy="218.0" r="1.1" class="l2"/><circle cx="209.4" cy="218.0" r="1.1" class="l2"/><circle cx="227.4" cy="223.0" r="1.1" class="l2"/><circle cx="229.7" cy="222.4" r="1.1" class="l2"/><circle cx="225.0" cy="222.9" r="1.1" class="l2"/><circle cx="232.0" cy="222.6" r="1.1" class="l2"/><circle cx="222.8" cy="222.6" r="1.1" class="l2"/><circle cx="234.5" cy="222.2" r="1.1" class="l2"/><circle cx="220.1" cy="222.3" r="1.1" class="l2"/><circle cx="236.8" cy="221.9" r="1.1" class="l2"/><circle cx="217.9" cy="222.2" r="1.1" class="l2"/><circle cx="239.6" cy="222.2" r="1.1" class="l2"/><circle cx="215.7" cy="222.1" r="1.1" class="l2"/><circle cx="241.5" cy="221.9" r="1.1" class="l2"/><circle cx="213.4" cy="221.5" r="1.1" class="l2"/><circle cx="244.2" cy="221.8" r="1.1" class="l2"/><circle cx="210.7" cy="221.6" r="1.1" class="l2"/><circle cx="246.3" cy="221.3" r="1.1" class="l2"/><circle cx="208.5" cy="221.4" r="1.1" class="l2"/><circle cx="226.7" cy="226.5" r="1.1" class="l2"/><circle cx="229.0" cy="226.3" r="1.1" class="l2"/><circle cx="224.5" cy="225.9" r="1.1" class="l2"/><circle cx="231.4" cy="226.0" r="1.1" class="l2"/><circle cx="222.3" cy="226.0" r="1.1" class="l2"/><circle cx="234.0" cy="225.8" r="1.1" class="l2"/><circle cx="219.7" cy="225.8" r="1.1" class="l2"/><circle cx="236.5" cy="225.4" r="1.1" class="l2"/><circle cx="217.2" cy="225.7" r="1.1" class="l2"/><circle cx="238.6" cy="225.4" r="1.1" class="l2"/><circle cx="215.1" cy="225.8" r="1.1" class="l2"/><circle cx="241.1" cy="225.3" r="1.1" class="l2"/><circle cx="212.4" cy="225.4" r="1.1" class="l2"/><circle cx="243.6" cy="224.9" r="1.1" class="l2"/><circle cx="210.2" cy="225.0" r="1.1" class="l2"/><circle cx="245.6" cy="224.8" r="1.1" class="l2"/><circle cx="208.5" cy="224.8" r="1.1" class="l2"/><circle cx="226.9" cy="230.2" r="1.1" class="l2"/><circle cx="229.0" cy="230.2" r="1.1" class="l2"/><circle cx="224.4" cy="230.0" r="1.1" class="l2"/><circle cx="231.7" cy="229.9" r="1.1" class="l2"/><circle cx="222.1" cy="229.9" r="1.1" class="l2"/><circle cx="234.1" cy="229.4" r="1.1" class="l2"/><circle cx="219.9" cy="229.8" r="1.1" class="l2"/><circle cx="236.4" cy="229.2" r="1.1" class="l2"/><circle cx="217.5" cy="229.4" r="1.1" class="l2"/><circle cx="238.6" cy="229.3" r="1.1" class="l2"/><circle cx="215.1" cy="229.0" r="1.1" class="l2"/><circle cx="241.0" cy="229.0" r="1.1" class="l2"/><circle cx="212.3" cy="229.1" r="1.1" class="l2"/><circle cx="243.4" cy="228.4" r="1.1" class="l2"/><circle cx="210.3" cy="228.5" r="1.1" class="l2"/><circle cx="245.9" cy="228.3" r="1.1" class="l2"/><circle cx="208.6" cy="228.3" r="1.1" class="l2"/><circle cx="226.8" cy="233.5" r="1.1" class="l2"/><circle cx="228.8" cy="233.5" r="1.1" class="l2"/><circle cx="224.4" cy="233.5" r="1.1" class="l2"/><circle cx="231.5" cy="233.2" r="1.1" class="l2"/><circle cx="221.8" cy="233.0" r="1.1" class="l2"/><circle cx="233.8" cy="233.1" r="1.1" class="l2"/><circle cx="219.4" cy="233.0" r="1.1" class="l2"/><circle cx="236.0" cy="233.1" r="1.1" class="l2"/><circle cx="217.0" cy="232.9" r="1.1" class="l2"/><circle cx="238.5" cy="232.7" r="1.1" class="l2"/><circle cx="214.8" cy="232.7" r="1.1" class="l2"/><circle cx="240.5" cy="232.6" r="1.1" class="l2"/><circle cx="212.3" cy="232.9" r="1.1" class="l2"/><circle cx="243.4" cy="232.5" r="1.1" class="l2"/><circle cx="209.8" cy="232.3" r="1.1" class="l2"/><circle cx="245.3" cy="232.1" r="1.1" class="l2"/><circle cx="208.6" cy="232.5" r="1.1" class="l2"/><circle cx="228.3" cy="237.1" r="1.1" class="l2"/><circle cx="231.0" cy="237.2" r="1.1" class="l2"/><circle cx="226.1" cy="236.8" r="1.1" class="l2"/><circle cx="233.2" cy="236.7" r="1.1" class="l2"/><circle cx="223.8" cy="237.1" r="1.1" class="l2"/><circle cx="235.7" cy="236.8" r="1.1" class="l2"/><circle cx="221.5" cy="236.6" r="1.1" class="l2"/><circle cx="237.9" cy="236.4" r="1.1" class="l2"/><circle cx="219.1" cy="236.5" r="1.1" class="l2"/><circle cx="240.4" cy="236.1" r="1.1" class="l2"/><circle cx="216.6" cy="236.1" r="1.1" class="l2"/><circle cx="242.9" cy="236.3" r="1.1" class="l2"/><circle cx="214.5" cy="236.0" r="1.1" class="l2"/><circle cx="245.2" cy="235.7" r="1.1" class="l2"/><circle cx="211.7" cy="235.8" r="1.1" class="l2"/><circle cx="246.4" cy="235.9" r="1.1" class="l2"/><circle cx="209.4" cy="235.9" r="1.1" class="l2"/><circle cx="227.1" cy="240.8" r="1.1" class="l2"/><circle cx="229.8" cy="240.6" r="1.1" class="l2"/><circle cx="224.5" cy="240.8" r="1.1" class="l2"/><circle cx="232.6" cy="240.2" r="1.1" class="l2"/><circle cx="221.7" cy="240.5" r="1.1" class="l2"/><circle cx="235.2" cy="240.1" r="1.1" class="l2"/><circle cx="219.1" cy="240.2" r="1.1" class="l2"/><circle cx="237.6" cy="240.0" r="1.1" class="l2"/><circle cx="216.4" cy="239.9" r="1.1" class="l2"/><circle cx="240.5" cy="239.4" r="1.1" class="l2"/><circle cx="213.7" cy="239.7" r="1.1" class="l2"/><circle cx="243.2" cy="239.4" r="1.1" class="l2"/><circle cx="211.0" cy="239.4" r="1.1" class="l2"/><circle cx="245.9" cy="238.9" r="1.1" class="l2"/><circle cx="208.7" cy="239.1" r="1.1" class="l2"/><circle cx="228.0" cy="244.9" r="1.1" class="l1"/><circle cx="230.8" cy="244.1" r="1.1" class="l1"/><circle cx="225.2" cy="244.6" r="1.1" class="l1"/><circle cx="233.5" cy="244.2" r="1.1" class="l1"/><circle cx="222.4" cy="244.3" r="1.1" class="l1"/><circle cx="235.9" cy="244.0" r="1.1" class="l1"/><circle cx="220.0" cy="244.0" r="1.1" class="l1"/><circle cx="238.9" cy="243.5" r="1.1" class="l1"/><circle cx="217.5" cy="243.7" r="1.1" class="l1"/><circle cx="241.4" cy="243.6" r="1.1" class="l1"/><circle cx="214.6" cy="243.4" r="1.1" class="l1"/><circle cx="244.1" cy="243.0" r="1.1" class="l1"/><circle cx="211.7" cy="243.0" r="1.1" class="l1"/><circle cx="246.3" cy="242.6" r="1.1" class="l1"/><circle cx="209.2" cy="243.0" r="1.1" class="l1"/><circle cx="228.4" cy="248.6" r="1.1" class="l1"/><circle cx="231.4" cy="248.0" r="1.1" class="l1"/><circle cx="225.9" cy="248.1" r="1.1" class="l1"/><circle cx="233.6" cy="247.6" r="1.1" class="l1"/><circle cx="223.0" cy="247.7" r="1.1" class="l1"/><circle cx="236.3" cy="247.7" r="1.1" class="l1"/><circle cx="220.6" cy="247.8" r="1.1" class="l1"/><circle cx="239.2" cy="247.1" r="1.1" class="l1"/><circle cx="217.8" cy="247.2" r="1.1" class="l1"/><circle cx="242.0" cy="246.8" r="1.1" class="l1"/><circle cx="215.2" cy="247.2" r="1.1" class="l1"/><circle cx="244.4" cy="246.9" r="1.1" class="l1"/><circle cx="212.4" cy="246.5" r="1.1" class="l1"/><circle cx="246.1" cy="246.6" r="1.1" class="l1"/><circle cx="209.7" cy="246.3" r="1.1" class="l1"/><circle cx="226.8" cy="252.3" r="1.1" class="l1"/><circle cx="229.6" cy="251.9" r="1.1" class="l1"/><circle cx="224.3" cy="252.2" r="1.1" class="l1"/><circle cx="232.4" cy="251.5" r="1.1" class="l1"/><circle cx="221.6" cy="251.8" r="1.1" class="l1"/><circle cx="234.6" cy="251.5" r="1.1" class="l1"/><circle cx="219.1" cy="251.3" r="1.1" class="l1"/><circle cx="237.5" cy="251.1" r="1.1" class="l1"/><circle cx="216.3" cy="250.7" r="1.1" class="l1"/><circle cx="240.1" cy="250.4" r="1.1" class="l1"/><circle cx="213.7" cy="250.5" r="1.1" class="l1"/><circle cx="242.7" cy="250.2" r="1.1" class="l1"/><circle cx="210.9" cy="250.4" r="1.1" class="l1"/><circle cx="245.2" cy="249.7" r="1.1" class="l1"/><circle cx="209.1" cy="249.6" r="1.1" class="l1"/><circle cx="226.4" cy="255.5" r="1.1" class="l1"/><circle cx="229.0" cy="255.2" r="1.1" class="l1"/><circle cx="224.2" cy="255.6" r="1.1" class="l1"/><circle cx="232.0" cy="254.9" r="1.1" class="l1"/><circle cx="221.5" cy="255.4" r="1.1" class="l1"/><circle cx="234.6" cy="254.8" r="1.1" class="l1"/><circle cx="218.5" cy="254.7" r="1.1" class="l1"/><circle cx="236.9" cy="255.0" r="1.1" class="l1"/><circle cx="216.3" cy="254.9" r="1.1" class="l1"/><circle cx="239.4" cy="254.2" r="1.1" class="l1"/><circle cx="213.4" cy="254.5" r="1.1" class="l1"/><circle cx="242.3" cy="254.3" r="1.1" class="l1"/><circle cx="210.9" cy="254.0" r="1.1" class="l1"/><circle cx="245.0" cy="253.8" r="1.1" class="l1"/><circle cx="209.2" cy="254.0" r="1.1" class="l1"/><circle cx="227.4" cy="259.9" r="1.1" class="l1"/><circle cx="230.6" cy="259.3" r="1.1" class="l1"/><circle cx="224.5" cy="259.4" r="1.1" class="l1"/><circle cx="233.7" cy="258.9" r="1.1" class="l1"/><circle cx="221.5" cy="259.1" r="1.1" class="l1"/><circle cx="236.7" cy="258.7" r="1.1" class="l1"/><circle cx="218.4" cy="258.3" r="1.1" class="l1"/><circle cx="239.5" cy="258.0" r="1.1" class="l1"/><circle cx="215.4" cy="258.1" r="1.1" class="l1"/><circle cx="242.7" cy="258.0" r="1.1" class="l1"/><circle cx="212.6" cy="257.6" r="1.1" class="l1"/><circle cx="245.5" cy="257.5" r="1.1" class="l1"/><circle cx="209.7" cy="257.3" r="1.1" class="l1"/><circle cx="226.4" cy="262.9" r="1.1" class="l1"/><circle cx="229.4" cy="262.8" r="1.1" class="l1"/><circle cx="223.4" cy="262.8" r="1.1" class="l1"/><circle cx="232.5" cy="262.6" r="1.1" class="l1"/><circle cx="220.7" cy="262.4" r="1.1" class="l1"/><circle cx="235.2" cy="262.1" r="1.1" class="l1"/><circle cx="217.7" cy="262.4" r="1.1" class="l1"/><circle cx="238.4" cy="262.1" r="1.1" class="l1"/><circle cx="214.7" cy="261.7" r="1.1" class="l1"/><circle cx="241.7" cy="261.3" r="1.1" class="l1"/><circle cx="211.6" cy="261.6" r="1.1" class="l1"/><circle cx="244.3" cy="261.0" r="1.1" class="l1"/><circle cx="209.6" cy="261.2" r="1.1" class="l1"/><circle cx="226.4" cy="267.0" r="1.1" class="l1"/><circle cx="229.2" cy="266.8" r="1.1" class="l1"/><circle cx="222.9" cy="267.0" r="1.1" class="l1"/><circle cx="232.4" cy="265.9" r="1.1" class="l1"/><circle cx="219.7" cy="266.3" r="1.1" class="l1"/><circle cx="235.6" cy="265.8" r="1.1" class="l1"/><circle cx="216.7" cy="265.8" r="1.1" class="l1"/><circle cx="238.5" cy="264.9" r="1.1" class="l1"/><circle cx="213.7" cy="265.3" r="1.1" class="l1"/><circle cx="241.7" cy="264.8" r="1.1" class="l1"/><circle cx="211.8" cy="264.5" r="1.1" class="l1"/><circle cx="228.2" cy="270.8" r="1.1" class="l1"/><circle cx="231.3" cy="270.5" r="1.1" class="l1"/><circle cx="224.9" cy="270.6" r="1.1" class="l1"/><circle cx="235.0" cy="269.7" r="1.1" class="l1"/><circle cx="221.5" cy="269.8" r="1.1" class="l1"/><circle cx="238.4" cy="269.2" r="1.1" class="l1"/><circle cx="217.8" cy="269.3" r="1.1" class="l1"/><circle cx="241.2" cy="268.2" r="1.1" class="l1"/><circle cx="214.3" cy="268.4" r="1.1" class="l1"/><circle cx="228.2" cy="275.3" r="1.1" class="l1"/><circle cx="231.8" cy="274.7" r="1.1" class="l1"/><circle cx="224.9" cy="274.6" r="1.1" class="l1"/><circle cx="235.2" cy="273.4" r="1.1" class="l1"/><circle cx="221.7" cy="273.5" r="1.1" class="l1"/><circle cx="238.7" cy="272.8" r="1.1" class="l1"/><circle cx="218.2" cy="272.8" r="1.1" class="l1"/><circle cx="241.1" cy="271.6" r="1.1" class="l1"/><circle cx="214.8" cy="271.9" r="1.1" class="l1"/><circle cx="228.7" cy="278.8" r="1.1" class="l1"/><circle cx="232.5" cy="278.1" r="1.1" class="l1"/><circle cx="225.4" cy="277.8" r="1.1" class="l1"/><circle cx="236.2" cy="277.6" r="1.1" class="l1"/><circle cx="221.9" cy="277.2" r="1.1" class="l1"/><circle cx="239.4" cy="277.0" r="1.1" class="l1"/><circle cx="218.5" cy="277.1" r="1.1" class="l1"/><circle cx="241.7" cy="276.1" r="1.1" class="l1"/><circle cx="214.6" cy="276.0" r="1.1" class="l1"/><circle cx="225.9" cy="282.7" r="1.1" class="l1"/><circle cx="229.0" cy="281.8" r="1.1" class="l1"/><circle cx="223.0" cy="281.9" r="1.1" class="l1"/><circle cx="232.0" cy="281.1" r="1.1" class="l1"/><circle cx="220.1" cy="281.2" r="1.1" class="l1"/><circle cx="234.8" cy="280.7" r="1.1" class="l1"/><circle cx="217.1" cy="281.0" r="1.1" class="l1"/><circle cx="237.5" cy="279.9" r="1.1" class="l1"/><circle cx="215.8" cy="280.1" r="1.1" class="l1"/><circle cx="222.5" cy="286.5" r="1.1" class="l0"/><circle cx="226.0" cy="287.0" r="1.1" class="l0"/><circle cx="229.5" cy="286.5" r="1.1" class="l0"/><circle cx="233.0" cy="287.0" r="1.1" class="l0"/><circle cx="236.0" cy="286.2" r="1.1" class="l0"/><circle cx="226.5" cy="290.2" r="1.1" class="l0"/><circle cx="230.0" cy="290.5" r="1.1" class="l0"/><circle cx="233.5" cy="290.0" r="1.1" class="l0"/><circle cx="221.5" cy="294.5" r="1.1" class="l0"/><circle cx="225.0" cy="295.0" r="1.1" class="l0"/><circle cx="228.5" cy="294.5" r="1.1" class="l0"/><circle cx="232.0" cy="294.8" r="1.1" class="l0"/><circle cx="224.0" cy="298.5" r="1.1" class="l0"/><circle cx="228.0" cy="298.8" r="1.1" class="l0"/><circle cx="226.5" cy="301.5" r="1.1" class="l0"/><circle cx="221.5" cy="304.0" r="1.1" class="l0"/><circle cx="225.0" cy="305.0" r="1.1" class="l0"/><circle cx="229.0" cy="304.5" r="1.1" class="l0"/><circle cx="233.0" cy="303.5" r="1.1" class="l0"/><circle cx="226.0" cy="308.0" r="1.1" class="l0"/><circle cx="229.5" cy="307.5" r="1.1" class="l0"/><circle cx="345.0" cy="204.6" r="1.1" class="l0"/><circle cx="349.0" cy="204.8" r="1.1" class="l0"/><circle cx="353.0" cy="204.6" r="1.1" class="l0"/><circle cx="357.0" cy="204.8" r="1.1" class="l0"/><circle cx="361.0" cy="204.6" r="1.1" class="l0"/><circle cx="365.0" cy="204.0" r="1.1" class="l0"/><circle cx="354.8" cy="209.3" r="1.1" class="l1"/><circle cx="358.0" cy="208.9" r="1.1" class="l1"/><circle cx="351.5" cy="208.9" r="1.1" class="l1"/><circle cx="360.9" cy="208.3" r="1.1" class="l1"/><circle cx="348.2" cy="208.2" r="1.1" class="l1"/><circle cx="364.0" cy="207.3" r="1.1" class="l1"/><circle cx="345.4" cy="207.4" r="1.1" class="l1"/><circle cx="367.5" cy="206.6" r="1.1" class="l1"/><circle cx="342.4" cy="206.6" r="1.1" class="l1"/><circle cx="370.5" cy="206.5" r="1.1" class="l1"/><circle cx="339.3" cy="206.4" r="1.1" class="l1"/><circle cx="373.8" cy="205.6" r="1.1" class="l1"/><circle cx="336.1" cy="205.3" r="1.1" class="l1"/><circle cx="355.5" cy="212.8" r="1.1" class="l1"/><circle cx="358.6" cy="212.1" r="1.1" class="l1"/><circle cx="352.2" cy="212.2" r="1.1" class="l1"/><circle cx="361.9" cy="212.1" r="1.1" class="l1"/><circle cx="349.2" cy="212.1" r="1.1" class="l1"/><circle cx="365.4" cy="211.6" r="1.1" class="l1"/><circle cx="345.9" cy="211.5" r="1.1" class="l1"/><circle cx="368.4" cy="210.7" r="1.1" class="l1"/><circle cx="342.9" cy="210.7" r="1.1" class="l1"/><circle cx="371.7" cy="210.1" r="1.1" class="l1"/><circle cx="339.5" cy="210.3" r="1.1" class="l1"/><circle cx="374.3" cy="209.9" r="1.1" class="l1"/><circle cx="336.2" cy="210.2" r="1.1" class="l1"/><circle cx="355.1" cy="215.8" r="1.1" class="l1"/><circle cx="357.7" cy="215.7" r="1.1" class="l1"/><circle cx="351.6" cy="215.7" r="1.1" class="l1"/><circle cx="360.8" cy="215.5" r="1.1" class="l1"/><circle cx="348.8" cy="215.3" r="1.1" class="l1"/><circle cx="363.8" cy="215.5" r="1.1" class="l1"/><circle cx="345.8" cy="215.3" r="1.1" class="l1"/><circle cx="367.0" cy="214.9" r="1.1" class="l1"/><circle cx="342.6" cy="214.6" r="1.1" class="l1"/><circle cx="370.0" cy="214.7" r="1.1" class="l1"/><circle cx="339.5" cy="215.0" r="1.1" class="l1"/><circle cx="373.3" cy="214.6" r="1.1" class="l1"/><circle cx="336.7" cy="214.6" r="1.1" class="l1"/><circle cx="354.8" cy="220.0" r="1.1" class="l1"/><circle cx="357.9" cy="219.3" r="1.1" class="l1"/><circle cx="352.0" cy="219.8" r="1.1" class="l1"/><circle cx="361.0" cy="219.0" r="1.1" class="l1"/><circle cx="349.5" cy="219.1" r="1.1" class="l1"/><circle cx="363.6" cy="218.6" r="1.1" class="l1"/><circle cx="346.5" cy="218.8" r="1.1" class="l1"/><circle cx="366.7" cy="218.4" r="1.1" class="l1"/><circle cx="343.7" cy="218.8" r="1.1" class="l1"/><circle cx="369.3" cy="218.5" r="1.1" class="l1"/><circle cx="340.4" cy="218.3" r="1.1" class="l1"/><circle cx="372.3" cy="217.8" r="1.1" class="l1"/><circle cx="337.7" cy="218.2" r="1.1" class="l1"/><circle cx="355.0" cy="223.8" r="1.1" class="l1"/><circle cx="358.1" cy="223.5" r="1.1" class="l1"/><circle cx="352.2" cy="223.1" r="1.1" class="l1"/><circle cx="360.8" cy="222.8" r="1.1" class="l1"/><circle cx="349.6" cy="223.0" r="1.1" class="l1"/><circle cx="363.7" cy="222.7" r="1.1" class="l1"/><circle cx="346.7" cy="222.6" r="1.1" class="l1"/><circle cx="366.4" cy="222.5" r="1.1" class="l1"/><circle cx="343.6" cy="222.1" r="1.1" class="l1"/><circle cx="368.9" cy="222.1" r="1.1" class="l1"/><circle cx="341.2" cy="222.1" r="1.1" class="l1"/><circle cx="371.8" cy="221.5" r="1.1" class="l1"/><circle cx="338.3" cy="221.5" r="1.1" class="l1"/><circle cx="354.8" cy="227.3" r="1.1" class="l1"/><circle cx="357.8" cy="227.1" r="1.1" class="l1"/><circle cx="352.2" cy="226.9" r="1.1" class="l1"/><circle cx="360.1" cy="226.5" r="1.1" class="l1"/><circle cx="349.5" cy="226.7" r="1.1" class="l1"/><circle cx="363.3" cy="226.2" r="1.1" class="l1"/><circle cx="346.5" cy="226.4" r="1.1" class="l1"/><circle cx="366.0" cy="226.1" r="1.1" class="l1"/><circle cx="344.0" cy="225.7" r="1.1" class="l1"/><circle cx="368.5" cy="225.6" r="1.1" class="l1"/><circle cx="341.1" cy="225.6" r="1.1" class="l1"/><circle cx="371.2" cy="225.3" r="1.1" class="l1"/><circle cx="338.5" cy="225.0" r="1.1" class="l1"/><circle cx="353.9" cy="231.1" r="1.1" class="l1"/><circle cx="356.6" cy="231.0" r="1.1" class="l1"/><circle cx="351.3" cy="231.1" r="1.1" class="l1"/><circle cx="358.9" cy="230.7" r="1.1" class="l1"/><circle cx="348.5" cy="230.7" r="1.1" class="l1"/><circle cx="361.9" cy="230.4" r="1.1" class="l1"/><circle cx="346.1" cy="230.4" r="1.1" class="l1"/><circle cx="364.4" cy="229.8" r="1.1" class="l1"/><circle cx="343.2" cy="230.0" r="1.1" class="l1"/><circle cx="367.0" cy="229.5" r="1.1" class="l1"/><circle cx="340.7" cy="229.7" r="1.1" class="l1"/><circle cx="369.7" cy="229.3" r="1.1" class="l1"/><circle cx="338.2" cy="229.1" r="1.1" class="l1"/><circle cx="372.2" cy="229.1" r="1.1" class="l1"/><circle cx="336.6" cy="228.9" r="1.1" class="l1"/><circle cx="353.9" cy="234.5" r="1.1" class="l1"/><circle cx="356.3" cy="234.2" r="1.1" class="l1"/><circle cx="351.5" cy="234.2" r="1.1" class="l1"/><circle cx="358.7" cy="234.3" r="1.1" class="l1"/><circle cx="349.1" cy="234.3" r="1.1" class="l1"/><circle cx="361.2" cy="233.7" r="1.1" class="l1"/><circle cx="346.7" cy="233.9" r="1.1" class="l1"/><circle cx="363.5" cy="234.0" r="1.1" class="l1"/><circle cx="344.1" cy="233.9" r="1.1" class="l1"/><circle cx="365.7" cy="233.6" r="1.1" class="l1"/><circle cx="341.7" cy="233.7" r="1.1" class="l1"/><circle cx="368.4" cy="233.2" r="1.1" class="l1"/><circle cx="339.2" cy="233.2" r="1.1" class="l1"/><circle cx="370.9" cy="233.1" r="1.1" class="l1"/><circle cx="336.8" cy="232.8" r="1.1" class="l1"/><circle cx="373.1" cy="233.1" r="1.1" class="l1"/><circle cx="335.6" cy="232.7" r="1.1" class="l1"/><circle cx="355.0" cy="238.5" r="1.1" class="l2"/><circle cx="357.5" cy="238.4" r="1.1" class="l2"/><circle cx="351.9" cy="238.2" r="1.1" class="l2"/><circle cx="360.5" cy="237.9" r="1.1" class="l2"/><circle cx="349.1" cy="238.0" r="1.1" class="l2"/><circle cx="363.3" cy="237.3" r="1.1" class="l2"/><circle cx="346.6" cy="237.7" r="1.1" class="l2"/><circle cx="365.9" cy="237.0" r="1.1" class="l2"/><circle cx="343.9" cy="237.0" r="1.1" class="l2"/><circle cx="368.5" cy="237.2" r="1.1" class="l2"/><circle cx="341.1" cy="236.7" r="1.1" class="l2"/><circle cx="371.5" cy="237.0" r="1.1" class="l2"/><circle cx="338.1" cy="236.6" r="1.1" class="l2"/><circle cx="374.4" cy="236.6" r="1.1" class="l2"/><circle cx="335.6" cy="236.3" r="1.1" class="l2"/><circle cx="356.1" cy="242.3" r="1.1" class="l2"/><circle cx="358.9" cy="241.6" r="1.1" class="l2"/><circle cx="353.1" cy="241.8" r="1.1" class="l2"/><circle cx="361.6" cy="241.8" r="1.1" class="l2"/><circle cx="350.4" cy="241.8" r="1.1" class="l2"/><circle cx="364.6" cy="241.1" r="1.1" class="l2"/><circle cx="348.0" cy="241.3" r="1.1" class="l2"/><circle cx="367.0" cy="240.8" r="1.1" class="l2"/><circle cx="345.2" cy="241.0" r="1.1" class="l2"/><circle cx="370.0" cy="240.4" r="1.1" class="l2"/><circle cx="342.3" cy="240.6" r="1.1" class="l2"/><circle cx="372.7" cy="240.1" r="1.1" class="l2"/><circle cx="339.7" cy="240.2" r="1.1" class="l2"/><circle cx="374.4" cy="239.6" r="1.1" class="l2"/><circle cx="336.9" cy="239.6" r="1.1" class="l2"/><circle cx="355.6" cy="245.9" r="1.1" class="l2"/><circle cx="358.6" cy="245.2" r="1.1" class="l2"/><circle cx="353.0" cy="245.7" r="1.1" class="l2"/><circle cx="361.1" cy="244.9" r="1.1" class="l2"/><circle cx="350.0" cy="245.1" r="1.1" class="l2"/><circle cx="363.9" cy="244.8" r="1.1" class="l2"/><circle cx="347.4" cy="245.1" r="1.1" class="l2"/><circle cx="366.9" cy="244.7" r="1.1" class="l2"/><circle cx="344.7" cy="244.2" r="1.1" class="l2"/><circle cx="369.5" cy="244.0" r="1.1" class="l2"/><circle cx="341.9" cy="244.1" r="1.1" class="l2"/><circle cx="372.3" cy="243.7" r="1.1" class="l2"/><circle cx="339.2" cy="243.7" r="1.1" class="l2"/><circle cx="374.4" cy="243.4" r="1.1" class="l2"/><circle cx="336.2" cy="243.7" r="1.1" class="l2"/><circle cx="355.0" cy="249.2" r="1.1" class="l2"/><circle cx="357.6" cy="249.2" r="1.1" class="l2"/><circle cx="351.9" cy="249.2" r="1.1" class="l2"/><circle cx="360.5" cy="248.9" r="1.1" class="l2"/><circle cx="349.2" cy="248.7" r="1.1" class="l2"/><circle cx="362.9" cy="248.2" r="1.1" class="l2"/><circle cx="346.5" cy="248.6" r="1.1" class="l2"/><circle cx="365.9" cy="248.0" r="1.1" class="l2"/><circle cx="343.5" cy="247.8" r="1.1" class="l2"/><circle cx="368.6" cy="247.6" r="1.1" class="l2"/><circle cx="341.0" cy="247.5" r="1.1" class="l2"/><circle cx="371.2" cy="247.2" r="1.1" class="l2"/><circle cx="338.1" cy="247.5" r="1.1" class="l2"/><circle cx="374.2" cy="247.1" r="1.1" class="l2"/><circle cx="335.6" cy="246.9" r="1.1" class="l2"/><circle cx="354.6" cy="253.1" r="1.1" class="l2"/><circle cx="357.4" cy="252.8" r="1.1" class="l2"/><circle cx="351.8" cy="252.4" r="1.1" class="l2"/><circle cx="360.2" cy="252.0" r="1.1" class="l2"/><circle cx="349.4" cy="252.3" r="1.1" class="l2"/><circle cx="362.9" cy="251.8" r="1.1" class="l2"/><circle cx="346.5" cy="251.9" r="1.1" class="l2"/><circle cx="365.9" cy="251.6" r="1.1" class="l2"/><circle cx="343.5" cy="251.4" r="1.1" class="l2"/><circle cx="368.7" cy="251.4" r="1.1" class="l2"/><circle cx="340.7" cy="251.1" r="1.1" class="l2"/><circle cx="371.1" cy="251.1" r="1.1" class="l2"/><circle cx="338.3" cy="251.3" r="1.1" class="l2"/><circle cx="374.1" cy="250.5" r="1.1" class="l2"/><circle cx="335.6" cy="250.5" r="1.1" class="l2"/><circle cx="354.4" cy="256.3" r="1.1" class="l2"/><circle cx="357.5" cy="256.0" r="1.1" class="l2"/><circle cx="351.8" cy="255.9" r="1.1" class="l2"/><circle cx="360.1" cy="255.7" r="1.1" class="l2"/><circle cx="348.8" cy="256.0" r="1.1" class="l2"/><circle cx="362.7" cy="255.5" r="1.1" class="l2"/><circle cx="346.4" cy="255.6" r="1.1" class="l2"/><circle cx="365.5" cy="255.1" r="1.1" class="l2"/><circle cx="343.4" cy="255.1" r="1.1" class="l2"/><circle cx="368.6" cy="255.2" r="1.1" class="l2"/><circle cx="340.7" cy="255.1" r="1.1" class="l2"/><circle cx="371.0" cy="254.7" r="1.1" class="l2"/><circle cx="338.2" cy="254.7" r="1.1" class="l2"/><circle cx="373.9" cy="254.1" r="1.1" class="l2"/><circle cx="335.6" cy="254.2" r="1.1" class="l2"/><circle cx="354.8" cy="259.9" r="1.1" class="l2"/><circle cx="357.2" cy="259.4" r="1.1" class="l2"/><circle cx="351.8" cy="259.7" r="1.1" class="l2"/><circle cx="360.1" cy="259.5" r="1.1" class="l2"/><circle cx="349.3" cy="259.6" r="1.1" class="l2"/><circle cx="362.9" cy="259.0" r="1.1" class="l2"/><circle cx="346.3" cy="259.2" r="1.1" class="l2"/><circle cx="365.8" cy="259.1" r="1.1" class="l2"/><circle cx="343.4" cy="259.1" r="1.1" class="l2"/><circle cx="368.5" cy="258.7" r="1.1" class="l2"/><circle cx="340.6" cy="258.7" r="1.1" class="l2"/><circle cx="371.2" cy="258.6" r="1.1" class="l2"/><circle cx="338.2" cy="258.2" r="1.1" class="l2"/><circle cx="374.1" cy="258.2" r="1.1" class="l2"/><circle cx="335.6" cy="258.3" r="1.1" class="l2"/><circle cx="353.8" cy="263.2" r="1.1" class="l2"/><circle cx="356.6" cy="263.0" r="1.1" class="l2"/><circle cx="351.2" cy="263.0" r="1.1" class="l2"/><circle cx="359.3" cy="263.2" r="1.1" class="l2"/><circle cx="348.6" cy="262.7" r="1.1" class="l2"/><circle cx="362.2" cy="262.5" r="1.1" class="l2"/><circle cx="345.6" cy="262.9" r="1.1" class="l2"/><circle cx="364.8" cy="262.7" r="1.1" class="l2"/><circle cx="343.0" cy="262.6" r="1.1" class="l2"/><circle cx="367.9" cy="262.5" r="1.1" class="l2"/><circle cx="340.1" cy="262.2" r="1.1" class="l2"/><circle cx="370.4" cy="262.2" r="1.1" class="l2"/><circle cx="337.1" cy="261.9" r="1.1" class="l2"/><circle cx="373.0" cy="261.6" r="1.1" class="l2"/><circle cx="335.6" cy="262.0" r="1.1" class="l2"/><circle cx="355.2" cy="267.3" r="1.1" class="l2"/><circle cx="358.1" cy="267.2" r="1.1" class="l2"/><circle cx="352.7" cy="267.1" r="1.1" class="l2"/><circle cx="360.9" cy="266.5" r="1.1" class="l2"/><circle cx="349.8" cy="266.7" r="1.1" class="l2"/><circle cx="363.7" cy="266.0" r="1.1" class="l2"/><circle cx="346.8" cy="266.5" r="1.1" class="l2"/><circle cx="366.1" cy="265.8" r="1.1" class="l2"/><circle cx="344.0" cy="266.1" r="1.1" class="l2"/><circle cx="369.0" cy="266.0" r="1.1" class="l2"/><circle cx="341.6" cy="266.1" r="1.1" class="l2"/><circle cx="371.7" cy="265.5" r="1.1" class="l2"/><circle cx="338.7" cy="265.5" r="1.1" class="l2"/><circle cx="374.4" cy="265.5" r="1.1" class="l2"/><circle cx="335.7" cy="265.2" r="1.1" class="l2"/><circle cx="354.6" cy="270.8" r="1.1" class="l2"/><circle cx="357.3" cy="270.4" r="1.1" class="l2"/><circle cx="351.7" cy="270.7" r="1.1" class="l2"/><circle cx="360.1" cy="270.5" r="1.1" class="l2"/><circle cx="348.9" cy="270.4" r="1.1" class="l2"/><circle cx="362.5" cy="269.7" r="1.1" class="l2"/><circle cx="345.9" cy="270.0" r="1.1" class="l2"/><circle cx="365.4" cy="269.7" r="1.1" class="l2"/><circle cx="343.5" cy="269.6" r="1.1" class="l2"/><circle cx="368.3" cy="269.6" r="1.1" class="l2"/><circle cx="340.6" cy="269.3" r="1.1" class="l2"/><circle cx="371.2" cy="269.4" r="1.1" class="l2"/><circle cx="337.6" cy="269.1" r="1.1" class="l2"/><circle cx="373.5" cy="269.0" r="1.1" class="l2"/><circle cx="335.6" cy="268.5" r="1.1" class="l2"/><circle cx="355.5" cy="274.2" r="1.1" class="l2"/><circle cx="358.3" cy="273.9" r="1.1" class="l2"/><circle cx="352.9" cy="273.9" r="1.1" class="l2"/><circle cx="361.3" cy="273.6" r="1.1" class="l2"/><circle cx="350.1" cy="273.6" r="1.1" class="l2"/><circle cx="363.7" cy="273.6" r="1.1" class="l2"/><circle cx="347.3" cy="273.6" r="1.1" class="l2"/><circle cx="366.5" cy="273.3" r="1.1" class="l2"/><circle cx="344.7" cy="273.2" r="1.1" class="l2"/><circle cx="369.3" cy="273.1" r="1.1" class="l2"/><circle cx="341.9" cy="272.9" r="1.1" class="l2"/><circle cx="372.1" cy="272.4" r="1.1" class="l2"/><circle cx="338.9" cy="272.7" r="1.1" class="l2"/><circle cx="374.4" cy="272.1" r="1.1" class="l2"/><circle cx="336.2" cy="272.6" r="1.1" class="l2"/><circle cx="355.3" cy="277.6" r="1.1" class="l2"/><circle cx="358.2" cy="277.4" r="1.1" class="l2"/><circle cx="352.2" cy="277.3" r="1.1" class="l2"/><circle cx="360.7" cy="277.6" r="1.1" class="l2"/><circle cx="349.7" cy="277.4" r="1.1" class="l2"/><circle cx="363.4" cy="276.9" r="1.1" class="l2"/><circle cx="347.0" cy="277.0" r="1.1" class="l2"/><circle cx="366.3" cy="277.1" r="1.1" class="l2"/><circle cx="344.1" cy="276.7" r="1.1" class="l2"/><circle cx="368.8" cy="276.9" r="1.1" class="l2"/><circle cx="341.4" cy="276.6" r="1.1" class="l2"/><circle cx="371.5" cy="276.7" r="1.1" class="l2"/><circle cx="338.6" cy="276.5" r="1.1" class="l2"/><circle cx="374.4" cy="276.2" r="1.1" class="l2"/><circle cx="335.9" cy="276.0" r="1.1" class="l2"/><circle cx="354.7" cy="281.9" r="1.1" class="l2"/><circle cx="357.4" cy="281.7" r="1.1" class="l2"/><circle cx="351.7" cy="281.4" r="1.1" class="l2"/><circle cx="360.2" cy="281.2" r="1.1" class="l2"/><circle cx="349.2" cy="281.1" r="1.1" class="l2"/><circle cx="362.8" cy="280.6" r="1.1" class="l2"/><circle cx="346.0" cy="280.6" r="1.1" class="l2"/><circle cx="365.3" cy="280.3" r="1.1" class="l2"/><circle cx="343.5" cy="280.5" r="1.1" class="l2"/><circle cx="368.5" cy="280.0" r="1.1" class="l2"/><circle cx="340.8" cy="280.1" r="1.1" class="l2"/><circle cx="371.0" cy="279.4" r="1.1" class="l2"/><circle cx="337.7" cy="279.4" r="1.1" class="l2"/><circle cx="373.7" cy="279.5" r="1.1" class="l2"/><circle cx="335.6" cy="279.4" r="1.1" class="l2"/><circle cx="354.7" cy="285.3" r="1.1" class="l1"/><circle cx="357.3" cy="285.1" r="1.1" class="l1"/><circle cx="352.1" cy="284.7" r="1.1" class="l1"/><circle cx="359.4" cy="285.0" r="1.1" class="l1"/><circle cx="349.8" cy="284.9" r="1.1" class="l1"/><circle cx="361.7" cy="284.3" r="1.1" class="l1"/><circle cx="347.5" cy="284.4" r="1.1" class="l1"/><circle cx="364.1" cy="283.9" r="1.1" class="l1"/><circle cx="345.2" cy="284.1" r="1.1" class="l1"/><circle cx="366.7" cy="284.1" r="1.1" class="l1"/><circle cx="342.6" cy="283.9" r="1.1" class="l1"/><circle cx="369.1" cy="283.8" r="1.1" class="l1"/><circle cx="340.2" cy="283.6" r="1.1" class="l1"/><circle cx="371.6" cy="283.3" r="1.1" class="l1"/><circle cx="337.8" cy="283.6" r="1.1" class="l1"/><circle cx="374.0" cy="282.9" r="1.1" class="l1"/><circle cx="335.6" cy="283.3" r="1.1" class="l1"/><circle cx="355.2" cy="289.0" r="1.1" class="l1"/><circle cx="357.7" cy="288.9" r="1.1" class="l1"/><circle cx="352.7" cy="289.0" r="1.1" class="l1"/><circle cx="360.2" cy="288.4" r="1.1" class="l1"/><circle cx="350.4" cy="288.7" r="1.1" class="l1"/><circle cx="362.3" cy="288.4" r="1.1" class="l1"/><circle cx="347.9" cy="288.3" r="1.1" class="l1"/><circle cx="364.8" cy="288.0" r="1.1" class="l1"/><circle cx="345.4" cy="287.7" r="1.1" class="l1"/><circle cx="367.4" cy="287.7" r="1.1" class="l1"/><circle cx="343.1" cy="287.9" r="1.1" class="l1"/><circle cx="369.9" cy="287.1" r="1.1" class="l1"/><circle cx="340.8" cy="287.2" r="1.1" class="l1"/><circle cx="372.1" cy="287.0" r="1.1" class="l1"/><circle cx="338.2" cy="286.7" r="1.1" class="l1"/><circle cx="374.4" cy="286.9" r="1.1" class="l1"/><circle cx="336.0" cy="287.0" r="1.1" class="l1"/><circle cx="355.2" cy="292.7" r="1.1" class="l1"/><circle cx="358.0" cy="292.0" r="1.1" class="l1"/><circle cx="352.6" cy="292.1" r="1.1" class="l1"/><circle cx="360.7" cy="292.2" r="1.1" class="l1"/><circle cx="349.9" cy="292.0" r="1.1" class="l1"/><circle cx="363.6" cy="291.6" r="1.1" class="l1"/><circle cx="347.2" cy="291.7" r="1.1" class="l1"/><circle cx="366.4" cy="291.6" r="1.1" class="l1"/><circle cx="344.2" cy="291.2" r="1.1" class="l1"/><circle cx="369.1" cy="291.4" r="1.1" class="l1"/><circle cx="341.6" cy="291.2" r="1.1" class="l1"/><circle cx="372.0" cy="290.7" r="1.1" class="l1"/><circle cx="338.6" cy="291.1" r="1.1" class="l1"/><circle cx="374.4" cy="290.7" r="1.1" class="l1"/><circle cx="336.0" cy="290.6" r="1.1" class="l1"/><circle cx="354.6" cy="296.5" r="1.1" class="l1"/><circle cx="357.0" cy="296.2" r="1.1" class="l1"/><circle cx="351.8" cy="296.2" r="1.1" class="l1"/><circle cx="360.1" cy="296.0" r="1.1" class="l1"/><circle cx="348.9" cy="295.9" r="1.1" class="l1"/><circle cx="362.8" cy="295.3" r="1.1" class="l1"/><circle cx="346.1" cy="295.6" r="1.1" class="l1"/><circle cx="365.6" cy="295.0" r="1.1" class="l1"/><circle cx="343.2" cy="295.1" r="1.1" class="l1"/><circle cx="368.3" cy="295.1" r="1.1" class="l1"/><circle cx="340.7" cy="294.9" r="1.1" class="l1"/><circle cx="370.9" cy="294.5" r="1.1" class="l1"/><circle cx="338.0" cy="294.7" r="1.1" class="l1"/><circle cx="373.7" cy="294.1" r="1.1" class="l1"/><circle cx="335.6" cy="294.0" r="1.1" class="l1"/><circle cx="355.7" cy="300.0" r="1.1" class="l1"/><circle cx="358.4" cy="299.5" r="1.1" class="l1"/><circle cx="352.9" cy="300.0" r="1.1" class="l1"/><circle cx="361.4" cy="299.3" r="1.1" class="l1"/><circle cx="350.3" cy="299.5" r="1.1" class="l1"/><circle cx="364.3" cy="299.2" r="1.1" class="l1"/><circle cx="347.4" cy="299.4" r="1.1" class="l1"/><circle cx="366.8" cy="298.7" r="1.1" class="l1"/><circle cx="344.7" cy="298.7" r="1.1" class="l1"/><circle cx="369.9" cy="298.3" r="1.1" class="l1"/><circle cx="342.2" cy="298.4" r="1.1" class="l1"/><circle cx="372.7" cy="298.5" r="1.1" class="l1"/><circle cx="339.4" cy="298.0" r="1.1" class="l1"/><circle cx="374.4" cy="298.2" r="1.1" class="l1"/><circle cx="336.5" cy="298.0" r="1.1" class="l1"/><circle cx="354.4" cy="304.4" r="1.1" class="l1"/><circle cx="357.5" cy="303.5" r="1.1" class="l1"/><circle cx="351.7" cy="303.6" r="1.1" class="l1"/><circle cx="360.3" cy="303.3" r="1.1" class="l1"/><circle cx="349.1" cy="303.0" r="1.1" class="l1"/><circle cx="363.2" cy="302.8" r="1.1" class="l1"/><circle cx="346.1" cy="302.5" r="1.1" class="l1"/><circle cx="366.0" cy="302.1" r="1.1" class="l1"/><circle cx="343.1" cy="302.3" r="1.1" class="l1"/><circle cx="368.7" cy="301.9" r="1.1" class="l1"/><circle cx="340.4" cy="301.6" r="1.1" class="l1"/><circle cx="371.6" cy="300.8" r="1.1" class="l1"/><circle cx="337.7" cy="300.9" r="1.1" class="l1"/><circle cx="355.1" cy="307.9" r="1.1" class="l1"/><circle cx="358.1" cy="307.5" r="1.1" class="l1"/><circle cx="352.3" cy="307.4" r="1.1" class="l1"/><circle cx="360.7" cy="306.8" r="1.1" class="l1"/><circle cx="349.4" cy="306.5" r="1.1" class="l1"/><circle cx="363.7" cy="306.4" r="1.1" class="l1"/><circle cx="346.4" cy="306.3" r="1.1" class="l1"/><circle cx="366.5" cy="306.1" r="1.1" class="l1"/><circle cx="343.7" cy="305.6" r="1.1" class="l1"/><circle cx="369.2" cy="305.5" r="1.1" class="l1"/><circle cx="340.6" cy="305.6" r="1.1" class="l1"/><circle cx="353.5" cy="313.0" r="1.1" class="l0"/><circle cx="357.5" cy="313.0" r="1.1" class="l0"/><circle cx="417.2" cy="201.5" r="1.1" class="l3"/><circle cx="419.5" cy="201.0" r="1.1" class="l3"/><circle cx="414.4" cy="201.1" r="1.1" class="l3"/><circle cx="422.8" cy="201.1" r="1.1" class="l3"/><circle cx="411.6" cy="201.4" r="1.1" class="l3"/><circle cx="425.2" cy="200.9" r="1.1" class="l3"/><circle cx="408.7" cy="200.8" r="1.1" class="l3"/><circle cx="428.0" cy="201.1" r="1.1" class="l3"/><circle cx="406.0" cy="200.8" r="1.1" class="l3"/><circle cx="430.9" cy="201.1" r="1.1" class="l3"/><circle cx="403.1" cy="200.7" r="1.1" class="l3"/><circle cx="433.7" cy="200.7" r="1.1" class="l3"/><circle cx="400.4" cy="200.8" r="1.1" class="l3"/><circle cx="436.2" cy="201.0" r="1.1" class="l3"/><circle cx="398.3" cy="200.7" r="1.1" class="l3"/><circle cx="417.5" cy="205.7" r="1.1" class="l2"/><circle cx="420.3" cy="205.0" r="1.1" class="l2"/><circle cx="415.5" cy="205.0" r="1.1" class="l2"/><circle cx="422.8" cy="205.0" r="1.1" class="l2"/><circle cx="412.9" cy="205.2" r="1.1" class="l2"/><circle cx="425.0" cy="204.7" r="1.1" class="l2"/><circle cx="410.5" cy="204.9" r="1.1" class="l2"/><circle cx="427.7" cy="204.6" r="1.1" class="l2"/><circle cx="408.1" cy="204.6" r="1.1" class="l2"/><circle cx="429.9" cy="204.4" r="1.1" class="l2"/><circle cx="405.6" cy="204.3" r="1.1" class="l2"/><circle cx="432.5" cy="204.2" r="1.1" class="l2"/><circle cx="403.3" cy="204.0" r="1.1" class="l2"/><circle cx="434.7" cy="203.5" r="1.1" class="l2"/><circle cx="400.7" cy="204.0" r="1.1" class="l2"/><circle cx="437.0" cy="203.6" r="1.1" class="l2"/><circle cx="398.3" cy="203.6" r="1.1" class="l2"/><circle cx="418.0" cy="209.0" r="1.1" class="l2"/><circle cx="420.4" cy="208.6" r="1.1" class="l2"/><circle cx="415.7" cy="208.5" r="1.1" class="l2"/><circle cx="423.0" cy="208.6" r="1.1" class="l2"/><circle cx="412.9" cy="208.6" r="1.1" class="l2"/><circle cx="425.2" cy="208.5" r="1.1" class="l2"/><circle cx="410.8" cy="208.2" r="1.1" class="l2"/><circle cx="427.7" cy="208.3" r="1.1" class="l2"/><circle cx="408.5" cy="207.9" r="1.1" class="l2"/><circle cx="430.0" cy="208.1" r="1.1" class="l2"/><circle cx="406.1" cy="208.1" r="1.1" class="l2"/><circle cx="432.3" cy="207.6" r="1.1" class="l2"/><circle cx="403.4" cy="207.5" r="1.1" class="l2"/><circle cx="434.7" cy="207.2" r="1.1" class="l2"/><circle cx="400.7" cy="207.6" r="1.1" class="l2"/><circle cx="437.1" cy="207.3" r="1.1" class="l2"/><circle cx="398.4" cy="207.4" r="1.1" class="l2"/><circle cx="417.0" cy="212.3" r="1.1" class="l2"/><circle cx="419.7" cy="212.3" r="1.1" class="l2"/><circle cx="414.1" cy="212.4" r="1.1" class="l2"/><circle cx="422.4" cy="212.1" r="1.1" class="l2"/><circle cx="411.6" cy="211.8" r="1.1" class="l2"/><circle cx="425.4" cy="211.6" r="1.1" class="l2"/><circle cx="408.6" cy="212.0" r="1.1" class="l2"/><circle cx="427.9" cy="211.6" r="1.1" class="l2"/><circle cx="406.0" cy="211.4" r="1.1" class="l2"/><circle cx="430.8" cy="211.3" r="1.1" class="l2"/><circle cx="403.0" cy="211.3" r="1.1" class="l2"/><circle cx="433.7" cy="210.9" r="1.1" class="l2"/><circle cx="400.2" cy="211.1" r="1.1" class="l2"/><circle cx="436.1" cy="211.1" r="1.1" class="l2"/><circle cx="398.3" cy="210.7" r="1.1" class="l2"/><circle cx="416.6" cy="216.5" r="1.1" class="l2"/><circle cx="419.2" cy="215.9" r="1.1" class="l2"/><circle cx="414.0" cy="216.0" r="1.1" class="l2"/><circle cx="422.1" cy="215.6" r="1.1" class="l2"/><circle cx="411.0" cy="215.8" r="1.1" class="l2"/><circle cx="425.2" cy="215.6" r="1.1" class="l2"/><circle cx="408.2" cy="215.4" r="1.1" class="l2"/><circle cx="427.6" cy="215.2" r="1.1" class="l2"/><circle cx="405.8" cy="214.9" r="1.1" class="l2"/><circle cx="430.4" cy="214.9" r="1.1" class="l2"/><circle cx="403.0" cy="214.7" r="1.1" class="l2"/><circle cx="433.2" cy="214.8" r="1.1" class="l2"/><circle cx="400.0" cy="214.6" r="1.1" class="l2"/><circle cx="436.1" cy="214.3" r="1.1" class="l2"/><circle cx="398.4" cy="214.2" r="1.1" class="l2"/><circle cx="418.4" cy="219.9" r="1.1" class="l2"/><circle cx="421.4" cy="219.6" r="1.1" class="l2"/><circle cx="416.0" cy="219.8" r="1.1" class="l2"/><circle cx="424.3" cy="219.4" r="1.1" class="l2"/><circle cx="412.8" cy="219.3" r="1.1" class="l2"/><circle cx="426.9" cy="219.0" r="1.1" class="l2"/><circle cx="410.2" cy="219.2" r="1.1" class="l2"/><circle cx="429.7" cy="218.5" r="1.1" class="l2"/><circle cx="407.7" cy="218.6" r="1.1" class="l2"/><circle cx="432.2" cy="218.5" r="1.1" class="l2"/><circle cx="404.9" cy="218.5" r="1.1" class="l2"/><circle cx="435.4" cy="218.0" r="1.1" class="l2"/><circle cx="401.9" cy="217.9" r="1.1" class="l2"/><circle cx="437.0" cy="217.9" r="1.1" class="l2"/><circle cx="399.5" cy="217.9" r="1.1" class="l2"/><circle cx="418.0" cy="223.6" r="1.1" class="l2"/><circle cx="420.9" cy="223.4" r="1.1" class="l2"/><circle cx="415.5" cy="223.3" r="1.1" class="l2"/><circle cx="423.5" cy="222.7" r="1.1" class="l2"/><circle cx="412.9" cy="223.2" r="1.1" class="l2"/><circle cx="426.3" cy="222.4" r="1.1" class="l2"/><circle cx="410.1" cy="222.6" r="1.1" class="l2"/><circle cx="429.5" cy="222.2" r="1.1" class="l2"/><circle cx="407.4" cy="222.1" r="1.1" class="l2"/><circle cx="432.0" cy="221.7" r="1.1" class="l2"/><circle cx="404.6" cy="222.3" r="1.1" class="l2"/><circle cx="434.7" cy="221.9" r="1.1" class="l2"/><circle cx="401.9" cy="222.0" r="1.1" class="l2"/><circle cx="436.9" cy="221.2" r="1.1" class="l2"/><circle cx="398.8" cy="221.6" r="1.1" class="l2"/><circle cx="416.8" cy="227.6" r="1.1" class="l2"/><circle cx="419.6" cy="226.8" r="1.1" class="l2"/><circle cx="413.8" cy="226.9" r="1.1" class="l2"/><circle cx="422.3" cy="226.9" r="1.1" class="l2"/><circle cx="411.0" cy="226.7" r="1.1" class="l2"/><circle cx="424.7" cy="226.0" r="1.1" class="l2"/><circle cx="408.2" cy="226.1" r="1.1" class="l2"/><circle cx="427.5" cy="226.0" r="1.1" class="l2"/><circle cx="405.8" cy="225.8" r="1.1" class="l2"/><circle cx="430.1" cy="225.5" r="1.1" class="l2"/><circle cx="402.9" cy="225.3" r="1.1" class="l2"/><circle cx="433.1" cy="225.0" r="1.1" class="l2"/><circle cx="400.1" cy="225.0" r="1.1" class="l2"/><circle cx="435.9" cy="225.0" r="1.1" class="l2"/><circle cx="398.4" cy="224.7" r="1.1" class="l2"/><circle cx="417.4" cy="230.7" r="1.1" class="l2"/><circle cx="420.3" cy="230.6" r="1.1" class="l2"/><circle cx="414.6" cy="230.5" r="1.1" class="l2"/><circle cx="423.1" cy="230.5" r="1.1" class="l2"/><circle cx="411.8" cy="230.3" r="1.1" class="l2"/><circle cx="425.7" cy="230.0" r="1.1" class="l2"/><circle cx="409.2" cy="230.0" r="1.1" class="l2"/><circle cx="428.4" cy="229.5" r="1.1" class="l2"/><circle cx="406.2" cy="229.4" r="1.1" class="l2"/><circle cx="431.1" cy="228.9" r="1.1" class="l2"/><circle cx="403.5" cy="229.0" r="1.1" class="l2"/><circle cx="433.8" cy="228.7" r="1.1" class="l2"/><circle cx="401.1" cy="228.8" r="1.1" class="l2"/><circle cx="436.6" cy="228.5" r="1.1" class="l2"/><circle cx="398.4" cy="228.4" r="1.1" class="l2"/><circle cx="417.3" cy="234.6" r="1.1" class="l2"/><circle cx="420.1" cy="234.2" r="1.1" class="l2"/><circle cx="414.6" cy="234.3" r="1.1" class="l2"/><circle cx="422.7" cy="233.6" r="1.1" class="l2"/><circle cx="411.8" cy="234.1" r="1.1" class="l2"/><circle cx="425.9" cy="233.3" r="1.1" class="l2"/><circle cx="409.2" cy="233.2" r="1.1" class="l2"/><circle cx="428.5" cy="233.1" r="1.1" class="l2"/><circle cx="406.7" cy="233.3" r="1.1" class="l2"/><circle cx="431.0" cy="232.7" r="1.1" class="l2"/><circle cx="403.5" cy="232.6" r="1.1" class="l2"/><circle cx="434.0" cy="232.3" r="1.1" class="l2"/><circle cx="400.8" cy="232.7" r="1.1" class="l2"/><circle cx="436.8" cy="232.0" r="1.1" class="l2"/><circle cx="398.4" cy="232.2" r="1.1" class="l2"/><circle cx="418.0" cy="238.2" r="1.1" class="l2"/><circle cx="420.8" cy="237.7" r="1.1" class="l2"/><circle cx="415.2" cy="237.6" r="1.1" class="l2"/><circle cx="423.5" cy="237.4" r="1.1" class="l2"/><circle cx="412.4" cy="237.6" r="1.1" class="l2"/><circle cx="426.4" cy="237.0" r="1.1" class="l2"/><circle cx="409.8" cy="237.2" r="1.1" class="l2"/><circle cx="428.8" cy="236.6" r="1.1" class="l2"/><circle cx="407.0" cy="236.7" r="1.1" class="l2"/><circle cx="431.5" cy="236.4" r="1.1" class="l2"/><circle cx="404.3" cy="236.5" r="1.1" class="l2"/><circle cx="434.5" cy="235.9" r="1.1" class="l2"/><circle cx="401.4" cy="236.3" r="1.1" class="l2"/><circle cx="436.8" cy="235.7" r="1.1" class="l2"/><circle cx="398.9" cy="235.9" r="1.1" class="l2"/><circle cx="417.0" cy="241.8" r="1.1" class="l2"/><circle cx="419.7" cy="241.6" r="1.1" class="l2"/><circle cx="414.1" cy="241.0" r="1.1" class="l2"/><circle cx="422.6" cy="241.2" r="1.1" class="l2"/><circle cx="411.4" cy="240.7" r="1.1" class="l2"/><circle cx="425.2" cy="240.6" r="1.1" class="l2"/><circle cx="409.0" cy="240.4" r="1.1" class="l2"/><circle cx="427.8" cy="240.4" r="1.1" class="l2"/><circle cx="406.1" cy="240.1" r="1.1" class="l2"/><circle cx="430.8" cy="240.3" r="1.1" class="l2"/><circle cx="403.5" cy="240.2" r="1.1" class="l2"/><circle cx="433.2" cy="239.8" r="1.1" class="l2"/><circle cx="400.6" cy="239.6" r="1.1" class="l2"/><circle cx="436.0" cy="239.3" r="1.1" class="l2"/><circle cx="398.5" cy="239.1" r="1.1" class="l2"/><circle cx="418.9" cy="245.6" r="1.1" class="l2"/><circle cx="421.8" cy="245.1" r="1.1" class="l2"/><circle cx="416.4" cy="245.0" r="1.1" class="l2"/><circle cx="424.2" cy="244.8" r="1.1" class="l2"/><circle cx="413.5" cy="244.6" r="1.1" class="l2"/><circle cx="427.0" cy="244.1" r="1.1" class="l2"/><circle cx="410.5" cy="244.1" r="1.1" class="l2"/><circle cx="430.1" cy="244.2" r="1.1" class="l2"/><circle cx="408.0" cy="244.1" r="1.1" class="l2"/><circle cx="432.6" cy="243.7" r="1.1" class="l2"/><circle cx="405.2" cy="243.5" r="1.1" class="l2"/><circle cx="435.2" cy="243.0" r="1.1" class="l2"/><circle cx="402.4" cy="243.1" r="1.1" class="l2"/><circle cx="436.7" cy="242.9" r="1.1" class="l2"/><circle cx="400.0" cy="242.6" r="1.1" class="l2"/><circle cx="417.6" cy="248.7" r="1.1" class="l2"/><circle cx="420.7" cy="248.6" r="1.1" class="l2"/><circle cx="415.2" cy="248.4" r="1.1" class="l2"/><circle cx="423.3" cy="248.3" r="1.1" class="l2"/><circle cx="412.6" cy="248.3" r="1.1" class="l2"/><circle cx="426.2" cy="247.6" r="1.1" class="l2"/><circle cx="409.7" cy="247.8" r="1.1" class="l2"/><circle cx="428.5" cy="247.7" r="1.1" class="l2"/><circle cx="406.7" cy="247.6" r="1.1" class="l2"/><circle cx="431.4" cy="247.4" r="1.1" class="l2"/><circle cx="404.0" cy="247.2" r="1.1" class="l2"/><circle cx="434.2" cy="247.1" r="1.1" class="l2"/><circle cx="401.5" cy="246.8" r="1.1" class="l2"/><circle cx="436.7" cy="246.5" r="1.1" class="l2"/><circle cx="398.8" cy="246.7" r="1.1" class="l2"/><circle cx="417.9" cy="252.7" r="1.1" class="l2"/><circle cx="420.5" cy="252.1" r="1.1" class="l2"/><circle cx="415.2" cy="252.4" r="1.1" class="l2"/><circle cx="423.2" cy="251.8" r="1.1" class="l2"/><circle cx="412.7" cy="251.8" r="1.1" class="l2"/><circle cx="426.3" cy="251.3" r="1.1" class="l2"/><circle cx="409.9" cy="251.6" r="1.1" class="l2"/><circle cx="428.8" cy="251.2" r="1.1" class="l2"/><circle cx="407.1" cy="251.2" r="1.1" class="l2"/><circle cx="431.6" cy="251.0" r="1.1" class="l2"/><circle cx="404.6" cy="250.7" r="1.1" class="l2"/><circle cx="434.3" cy="250.5" r="1.1" class="l2"/><circle cx="401.5" cy="250.5" r="1.1" class="l2"/><circle cx="436.7" cy="249.8" r="1.1" class="l2"/><circle cx="399.1" cy="250.0" r="1.1" class="l2"/><circle cx="417.4" cy="256.2" r="1.1" class="l2"/><circle cx="419.9" cy="255.6" r="1.1" class="l2"/><circle cx="414.4" cy="255.4" r="1.1" class="l2"/><circle cx="422.8" cy="255.3" r="1.1" class="l2"/><circle cx="411.8" cy="255.1" r="1.1" class="l2"/><circle cx="425.5" cy="254.8" r="1.1" class="l2"/><circle cx="409.2" cy="254.9" r="1.1" class="l2"/><circle cx="428.1" cy="254.9" r="1.1" class="l2"/><circle cx="406.2" cy="254.7" r="1.1" class="l2"/><circle cx="430.9" cy="254.3" r="1.1" class="l2"/><circle cx="403.5" cy="254.7" r="1.1" class="l2"/><circle cx="433.8" cy="254.5" r="1.1" class="l2"/><circle cx="401.0" cy="254.1" r="1.1" class="l2"/><circle cx="436.2" cy="254.0" r="1.1" class="l2"/><circle cx="398.5" cy="253.8" r="1.1" class="l2"/><circle cx="416.2" cy="259.7" r="1.1" class="l2"/><circle cx="418.9" cy="259.2" r="1.1" class="l2"/><circle cx="413.7" cy="259.1" r="1.1" class="l2"/><circle cx="421.6" cy="259.2" r="1.1" class="l2"/><circle cx="410.8" cy="259.0" r="1.1" class="l2"/><circle cx="424.5" cy="258.4" r="1.1" class="l2"/><circle cx="408.3" cy="258.7" r="1.1" class="l2"/><circle cx="427.3" cy="258.6" r="1.1" class="l2"/><circle cx="405.2" cy="258.2" r="1.1" class="l2"/><circle cx="429.6" cy="258.2" r="1.1" class="l2"/><circle cx="402.5" cy="258.2" r="1.1" class="l2"/><circle cx="432.3" cy="257.9" r="1.1" class="l2"/><circle cx="400.1" cy="257.5" r="1.1" class="l2"/><circle cx="435.2" cy="257.4" r="1.1" class="l2"/><circle cx="398.5" cy="257.7" r="1.1" class="l2"/><circle cx="418.7" cy="263.6" r="1.1" class="l2"/><circle cx="421.6" cy="263.2" r="1.1" class="l2"/><circle cx="416.0" cy="262.7" r="1.1" class="l2"/><circle cx="424.2" cy="262.8" r="1.1" class="l2"/><circle cx="413.5" cy="262.9" r="1.1" class="l2"/><circle cx="427.2" cy="262.5" r="1.1" class="l2"/><circle cx="410.9" cy="262.2" r="1.1" class="l2"/><circle cx="429.8" cy="261.6" r="1.1" class="l2"/><circle cx="407.9" cy="261.7" r="1.1" class="l2"/><circle cx="432.1" cy="261.5" r="1.1" class="l2"/><circle cx="405.4" cy="261.6" r="1.1" class="l2"/><circle cx="434.9" cy="261.0" r="1.1" class="l2"/><circle cx="402.5" cy="261.4" r="1.1" class="l2"/><circle cx="436.5" cy="260.5" r="1.1" class="l2"/><circle cx="399.7" cy="261.1" r="1.1" class="l2"/><circle cx="416.5" cy="266.4" r="1.1" class="l2"/><circle cx="419.0" cy="266.4" r="1.1" class="l2"/><circle cx="413.6" cy="266.3" r="1.1" class="l2"/><circle cx="421.6" cy="266.1" r="1.1" class="l2"/><circle cx="410.8" cy="266.1" r="1.1" class="l2"/><circle cx="424.4" cy="266.1" r="1.1" class="l2"/><circle cx="408.1" cy="265.8" r="1.1" class="l2"/><circle cx="427.1" cy="265.5" r="1.1" class="l2"/><circle cx="405.7" cy="265.7" r="1.1" class="l2"/><circle cx="430.2" cy="265.6" r="1.1" class="l2"/><circle cx="402.9" cy="265.3" r="1.1" class="l2"/><circle cx="432.6" cy="265.0" r="1.1" class="l2"/><circle cx="400.4" cy="265.1" r="1.1" class="l2"/><circle cx="435.5" cy="264.6" r="1.1" class="l2"/><circle cx="398.6" cy="264.8" r="1.1" class="l2"/><circle cx="417.2" cy="270.4" r="1.1" class="l2"/><circle cx="420.2" cy="270.1" r="1.1" class="l2"/><circle cx="414.8" cy="270.2" r="1.1" class="l2"/><circle cx="422.6" cy="269.9" r="1.1" class="l2"/><circle cx="411.9" cy="269.7" r="1.1" class="l2"/><circle cx="425.6" cy="269.2" r="1.1" class="l2"/><circle cx="409.3" cy="269.2" r="1.1" class="l2"/><circle cx="428.0" cy="269.0" r="1.1" class="l2"/><circle cx="406.6" cy="269.4" r="1.1" class="l2"/><circle cx="430.9" cy="269.0" r="1.1" class="l2"/><circle cx="404.0" cy="268.9" r="1.1" class="l2"/><circle cx="433.5" cy="268.3" r="1.1" class="l2"/><circle cx="401.2" cy="268.4" r="1.1" class="l2"/><circle cx="436.5" cy="268.2" r="1.1" class="l2"/><circle cx="398.6" cy="268.1" r="1.1" class="l2"/><circle cx="418.4" cy="274.0" r="1.1" class="l2"/><circle cx="421.2" cy="273.4" r="1.1" class="l2"/><circle cx="415.5" cy="273.5" r="1.1" class="l2"/><circle cx="423.9" cy="273.5" r="1.1" class="l2"/><circle cx="412.9" cy="273.1" r="1.1" class="l2"/><circle cx="426.4" cy="273.1" r="1.1" class="l2"/><circle cx="410.3" cy="272.9" r="1.1" class="l2"/><circle cx="429.0" cy="273.0" r="1.1" class="l2"/><circle cx="407.6" cy="272.6" r="1.1" class="l2"/><circle cx="432.1" cy="272.8" r="1.1" class="l2"/><circle cx="404.9" cy="272.2" r="1.1" class="l2"/><circle cx="434.5" cy="272.0" r="1.1" class="l2"/><circle cx="402.2" cy="272.0" r="1.1" class="l2"/><circle cx="436.4" cy="272.3" r="1.1" class="l2"/><circle cx="399.7" cy="271.9" r="1.1" class="l2"/><circle cx="418.7" cy="277.5" r="1.1" class="l2"/><circle cx="421.2" cy="277.3" r="1.1" class="l2"/><circle cx="416.1" cy="277.1" r="1.1" class="l2"/><circle cx="423.9" cy="276.7" r="1.1" class="l2"/><circle cx="413.3" cy="277.1" r="1.1" class="l2"/><circle cx="426.5" cy="276.6" r="1.1" class="l2"/><circle cx="410.5" cy="276.8" r="1.1" class="l2"/><circle cx="429.3" cy="276.2" r="1.1" class="l2"/><circle cx="408.0" cy="276.2" r="1.1" class="l2"/><circle cx="432.3" cy="276.3" r="1.1" class="l2"/><circle cx="404.9" cy="276.2" r="1.1" class="l2"/><circle cx="435.0" cy="275.8" r="1.1" class="l2"/><circle cx="402.3" cy="275.6" r="1.1" class="l2"/><circle cx="436.4" cy="275.4" r="1.1" class="l2"/><circle cx="399.8" cy="275.5" r="1.1" class="l2"/><circle cx="416.3" cy="281.0" r="1.1" class="l2"/><circle cx="419.2" cy="280.6" r="1.1" class="l2"/><circle cx="413.7" cy="280.7" r="1.1" class="l2"/><circle cx="422.1" cy="280.3" r="1.1" class="l2"/><circle cx="411.2" cy="280.4" r="1.1" class="l2"/><circle cx="424.6" cy="280.4" r="1.1" class="l2"/><circle cx="408.3" cy="280.3" r="1.1" class="l2"/><circle cx="427.4" cy="280.1" r="1.1" class="l2"/><circle cx="405.8" cy="279.7" r="1.1" class="l2"/><circle cx="430.0" cy="279.4" r="1.1" class="l2"/><circle cx="403.0" cy="279.4" r="1.1" class="l2"/><circle cx="432.8" cy="279.4" r="1.1" class="l2"/><circle cx="400.1" cy="279.2" r="1.1" class="l2"/><circle cx="435.6" cy="279.0" r="1.1" class="l2"/><circle cx="398.6" cy="279.0" r="1.1" class="l2"/><circle cx="416.6" cy="264.8" r="1.1" class="l3"/><circle cx="419.5" cy="264.9" r="1.1" class="l3"/><circle cx="413.6" cy="264.9" r="1.1" class="l3"/><circle cx="422.3" cy="265.0" r="1.1" class="l3"/><circle cx="411.2" cy="265.0" r="1.1" class="l3"/><circle cx="425.1" cy="264.8" r="1.1" class="l3"/><circle cx="408.4" cy="264.9" r="1.1" class="l3"/><circle cx="427.4" cy="264.4" r="1.1" class="l3"/><circle cx="405.7" cy="264.8" r="1.1" class="l3"/><circle cx="430.3" cy="264.5" r="1.1" class="l3"/><circle cx="403.0" cy="264.6" r="1.1" class="l3"/><circle cx="433.0" cy="264.7" r="1.1" class="l3"/><circle cx="399.9" cy="264.4" r="1.1" class="l3"/><circle cx="435.8" cy="264.6" r="1.1" class="l3"/><circle cx="398.3" cy="264.7" r="1.1" class="l3"/><circle cx="418.7" cy="286.5" r="1.1" class="l3"/><circle cx="421.6" cy="286.5" r="1.1" class="l3"/><circle cx="416.1" cy="286.3" r="1.1" class="l3"/><circle cx="424.1" cy="286.5" r="1.1" class="l3"/><circle cx="413.0" cy="286.6" r="1.1" class="l3"/><circle cx="427.0" cy="286.3" r="1.1" class="l3"/><circle cx="410.2" cy="286.6" r="1.1" class="l3"/><circle cx="429.8" cy="286.5" r="1.1" class="l3"/><circle cx="407.5" cy="286.5" r="1.1" class="l3"/><circle cx="432.6" cy="286.3" r="1.1" class="l3"/><circle cx="404.9" cy="286.4" r="1.1" class="l3"/><circle cx="435.3" cy="286.4" r="1.1" class="l3"/><circle cx="401.9" cy="286.2" r="1.1" class="l3"/><circle cx="437.4" cy="286.1" r="1.1" class="l3"/><circle cx="399.0" cy="286.4" r="1.1" class="l3"/><circle cx="417.9" cy="291.4" r="1.1" class="l1"/><circle cx="420.8" cy="290.8" r="1.1" class="l1"/><circle cx="415.1" cy="291.0" r="1.1" class="l1"/><circle cx="424.1" cy="290.5" r="1.1" class="l1"/><circle cx="412.2" cy="290.0" r="1.1" class="l1"/><circle cx="426.8" cy="289.7" r="1.1" class="l1"/><circle cx="409.2" cy="290.0" r="1.1" class="l1"/><circle cx="429.7" cy="289.3" r="1.1" class="l1"/><circle cx="405.9" cy="289.4" r="1.1" class="l1"/><circle cx="432.7" cy="288.8" r="1.1" class="l1"/><circle cx="403.3" cy="288.7" r="1.1" class="l1"/><circle cx="435.4" cy="288.3" r="1.1" class="l1"/><circle cx="400.3" cy="288.3" r="1.1" class="l1"/><circle cx="418.0" cy="295.8" r="1.1" class="l3"/><circle cx="420.9" cy="296.1" r="1.1" class="l3"/><circle cx="415.5" cy="296.0" r="1.1" class="l3"/><circle cx="423.4" cy="296.1" r="1.1" class="l3"/><circle cx="413.4" cy="295.5" r="1.1" class="l3"/><circle cx="425.7" cy="295.9" r="1.1" class="l3"/><circle cx="410.6" cy="296.0" r="1.1" class="l3"/><circle cx="428.2" cy="295.7" r="1.1" class="l3"/><circle cx="408.2" cy="295.5" r="1.1" class="l3"/><circle cx="430.8" cy="295.3" r="1.1" class="l3"/><circle cx="405.5" cy="295.3" r="1.1" class="l3"/><circle cx="433.7" cy="295.3" r="1.1" class="l3"/><circle cx="403.1" cy="295.5" r="1.1" class="l3"/><circle cx="435.4" cy="295.7" r="1.1" class="l3"/><circle cx="400.3" cy="295.3" r="1.1" class="l3"/><circle cx="408.0" cy="299.5" r="1.1" class="l0"/><circle cx="428.0" cy="299.5" r="1.1" class="l0"/><circle cx="413.0" cy="302.5" r="1.1" class="l0"/><circle cx="417.0" cy="302.5" r="1.1" class="l0"/><circle cx="421.0" cy="302.5" r="1.1" class="l0"/><circle cx="424.5" cy="302.5" r="1.1" class="l0"/><circle cx="402.0" cy="304.5" r="1.1" class="l0"/><circle cx="407.0" cy="306.5" r="1.1" class="l0"/><circle cx="411.0" cy="306.8" r="1.1" class="l0"/><circle cx="415.0" cy="306.5" r="1.1" class="l0"/><circle cx="427.0" cy="306.5" r="1.1" class="l0"/><circle cx="431.0" cy="306.5" r="1.1" class="l0"/><circle cx="435.0" cy="306.5" r="1.1" class="l0"/><circle cx="412.0" cy="309.0" r="1.1" class="l0"/><circle cx="420.0" cy="309.5" r="1.1" class="l0"/><circle cx="426.0" cy="309.0" r="1.1" class="l0"/><circle cx="409.0" cy="311.5" r="1.1" class="l0"/><circle cx="408.5" cy="313.5" r="1.1" class="l0"/><circle cx="412.5" cy="313.5" r="1.1" class="l0"/><circle cx="420.0" cy="313.5" r="1.1" class="l0"/><circle cx="426.0" cy="313.5" r="1.1" class="l0"/><circle cx="415.0" cy="315.5" r="1.1" class="l0"/><circle cx="415.5" cy="321.0" r="1.1" class="l0"/><circle cx="419.5" cy="321.5" r="1.1" class="l0"/><circle cx="417.0" cy="327.9" r="1.1" class="l3"/><circle cx="419.6" cy="327.9" r="1.1" class="l3"/><circle cx="413.8" cy="327.7" r="1.1" class="l3"/><circle cx="422.6" cy="327.6" r="1.1" class="l3"/><circle cx="411.3" cy="327.5" r="1.1" class="l3"/><circle cx="425.4" cy="327.4" r="1.1" class="l3"/><circle cx="408.2" cy="327.7" r="1.1" class="l3"/><circle cx="428.2" cy="327.6" r="1.1" class="l3"/><circle cx="405.3" cy="327.3" r="1.1" class="l3"/><circle cx="431.3" cy="327.5" r="1.1" class="l3"/><circle cx="402.9" cy="327.6" r="1.1" class="l3"/><circle cx="434.1" cy="327.5" r="1.1" class="l3"/><circle cx="400.6" cy="327.6" r="1.1" class="l3"/><circle cx="480.5" cy="202.3" r="1.1" class="l0"/><circle cx="477.0" cy="216.0" r="1.1" class="l0"/><circle cx="480.5" cy="216.0" r="1.1" class="l0"/><circle cx="484.0" cy="216.0" r="1.1" class="l0"/><circle cx="473.5" cy="219.5" r="1.1" class="l0"/><circle cx="477.5" cy="220.0" r="1.1" class="l0"/><circle cx="483.0" cy="220.0" r="1.1" class="l0"/><circle cx="487.0" cy="219.5" r="1.1" class="l0"/><circle cx="477.0" cy="222.5" r="1.1" class="l0"/><circle cx="480.5" cy="223.0" r="1.1" class="l0"/><circle cx="484.0" cy="222.5" r="1.1" class="l0"/><circle cx="480.6" cy="226.0" r="1.1" class="l1"/><circle cx="483.4" cy="225.7" r="1.1" class="l1"/><circle cx="478.0" cy="225.6" r="1.1" class="l1"/><circle cx="486.7" cy="225.6" r="1.1" class="l1"/><circle cx="474.7" cy="225.2" r="1.1" class="l1"/><circle cx="489.4" cy="225.2" r="1.1" class="l1"/><circle cx="472.2" cy="224.9" r="1.1" class="l1"/><circle cx="492.2" cy="224.6" r="1.1" class="l1"/><circle cx="469.0" cy="224.4" r="1.1" class="l1"/><circle cx="495.4" cy="224.3" r="1.1" class="l1"/><circle cx="466.2" cy="223.9" r="1.1" class="l1"/><circle cx="497.9" cy="223.7" r="1.1" class="l1"/><circle cx="463.4" cy="223.7" r="1.1" class="l1"/><circle cx="479.8" cy="230.5" r="1.1" class="l1"/><circle cx="482.9" cy="229.9" r="1.1" class="l1"/><circle cx="476.6" cy="230.1" r="1.1" class="l1"/><circle cx="485.9" cy="229.1" r="1.1" class="l1"/><circle cx="473.4" cy="229.2" r="1.1" class="l1"/><circle cx="489.2" cy="229.1" r="1.1" class="l1"/><circle cx="470.4" cy="229.0" r="1.1" class="l1"/><circle cx="492.1" cy="228.4" r="1.1" class="l1"/><circle cx="467.3" cy="228.6" r="1.1" class="l1"/><circle cx="495.5" cy="227.8" r="1.1" class="l1"/><circle cx="464.5" cy="228.1" r="1.1" class="l1"/><circle cx="498.4" cy="227.4" r="1.1" class="l1"/><circle cx="461.1" cy="227.6" r="1.1" class="l1"/><circle cx="481.2" cy="233.9" r="1.1" class="l1"/><circle cx="483.6" cy="233.4" r="1.1" class="l1"/><circle cx="478.2" cy="233.8" r="1.1" class="l1"/><circle cx="486.5" cy="233.1" r="1.1" class="l1"/><circle cx="475.8" cy="233.3" r="1.1" class="l1"/><circle cx="489.5" cy="233.1" r="1.1" class="l1"/><circle cx="472.8" cy="232.7" r="1.1" class="l1"/><circle cx="491.9" cy="232.3" r="1.1" class="l1"/><circle cx="470.5" cy="232.3" r="1.1" class="l1"/><circle cx="494.7" cy="232.2" r="1.1" class="l1"/><circle cx="467.7" cy="231.9" r="1.1" class="l1"/><circle cx="497.6" cy="231.7" r="1.1" class="l1"/><circle cx="464.7" cy="231.7" r="1.1" class="l1"/><circle cx="499.3" cy="231.3" r="1.1" class="l1"/><circle cx="462.1" cy="231.4" r="1.1" class="l1"/><circle cx="481.6" cy="237.4" r="1.1" class="l2"/><circle cx="484.7" cy="237.1" r="1.1" class="l2"/><circle cx="479.1" cy="237.1" r="1.1" class="l2"/><circle cx="487.3" cy="236.6" r="1.1" class="l2"/><circle cx="476.0" cy="236.7" r="1.1" class="l2"/><circle cx="490.0" cy="236.4" r="1.1" class="l2"/><circle cx="473.3" cy="236.6" r="1.1" class="l2"/><circle cx="492.6" cy="236.5" r="1.1" class="l2"/><circle cx="470.6" cy="236.5" r="1.1" class="l2"/><circle cx="495.5" cy="236.1" r="1.1" class="l2"/><circle cx="468.0" cy="235.8" r="1.1" class="l2"/><circle cx="498.4" cy="235.7" r="1.1" class="l2"/><circle cx="465.2" cy="235.7" r="1.1" class="l2"/><circle cx="500.0" cy="235.6" r="1.1" class="l2"/><circle cx="462.2" cy="235.6" r="1.1" class="l2"/><circle cx="479.5" cy="241.0" r="1.1" class="l2"/><circle cx="482.1" cy="240.8" r="1.1" class="l2"/><circle cx="476.8" cy="240.5" r="1.1" class="l2"/><circle cx="484.4" cy="240.1" r="1.1" class="l2"/><circle cx="474.5" cy="240.6" r="1.1" class="l2"/><circle cx="486.9" cy="240.0" r="1.1" class="l2"/><circle cx="472.2" cy="240.2" r="1.1" class="l2"/><circle cx="489.2" cy="239.8" r="1.1" class="l2"/><circle cx="469.9" cy="240.0" r="1.1" class="l2"/><circle cx="491.4" cy="240.1" r="1.1" class="l2"/><circle cx="467.3" cy="240.0" r="1.1" class="l2"/><circle cx="493.9" cy="239.6" r="1.1" class="l2"/><circle cx="464.9" cy="239.8" r="1.1" class="l2"/><circle cx="496.4" cy="239.2" r="1.1" class="l2"/><circle cx="462.3" cy="239.3" r="1.1" class="l2"/><circle cx="498.8" cy="239.0" r="1.1" class="l2"/><circle cx="461.1" cy="239.3" r="1.1" class="l2"/><circle cx="481.6" cy="244.2" r="1.1" class="l2"/><circle cx="484.3" cy="244.3" r="1.1" class="l2"/><circle cx="479.2" cy="244.0" r="1.1" class="l2"/><circle cx="486.3" cy="243.8" r="1.1" class="l2"/><circle cx="476.9" cy="243.8" r="1.1" class="l2"/><circle cx="488.9" cy="243.6" r="1.1" class="l2"/><circle cx="474.5" cy="243.6" r="1.1" class="l2"/><circle cx="491.0" cy="243.6" r="1.1" class="l2"/><circle cx="472.0" cy="243.3" r="1.1" class="l2"/><circle cx="493.6" cy="243.1" r="1.1" class="l2"/><circle cx="469.9" cy="243.1" r="1.1" class="l2"/><circle cx="496.0" cy="243.5" r="1.1" class="l2"/><circle cx="467.5" cy="243.1" r="1.1" class="l2"/><circle cx="498.2" cy="243.0" r="1.1" class="l2"/><circle cx="465.0" cy="242.8" r="1.1" class="l2"/><circle cx="499.5" cy="242.7" r="1.1" class="l2"/><circle cx="462.6" cy="242.8" r="1.1" class="l2"/><circle cx="481.2" cy="247.9" r="1.1" class="l2"/><circle cx="483.5" cy="248.1" r="1.1" class="l2"/><circle cx="479.2" cy="247.9" r="1.1" class="l2"/><circle cx="485.9" cy="247.6" r="1.1" class="l2"/><circle cx="476.9" cy="247.9" r="1.1" class="l2"/><circle cx="488.4" cy="247.7" r="1.1" class="l2"/><circle cx="474.2" cy="247.2" r="1.1" class="l2"/><circle cx="490.8" cy="246.9" r="1.1" class="l2"/><circle cx="472.3" cy="247.2" r="1.1" class="l2"/><circle cx="492.7" cy="247.3" r="1.1" class="l2"/><circle cx="469.7" cy="247.3" r="1.1" class="l2"/><circle cx="495.1" cy="246.6" r="1.1" class="l2"/><circle cx="467.7" cy="247.1" r="1.1" class="l2"/><circle cx="497.5" cy="246.5" r="1.1" class="l2"/><circle cx="465.3" cy="246.8" r="1.1" class="l2"/><circle cx="499.0" cy="246.6" r="1.1" class="l2"/><circle cx="462.9" cy="246.2" r="1.1" class="l2"/><circle cx="480.4" cy="251.6" r="1.1" class="l2"/><circle cx="482.4" cy="251.2" r="1.1" class="l2"/><circle cx="478.1" cy="251.2" r="1.1" class="l2"/><circle cx="484.5" cy="251.3" r="1.1" class="l2"/><circle cx="475.5" cy="251.0" r="1.1" class="l2"/><circle cx="487.1" cy="251.1" r="1.1" class="l2"/><circle cx="473.2" cy="250.9" r="1.1" class="l2"/><circle cx="489.3" cy="250.9" r="1.1" class="l2"/><circle cx="471.1" cy="250.8" r="1.1" class="l2"/><circle cx="491.3" cy="250.5" r="1.1" class="l2"/><circle cx="468.9" cy="250.8" r="1.1" class="l2"/><circle cx="493.7" cy="250.5" r="1.1" class="l2"/><circle cx="466.6" cy="250.2" r="1.1" class="l2"/><circle cx="496.1" cy="250.3" r="1.1" class="l2"/><circle cx="464.3" cy="250.5" r="1.1" class="l2"/><circle cx="498.0" cy="249.9" r="1.1" class="l2"/><circle cx="462.5" cy="249.8" r="1.1" class="l2"/><circle cx="480.1" cy="254.9" r="1.1" class="l2"/><circle cx="482.4" cy="255.3" r="1.1" class="l2"/><circle cx="477.5" cy="254.7" r="1.1" class="l2"/><circle cx="484.5" cy="254.9" r="1.1" class="l2"/><circle cx="475.5" cy="254.7" r="1.1" class="l2"/><circle cx="486.8" cy="254.6" r="1.1" class="l2"/><circle cx="473.4" cy="254.6" r="1.1" class="l2"/><circle cx="489.1" cy="254.3" r="1.1" class="l2"/><circle cx="471.1" cy="254.4" r="1.1" class="l2"/><circle cx="491.7" cy="254.2" r="1.1" class="l2"/><circle cx="468.8" cy="254.2" r="1.1" class="l2"/><circle cx="493.9" cy="253.7" r="1.1" class="l2"/><circle cx="466.1" cy="253.6" r="1.1" class="l2"/><circle cx="496.3" cy="253.5" r="1.1" class="l2"/><circle cx="464.5" cy="253.5" r="1.1" class="l2"/><circle cx="480.6" cy="259.2" r="1.1" class="l2"/><circle cx="482.6" cy="258.4" r="1.1" class="l2"/><circle cx="478.0" cy="258.9" r="1.1" class="l2"/><circle cx="484.7" cy="258.2" r="1.1" class="l2"/><circle cx="476.1" cy="258.2" r="1.1" class="l2"/><circle cx="487.3" cy="258.3" r="1.1" class="l2"/><circle cx="473.9" cy="258.0" r="1.1" class="l2"/><circle cx="489.1" cy="258.2" r="1.1" class="l2"/><circle cx="471.9" cy="257.7" r="1.1" class="l2"/><circle cx="491.2" cy="258.0" r="1.1" class="l2"/><circle cx="469.5" cy="257.6" r="1.1" class="l2"/><circle cx="493.6" cy="257.4" r="1.1" class="l2"/><circle cx="467.0" cy="257.3" r="1.1" class="l2"/><circle cx="495.9" cy="257.3" r="1.1" class="l2"/><circle cx="464.8" cy="257.5" r="1.1" class="l2"/><circle cx="497.8" cy="257.0" r="1.1" class="l2"/><circle cx="462.9" cy="257.1" r="1.1" class="l2"/><circle cx="479.6" cy="262.6" r="1.1" class="l2"/><circle cx="482.1" cy="262.1" r="1.1" class="l2"/><circle cx="477.5" cy="261.9" r="1.1" class="l2"/><circle cx="484.6" cy="262.2" r="1.1" class="l2"/><circle cx="475.1" cy="262.0" r="1.1" class="l2"/><circle cx="487.3" cy="262.0" r="1.1" class="l2"/><circle cx="472.5" cy="261.7" r="1.1" class="l2"/><circle cx="489.5" cy="261.8" r="1.1" class="l2"/><circle cx="470.0" cy="261.8" r="1.1" class="l2"/><circle cx="491.7" cy="261.6" r="1.1" class="l2"/><circle cx="467.6" cy="261.2" r="1.1" class="l2"/><circle cx="494.2" cy="261.2" r="1.1" class="l2"/><circle cx="465.6" cy="261.3" r="1.1" class="l2"/><circle cx="496.7" cy="261.0" r="1.1" class="l2"/><circle cx="463.0" cy="261.0" r="1.1" class="l2"/><circle cx="498.8" cy="260.7" r="1.1" class="l2"/><circle cx="461.3" cy="260.7" r="1.1" class="l2"/><circle cx="481.5" cy="266.1" r="1.1" class="l2"/><circle cx="484.2" cy="266.1" r="1.1" class="l2"/><circle cx="478.6" cy="265.9" r="1.1" class="l2"/><circle cx="487.2" cy="265.6" r="1.1" class="l2"/><circle cx="475.9" cy="265.3" r="1.1" class="l2"/><circle cx="489.9" cy="265.3" r="1.1" class="l2"/><circle cx="473.1" cy="265.2" r="1.1" class="l2"/><circle cx="492.6" cy="265.0" r="1.1" class="l2"/><circle cx="470.6" cy="264.8" r="1.1" class="l2"/><circle cx="495.5" cy="264.6" r="1.1" class="l2"/><circle cx="467.5" cy="264.9" r="1.1" class="l2"/><circle cx="498.3" cy="264.5" r="1.1" class="l2"/><circle cx="465.1" cy="264.8" r="1.1" class="l2"/><circle cx="500.0" cy="264.5" r="1.1" class="l2"/><circle cx="462.4" cy="264.1" r="1.1" class="l2"/><circle cx="480.5" cy="269.9" r="1.1" class="l1"/><circle cx="483.0" cy="269.6" r="1.1" class="l1"/><circle cx="478.2" cy="269.8" r="1.1" class="l1"/><circle cx="485.3" cy="269.5" r="1.1" class="l1"/><circle cx="475.5" cy="269.7" r="1.1" class="l1"/><circle cx="487.9" cy="268.9" r="1.1" class="l1"/><circle cx="473.5" cy="269.4" r="1.1" class="l1"/><circle cx="490.4" cy="268.6" r="1.1" class="l1"/><circle cx="471.0" cy="268.8" r="1.1" class="l1"/><circle cx="492.7" cy="268.6" r="1.1" class="l1"/><circle cx="468.7" cy="268.7" r="1.1" class="l1"/><circle cx="495.2" cy="268.1" r="1.1" class="l1"/><circle cx="466.2" cy="268.1" r="1.1" class="l1"/><circle cx="497.5" cy="267.7" r="1.1" class="l1"/><circle cx="463.9" cy="267.8" r="1.1" class="l1"/><circle cx="499.8" cy="267.7" r="1.1" class="l1"/><circle cx="461.3" cy="267.9" r="1.1" class="l1"/><circle cx="480.1" cy="273.1" r="1.1" class="l1"/><circle cx="482.9" cy="273.0" r="1.1" class="l1"/><circle cx="477.2" cy="272.9" r="1.1" class="l1"/><circle cx="485.6" cy="272.9" r="1.1" class="l1"/><circle cx="474.5" cy="272.7" r="1.1" class="l1"/><circle cx="488.2" cy="272.4" r="1.1" class="l1"/><circle cx="472.0" cy="272.5" r="1.1" class="l1"/><circle cx="490.9" cy="272.2" r="1.1" class="l1"/><circle cx="469.0" cy="272.5" r="1.1" class="l1"/><circle cx="493.9" cy="271.9" r="1.1" class="l1"/><circle cx="466.3" cy="272.4" r="1.1" class="l1"/><circle cx="496.4" cy="271.8" r="1.1" class="l1"/><circle cx="463.8" cy="271.8" r="1.1" class="l1"/><circle cx="499.3" cy="271.9" r="1.1" class="l1"/><circle cx="461.4" cy="271.6" r="1.1" class="l1"/><circle cx="479.9" cy="277.1" r="1.1" class="l1"/><circle cx="482.4" cy="277.1" r="1.1" class="l1"/><circle cx="477.2" cy="276.8" r="1.1" class="l1"/><circle cx="485.2" cy="276.5" r="1.1" class="l1"/><circle cx="474.5" cy="276.5" r="1.1" class="l1"/><circle cx="487.9" cy="276.1" r="1.1" class="l1"/><circle cx="472.0" cy="276.3" r="1.1" class="l1"/><circle cx="490.6" cy="276.1" r="1.1" class="l1"/><circle cx="469.1" cy="275.8" r="1.1" class="l1"/><circle cx="493.2" cy="275.7" r="1.1" class="l1"/><circle cx="466.4" cy="275.8" r="1.1" class="l1"/><circle cx="496.2" cy="275.5" r="1.1" class="l1"/><circle cx="463.5" cy="275.6" r="1.1" class="l1"/><circle cx="498.8" cy="275.0" r="1.1" class="l1"/><circle cx="461.6" cy="275.4" r="1.1" class="l1"/><circle cx="479.8" cy="281.0" r="1.1" class="l1"/><circle cx="482.6" cy="280.5" r="1.1" class="l1"/><circle cx="477.4" cy="280.8" r="1.1" class="l1"/><circle cx="485.1" cy="280.2" r="1.1" class="l1"/><circle cx="474.4" cy="280.5" r="1.1" class="l1"/><circle cx="488.2" cy="280.3" r="1.1" class="l1"/><circle cx="471.7" cy="280.1" r="1.1" class="l1"/><circle cx="490.8" cy="279.8" r="1.1" class="l1"/><circle cx="469.3" cy="279.6" r="1.1" class="l1"/><circle cx="493.5" cy="279.5" r="1.1" class="l1"/><circle cx="466.6" cy="279.6" r="1.1" class="l1"/><circle cx="496.2" cy="279.1" r="1.1" class="l1"/><circle cx="463.9" cy="279.1" r="1.1" class="l1"/><circle cx="498.5" cy="278.6" r="1.1" class="l1"/><circle cx="461.8" cy="278.8" r="1.1" class="l1"/><circle cx="481.1" cy="284.8" r="1.1" class="l1"/><circle cx="483.8" cy="284.2" r="1.1" class="l1"/><circle cx="478.2" cy="284.0" r="1.1" class="l1"/><circle cx="486.5" cy="283.8" r="1.1" class="l1"/><circle cx="475.8" cy="284.1" r="1.1" class="l1"/><circle cx="488.7" cy="284.0" r="1.1" class="l1"/><circle cx="472.8" cy="284.0" r="1.1" class="l1"/><circle cx="491.8" cy="283.6" r="1.1" class="l1"/><circle cx="470.6" cy="283.4" r="1.1" class="l1"/><circle cx="494.3" cy="283.3" r="1.1" class="l1"/><circle cx="467.5" cy="283.0" r="1.1" class="l1"/><circle cx="496.9" cy="282.6" r="1.1" class="l1"/><circle cx="464.9" cy="282.9" r="1.1" class="l1"/><circle cx="499.1" cy="282.6" r="1.1" class="l1"/><circle cx="462.5" cy="282.5" r="1.1" class="l1"/><circle cx="479.6" cy="288.5" r="1.1" class="l1"/><circle cx="482.3" cy="287.9" r="1.1" class="l1"/><circle cx="476.9" cy="287.7" r="1.1" class="l1"/><circle cx="484.5" cy="287.6" r="1.1" class="l1"/><circle cx="474.3" cy="288.0" r="1.1" class="l1"/><circle cx="487.4" cy="287.7" r="1.1" class="l1"/><circle cx="471.4" cy="287.5" r="1.1" class="l1"/><circle cx="490.2" cy="287.1" r="1.1" class="l1"/><circle cx="469.0" cy="287.2" r="1.1" class="l1"/><circle cx="492.6" cy="286.9" r="1.1" class="l1"/><circle cx="466.2" cy="286.6" r="1.1" class="l1"/><circle cx="495.1" cy="286.4" r="1.1" class="l1"/><circle cx="463.8" cy="286.3" r="1.1" class="l1"/><circle cx="498.0" cy="286.6" r="1.1" class="l1"/><circle cx="462.1" cy="286.5" r="1.1" class="l1"/><circle cx="481.0" cy="292.3" r="1.1" class="l1"/><circle cx="483.3" cy="291.9" r="1.1" class="l1"/><circle cx="478.1" cy="291.6" r="1.1" class="l1"/><circle cx="485.7" cy="291.5" r="1.1" class="l1"/><circle cx="475.3" cy="291.5" r="1.1" class="l1"/><circle cx="488.8" cy="291.0" r="1.1" class="l1"/><circle cx="472.7" cy="291.4" r="1.1" class="l1"/><circle cx="491.2" cy="290.9" r="1.1" class="l1"/><circle cx="470.2" cy="290.6" r="1.1" class="l1"/><circle cx="493.8" cy="290.5" r="1.1" class="l1"/><circle cx="467.5" cy="290.5" r="1.1" class="l1"/><circle cx="496.5" cy="290.2" r="1.1" class="l1"/><circle cx="465.1" cy="289.9" r="1.1" class="l1"/><circle cx="498.8" cy="290.0" r="1.1" class="l1"/><circle cx="462.5" cy="289.8" r="1.1" class="l1"/><circle cx="480.9" cy="295.8" r="1.1" class="l1"/><circle cx="483.5" cy="295.6" r="1.1" class="l1"/><circle cx="478.2" cy="295.7" r="1.1" class="l1"/><circle cx="485.9" cy="294.9" r="1.1" class="l1"/><circle cx="475.7" cy="295.2" r="1.1" class="l1"/><circle cx="488.7" cy="295.1" r="1.1" class="l1"/><circle cx="473.0" cy="295.0" r="1.1" class="l1"/><circle cx="491.0" cy="294.7" r="1.1" class="l1"/><circle cx="470.5" cy="294.8" r="1.1" class="l1"/><circle cx="493.9" cy="294.1" r="1.1" class="l1"/><circle cx="468.2" cy="294.2" r="1.1" class="l1"/><circle cx="496.1" cy="293.6" r="1.1" class="l1"/><circle cx="465.2" cy="293.9" r="1.1" class="l1"/><circle cx="498.6" cy="293.3" r="1.1" class="l1"/><circle cx="462.6" cy="293.5" r="1.1" class="l1"/><circle cx="480.2" cy="299.2" r="1.1" class="l1"/><circle cx="482.8" cy="299.2" r="1.1" class="l1"/><circle cx="477.7" cy="299.2" r="1.1" class="l1"/><circle cx="485.6" cy="298.9" r="1.1" class="l1"/><circle cx="475.3" cy="299.0" r="1.1" class="l1"/><circle cx="487.9" cy="298.4" r="1.1" class="l1"/><circle cx="472.5" cy="298.4" r="1.1" class="l1"/><circle cx="490.5" cy="298.2" r="1.1" class="l1"/><circle cx="469.8" cy="298.5" r="1.1" class="l1"/><circle cx="493.1" cy="298.1" r="1.1" class="l1"/><circle cx="467.6" cy="297.9" r="1.1" class="l1"/><circle cx="495.8" cy="297.7" r="1.1" class="l1"/><circle cx="465.2" cy="297.6" r="1.1" class="l1"/><circle cx="498.1" cy="297.5" r="1.1" class="l1"/><circle cx="462.6" cy="297.4" r="1.1" class="l1"/><circle cx="481.4" cy="303.7" r="1.1" class="l1"/><circle cx="484.1" cy="302.9" r="1.1" class="l1"/><circle cx="478.5" cy="303.0" r="1.1" class="l1"/><circle cx="486.7" cy="302.8" r="1.1" class="l1"/><circle cx="476.0" cy="302.5" r="1.1" class="l1"/><circle cx="489.9" cy="301.8" r="1.1" class="l1"/><circle cx="473.2" cy="302.2" r="1.1" class="l1"/><circle cx="492.3" cy="301.4" r="1.1" class="l1"/><circle cx="470.6" cy="301.8" r="1.1" class="l1"/><circle cx="495.4" cy="300.8" r="1.1" class="l1"/><circle cx="467.4" cy="301.0" r="1.1" class="l1"/><circle cx="496.7" cy="300.7" r="1.1" class="l1"/><circle cx="465.0" cy="300.9" r="1.1" class="l1"/><circle cx="467.0" cy="306.1" r="1.1" class="l0"/><circle cx="471.0" cy="306.9" r="1.1" class="l0"/><circle cx="475.0" cy="307.6" r="1.1" class="l0"/><circle cx="479.0" cy="308.4" r="1.1" class="l0"/><circle cx="482.6" cy="308.2" r="1.1" class="l0"/><circle cx="486.0" cy="307.5" r="1.1" class="l0"/><circle cx="490.0" cy="306.8" r="1.1" class="l0"/><circle cx="493.5" cy="306.1" r="1.1" class="l0"/><circle cx="465.3" cy="309.9" r="1.1" class="l0"/><circle cx="469.3" cy="310.6" r="1.1" class="l0"/><circle cx="472.8" cy="311.3" r="1.1" class="l0"/><circle cx="476.8" cy="312.1" r="1.1" class="l0"/><circle cx="480.8" cy="312.7" r="1.1" class="l0"/><circle cx="484.9" cy="311.9" r="1.1" class="l0"/><circle cx="488.3" cy="311.3" r="1.1" class="l0"/><circle cx="491.8" cy="310.6" r="1.1" class="l0"/><circle cx="495.8" cy="309.8" r="1.1" class="l0"/><circle cx="478.3" cy="318.5" r="1.1" class="l0"/><circle cx="482.2" cy="318.8" r="1.1" class="l0"/><circle cx="480.5" cy="323.0" r="1.1" class="l0"/></g>
<g><line x1="70.2" y1="24.8" x2="70.2" y2="142.2" stroke="#1e1e1e" stroke-width="1.4"/><line x1="67.0" y1="141.5" x2="70.2" y2="141.5" stroke="#1e1e1e" stroke-width="1.2"/><line x1="67.0" y1="118.8" x2="70.2" y2="118.8" stroke="#1e1e1e" stroke-width="1.2"/><line x1="67.0" y1="96.0" x2="70.2" y2="96.0" stroke="#1e1e1e" stroke-width="1.2"/><line x1="67.0" y1="73.3" x2="70.2" y2="73.3" stroke="#1e1e1e" stroke-width="1.2"/><line x1="67.0" y1="50.5" x2="70.2" y2="50.5" stroke="#1e1e1e" stroke-width="1.2"/><line x1="67.0" y1="27.8" x2="70.2" y2="27.8" stroke="#1e1e1e" stroke-width="1.2"/><line x1="68.6" y1="134.7" x2="70.2" y2="134.7" stroke="#1e1e1e" stroke-width="0.9"/><line x1="68.6" y1="130.7" x2="70.2" y2="130.7" stroke="#1e1e1e" stroke-width="0.9"/><line x1="68.6" y1="127.8" x2="70.2" y2="127.8" stroke="#1e1e1e" stroke-width="0.9"/><line x1="68.6" y1="125.6" x2="70.2" y2="125.6" stroke="#1e1e1e" stroke-width="0.9"/><line x1="68.6" y1="123.8" x2="70.2" y2="123.8" stroke="#1e1e1e" stroke-width="0.9"/><line x1="68.6" y1="122.3" x2="70.2" y2="122.3" stroke="#1e1e1e" stroke-width="0.9"/><line x1="68.6" y1="121.0" x2="70.2" y2="121.0" stroke="#1e1e1e" stroke-width="0.9"/><line x1="68.6" y1="119.8" x2="70.2" y2="119.8" stroke="#1e1e1e" stroke-width="0.9"/><line x1="68.6" y1="111.9" x2="70.2" y2="111.9" stroke="#1e1e1e" stroke-width="0.9"/><line x1="68.6" y1="107.9" x2="70.2" y2="107.9" stroke="#1e1e1e" stroke-width="0.9"/><line x1="68.6" y1="105.1" x2="70.2" y2="105.1" stroke="#1e1e1e" stroke-width="0.9"/><line x1="68.6" y1="102.9" x2="70.2" y2="102.9" stroke="#1e1e1e" stroke-width="0.9"/><line x1="68.6" y1="101.1" x2="70.2" y2="101.1" stroke="#1e1e1e" stroke-width="0.9"/><line x1="68.6" y1="99.5" x2="70.2" y2="99.5" stroke="#1e1e1e" stroke-width="0.9"/><line x1="68.6" y1="98.2" x2="70.2" y2="98.2" stroke="#1e1e1e" stroke-width="0.9"/><line x1="68.6" y1="97.1" x2="70.2" y2="97.1" stroke="#1e1e1e" stroke-width="0.9"/><line x1="68.6" y1="89.2" x2="70.2" y2="89.2" stroke="#1e1e1e" stroke-width="0.9"/><line x1="68.6" y1="85.2" x2="70.2" y2="85.2" stroke="#1e1e1e" stroke-width="0.9"/><line x1="68.6" y1="82.3" x2="70.2" y2="82.3" stroke="#1e1e1e" stroke-width="0.9"/><line x1="68.6" y1="80.1" x2="70.2" y2="80.1" stroke="#1e1e1e" stroke-width="0.9"/><line x1="68.6" y1="78.3" x2="70.2" y2="78.3" stroke="#1e1e1e" stroke-width="0.9"/><line x1="68.6" y1="76.8" x2="70.2" y2="76.8" stroke="#1e1e1e" stroke-width="0.9"/><line x1="68.6" y1="75.5" x2="70.2" y2="75.5" stroke="#1e1e1e" stroke-width="0.9"/><line x1="68.6" y1="74.3" x2="70.2" y2="74.3" stroke="#1e1e1e" stroke-width="0.9"/><line x1="68.6" y1="66.4" x2="70.2" y2="66.4" stroke="#1e1e1e" stroke-width="0.9"/><line x1="68.6" y1="62.4" x2="70.2" y2="62.4" stroke="#1e1e1e" stroke-width="0.9"/><line x1="68.6" y1="59.6" x2="70.2" y2="59.6" stroke="#1e1e1e" stroke-width="0.9"/><line x1="68.6" y1="57.4" x2="70.2" y2="57.4" stroke="#1e1e1e" stroke-width="0.9"/><line x1="68.6" y1="55.6" x2="70.2" y2="55.6" stroke="#1e1e1e" stroke-width="0.9"/><line x1="68.6" y1="54.1" x2="70.2" y2="54.1" stroke="#1e1e1e" stroke-width="0.9"/><line x1="68.6" y1="52.7" x2="70.2" y2="52.7" stroke="#1e1e1e" stroke-width="0.9"/><line x1="68.6" y1="51.6" x2="70.2" y2="51.6" stroke="#1e1e1e" stroke-width="0.9"/><line x1="68.6" y1="43.7" x2="70.2" y2="43.7" stroke="#1e1e1e" stroke-width="0.9"/><line x1="68.6" y1="39.7" x2="70.2" y2="39.7" stroke="#1e1e1e" stroke-width="0.9"/><line x1="68.6" y1="36.8" x2="70.2" y2="36.8" stroke="#1e1e1e" stroke-width="0.9"/><line x1="68.6" y1="34.6" x2="70.2" y2="34.6" stroke="#1e1e1e" stroke-width="0.9"/><line x1="68.6" y1="32.8" x2="70.2" y2="32.8" stroke="#1e1e1e" stroke-width="0.9"/><line x1="68.6" y1="31.3" x2="70.2" y2="31.3" stroke="#1e1e1e" stroke-width="0.9"/><line x1="68.6" y1="30.0" x2="70.2" y2="30.0" stroke="#1e1e1e" stroke-width="0.9"/><line x1="68.6" y1="28.8" x2="70.2" y2="28.8" stroke="#1e1e1e" stroke-width="0.9"/><line x1="69.5" y1="141.5" x2="242.0" y2="141.5" stroke="#1e1e1e" stroke-width="1.4"/><line x1="98.5" y1="141.5" x2="98.5" y2="144.5" stroke="#1e1e1e" stroke-width="1.0"/><line x1="155.4" y1="141.5" x2="155.4" y2="144.5" stroke="#1e1e1e" stroke-width="1.0"/><line x1="212.4" y1="141.5" x2="212.4" y2="144.5" stroke="#1e1e1e" stroke-width="1.0"/><line x1="324.0" y1="36.0" x2="324.0" y2="146.2" stroke="#1e1e1e" stroke-width="1.4"/><line x1="320.8" y1="145.5" x2="324.0" y2="145.5" stroke="#1e1e1e" stroke-width="1.2"/><line x1="320.8" y1="127.7" x2="324.0" y2="127.7" stroke="#1e1e1e" stroke-width="1.2"/><line x1="320.8" y1="109.8" x2="324.0" y2="109.8" stroke="#1e1e1e" stroke-width="1.2"/><line x1="320.8" y1="92.0" x2="324.0" y2="92.0" stroke="#1e1e1e" stroke-width="1.2"/><line x1="320.8" y1="74.2" x2="324.0" y2="74.2" stroke="#1e1e1e" stroke-width="1.2"/><line x1="320.8" y1="56.3" x2="324.0" y2="56.3" stroke="#1e1e1e" stroke-width="1.2"/><line x1="320.8" y1="38.5" x2="324.0" y2="38.5" stroke="#1e1e1e" stroke-width="1.2"/><line x1="323.3" y1="145.5" x2="485.4" y2="145.5" stroke="#1e1e1e" stroke-width="1.4"/><line x1="364.0" y1="145.5" x2="364.0" y2="148.5" stroke="#1e1e1e" stroke-width="1.0"/><line x1="444.2" y1="145.5" x2="444.2" y2="148.5" stroke="#1e1e1e" stroke-width="1.0"/><line x1="70.2" y1="197.9" x2="70.2" y2="327.9" stroke="#1e1e1e" stroke-width="1.4"/><line x1="67.0" y1="327.2" x2="70.2" y2="327.2" stroke="#1e1e1e" stroke-width="1.2"/><line x1="67.0" y1="301.9" x2="70.2" y2="301.9" stroke="#1e1e1e" stroke-width="1.2"/><line x1="67.0" y1="276.7" x2="70.2" y2="276.7" stroke="#1e1e1e" stroke-width="1.2"/><line x1="67.0" y1="251.4" x2="70.2" y2="251.4" stroke="#1e1e1e" stroke-width="1.2"/><line x1="67.0" y1="226.2" x2="70.2" y2="226.2" stroke="#1e1e1e" stroke-width="1.2"/><line x1="67.0" y1="200.9" x2="70.2" y2="200.9" stroke="#1e1e1e" stroke-width="1.2"/><line x1="69.5" y1="327.2" x2="259.7" y2="327.2" stroke="#1e1e1e" stroke-width="1.4"/><line x1="101.7" y1="327.2" x2="101.7" y2="330.2" stroke="#1e1e1e" stroke-width="1.0"/><line x1="165.0" y1="327.2" x2="165.0" y2="330.2" stroke="#1e1e1e" stroke-width="1.0"/><line x1="227.8" y1="327.2" x2="227.8" y2="330.2" stroke="#1e1e1e" stroke-width="1.0"/><line x1="323.9" y1="199.3" x2="323.9" y2="328.0" stroke="#1e1e1e" stroke-width="1.4"/><line x1="320.7" y1="327.3" x2="323.9" y2="327.3" stroke="#1e1e1e" stroke-width="1.2"/><line x1="320.7" y1="302.3" x2="323.9" y2="302.3" stroke="#1e1e1e" stroke-width="1.2"/><line x1="320.7" y1="277.3" x2="323.9" y2="277.3" stroke="#1e1e1e" stroke-width="1.2"/><line x1="320.7" y1="252.3" x2="323.9" y2="252.3" stroke="#1e1e1e" stroke-width="1.2"/><line x1="320.7" y1="227.3" x2="323.9" y2="227.3" stroke="#1e1e1e" stroke-width="1.2"/><line x1="320.7" y1="202.3" x2="323.9" y2="202.3" stroke="#1e1e1e" stroke-width="1.2"/><line x1="323.2" y1="327.3" x2="512.1" y2="327.3" stroke="#1e1e1e" stroke-width="1.4"/><line x1="355.4" y1="327.3" x2="355.4" y2="330.3" stroke="#1e1e1e" stroke-width="1.0"/><line x1="417.7" y1="327.3" x2="417.7" y2="330.3" stroke="#1e1e1e" stroke-width="1.0"/><line x1="480.4" y1="327.3" x2="480.4" y2="330.3" stroke="#1e1e1e" stroke-width="1.0"/><text transform="translate(63.3,144.75) scale(0.935,1)" font-size="9.2" text-anchor="end">1</text><text transform="translate(63.3,122.01) scale(0.935,1)" font-size="9.2" text-anchor="end">10</text><text transform="translate(63.3,99.27) scale(0.935,1)" font-size="9.2" text-anchor="end">100</text><text transform="translate(63.3,76.53) scale(0.935,1)" font-size="9.2" text-anchor="end">1000</text><text transform="translate(63.3,53.79) scale(0.935,1)" font-size="9.2" text-anchor="end">10000</text><text transform="translate(63.3,31.05) scale(0.935,1)" font-size="9.2" text-anchor="end">100000</text><text transform="translate(317.2,148.75) scale(0.935,1)" font-size="9.2" text-anchor="end">0</text><text transform="translate(317.2,130.92) scale(0.935,1)" font-size="9.2" text-anchor="end">20</text><text transform="translate(317.2,113.08) scale(0.935,1)" font-size="9.2" text-anchor="end">40</text><text transform="translate(317.2,95.25) scale(0.935,1)" font-size="9.2" text-anchor="end">60</text><text transform="translate(317.2,77.42) scale(0.935,1)" font-size="9.2" text-anchor="end">80</text><text transform="translate(317.2,59.58) scale(0.935,1)" font-size="9.2" text-anchor="end">100</text><text transform="translate(317.2,41.75) scale(0.935,1)" font-size="9.2" text-anchor="end">120</text><text transform="translate(63.3,330.45) scale(0.935,1)" font-size="9.2" text-anchor="end">0</text><text transform="translate(63.3,305.19) scale(0.935,1)" font-size="9.2" text-anchor="end">20</text><text transform="translate(63.3,279.93) scale(0.935,1)" font-size="9.2" text-anchor="end">40</text><text transform="translate(63.3,254.67) scale(0.935,1)" font-size="9.2" text-anchor="end">60</text><text transform="translate(63.3,229.41) scale(0.935,1)" font-size="9.2" text-anchor="end">80</text><text transform="translate(63.3,204.15) scale(0.935,1)" font-size="9.2" text-anchor="end">100</text><text transform="translate(317.4,330.55) scale(0.935,1)" font-size="9.2" text-anchor="end">0</text><text transform="translate(317.4,305.55) scale(0.935,1)" font-size="9.2" text-anchor="end">20</text><text transform="translate(317.4,280.55) scale(0.935,1)" font-size="9.2" text-anchor="end">40</text><text transform="translate(317.4,255.55) scale(0.935,1)" font-size="9.2" text-anchor="end">60</text><text transform="translate(317.4,230.55) scale(0.935,1)" font-size="9.2" text-anchor="end">80</text><text transform="translate(317.4,205.55) scale(0.935,1)" font-size="9.2" text-anchor="end">100</text><text transform="translate(98.5,156.5) scale(0.885,1)" font-size="9.8" text-anchor="middle">Sum</text><text transform="translate(155.4,156.5) scale(0.885,1)" font-size="9.8" text-anchor="middle">PEVs</text><text transform="translate(212.4,156.5) scale(0.885,1)" font-size="9.8" text-anchor="middle">EEVs</text><text transform="translate(364.0,160.8) scale(0.885,1)" font-size="9.8" text-anchor="middle">PEVs</text><text transform="translate(444.2,160.8) scale(0.885,1)" font-size="9.8" text-anchor="middle">EEVs</text><text transform="translate(101.7,342.0) scale(0.885,1)" font-size="9.8" text-anchor="middle">Sum</text><text transform="translate(165.0,342.0) scale(0.885,1)" font-size="9.8" text-anchor="middle">PMPs</text><text transform="translate(227.8,342.0) scale(0.885,1)" font-size="9.8" text-anchor="middle">EEVs</text><text transform="translate(355.4,342.0) scale(0.885,1)" font-size="9.8" text-anchor="middle">Sum</text><text transform="translate(417.7,342.0) scale(0.885,1)" font-size="9.8" text-anchor="middle">PEVs</text><text transform="translate(480.4,342.0) scale(0.885,1)" font-size="9.8" text-anchor="middle">EEVs</text><text x="7.6" y="156.0" font-size="9.3" text-anchor="start" font-style="italic">N=1230</text><text x="23.0" y="341.6" font-size="9.3" text-anchor="start" font-style="italic">N=1226</text><text x="277.0" y="341.6" font-size="9.3" text-anchor="start" font-style="italic">N=1226</text><text x="7.2" y="16.7" font-size="13.2" text-anchor="start" font-weight="bold" style="fill:#000" stroke="#000" stroke-width="0.3">A</text><text x="276.9" y="16.9" font-size="13.2" text-anchor="start" font-weight="bold" style="fill:#000" stroke="#000" stroke-width="0.3">B</text><text x="7.7" y="190.0" font-size="13.2" text-anchor="start" font-weight="bold" style="fill:#000" stroke="#000" stroke-width="0.3">C</text><text x="276.4" y="189.8" font-size="13.2" text-anchor="start" font-weight="bold" style="fill:#000" stroke="#000" stroke-width="0.3">D</text><text transform="translate(26.8,83.5) rotate(-90) scale(0.762,1)" font-size="9.3" text-anchor="middle" stroke="#2b2b2b" stroke-width="0.3">EVs/&#956;L</text><text transform="translate(296.0,92.0) rotate(-90) scale(0.752,1)" font-size="9.3" text-anchor="middle" stroke="#2b2b2b" stroke-width="0.3">% among total EV</text><text transform="translate(41.1,262.0) rotate(-90) scale(0.805,1)" font-size="9.3" text-anchor="middle" stroke="#2b2b2b" stroke-width="0.3">% of A5+ EVs</text><text transform="translate(294.7,264.0) rotate(-90) scale(0.798,1)" font-size="9.3" text-anchor="middle" stroke="#2b2b2b" stroke-width="0.3">% of 0,3 to 0,5&#956;m EVs</text></g>
<g><line x1="98.5" y1="57.5" x2="98.5" y2="141.5" stroke="#111" stroke-width="1.0"/><line x1="79.0" y1="70.6" x2="118.2" y2="70.6" stroke="#111" stroke-width="1.5"/><line x1="88.8" y1="57.5" x2="107.8" y2="57.5" stroke="#111" stroke-width="1.0"/><line x1="155.4" y1="59.2" x2="155.4" y2="141.5" stroke="#111" stroke-width="1.0"/><line x1="136.0" y1="77.3" x2="175.7" y2="77.3" stroke="#111" stroke-width="1.5"/><line x1="146.3" y1="59.2" x2="165.4" y2="59.2" stroke="#111" stroke-width="1.0"/><line x1="212.4" y1="66.5" x2="212.4" y2="141.5" stroke="#111" stroke-width="1.0"/><line x1="193.0" y1="77.1" x2="232.7" y2="77.1" stroke="#111" stroke-width="1.5"/><line x1="203.3" y1="66.5" x2="223.0" y2="66.5" stroke="#111" stroke-width="1.0"/><line x1="364.0" y1="106.8" x2="364.0" y2="145.5" stroke="#111" stroke-width="1.0"/><line x1="336.3" y1="131.0" x2="391.7" y2="131.0" stroke="#111" stroke-width="1.5"/><line x1="350.7" y1="106.8" x2="377.3" y2="106.8" stroke="#111" stroke-width="1.0"/><line x1="444.2" y1="47.5" x2="444.2" y2="96.3" stroke="#111" stroke-width="1.0"/><line x1="416.9" y1="71.4" x2="472.2" y2="71.4" stroke="#111" stroke-width="1.5"/><line x1="431.9" y1="47.5" x2="457.6" y2="47.5" stroke="#111" stroke-width="1.0"/><line x1="431.9" y1="96.3" x2="457.8" y2="96.3" stroke="#111" stroke-width="1.0"/><line x1="101.7" y1="201.0" x2="101.7" y2="251.5" stroke="#111" stroke-width="1.0"/><line x1="80.7" y1="226.1" x2="122.7" y2="226.1" stroke="#111" stroke-width="1.5"/><line x1="91.0" y1="201.0" x2="111.8" y2="201.0" stroke="#111" stroke-width="1.0"/><line x1="91.0" y1="251.5" x2="112.4" y2="251.5" stroke="#111" stroke-width="1.0"/><line x1="165.0" y1="222.5" x2="165.0" y2="293.5" stroke="#111" stroke-width="1.0"/><line x1="143.7" y1="257.1" x2="185.7" y2="257.1" stroke="#111" stroke-width="1.5"/><line x1="154.0" y1="222.5" x2="175.4" y2="222.5" stroke="#111" stroke-width="1.0"/><line x1="154.0" y1="293.5" x2="174.8" y2="293.5" stroke="#111" stroke-width="1.0"/><line x1="227.8" y1="201.3" x2="227.8" y2="239.4" stroke="#111" stroke-width="1.0"/><line x1="206.7" y1="219.8" x2="248.7" y2="219.8" stroke="#111" stroke-width="1.5"/><line x1="217.0" y1="201.3" x2="238.4" y2="201.3" stroke="#111" stroke-width="1.0"/><line x1="217.0" y1="239.4" x2="238.4" y2="239.4" stroke="#111" stroke-width="1.0"/><line x1="355.4" y1="237.5" x2="355.4" y2="279.4" stroke="#111" stroke-width="1.0"/><line x1="334.2" y1="258.2" x2="375.7" y2="258.2" stroke="#111" stroke-width="1.5"/><line x1="344.6" y1="237.5" x2="365.4" y2="237.5" stroke="#111" stroke-width="1.0"/><line x1="345.2" y1="279.4" x2="365.4" y2="279.4" stroke="#111" stroke-width="1.0"/><line x1="417.7" y1="212.3" x2="417.7" y2="283.6" stroke="#111" stroke-width="1.0"/><line x1="396.7" y1="247.3" x2="438.7" y2="247.3" stroke="#111" stroke-width="1.5"/><line x1="407.0" y1="212.3" x2="428.4" y2="212.3" stroke="#111" stroke-width="1.0"/><line x1="407.0" y1="283.6" x2="427.8" y2="283.6" stroke="#111" stroke-width="1.0"/><line x1="480.4" y1="244.4" x2="480.4" y2="281.1" stroke="#111" stroke-width="1.0"/><line x1="459.5" y1="262.9" x2="501.6" y2="262.9" stroke="#111" stroke-width="1.5"/><line x1="469.9" y1="244.4" x2="490.6" y2="244.4" stroke="#111" stroke-width="1.0"/><line x1="469.9" y1="281.1" x2="490.6" y2="281.1" stroke="#111" stroke-width="1.0"/></g>
</svg>
</body></html>
